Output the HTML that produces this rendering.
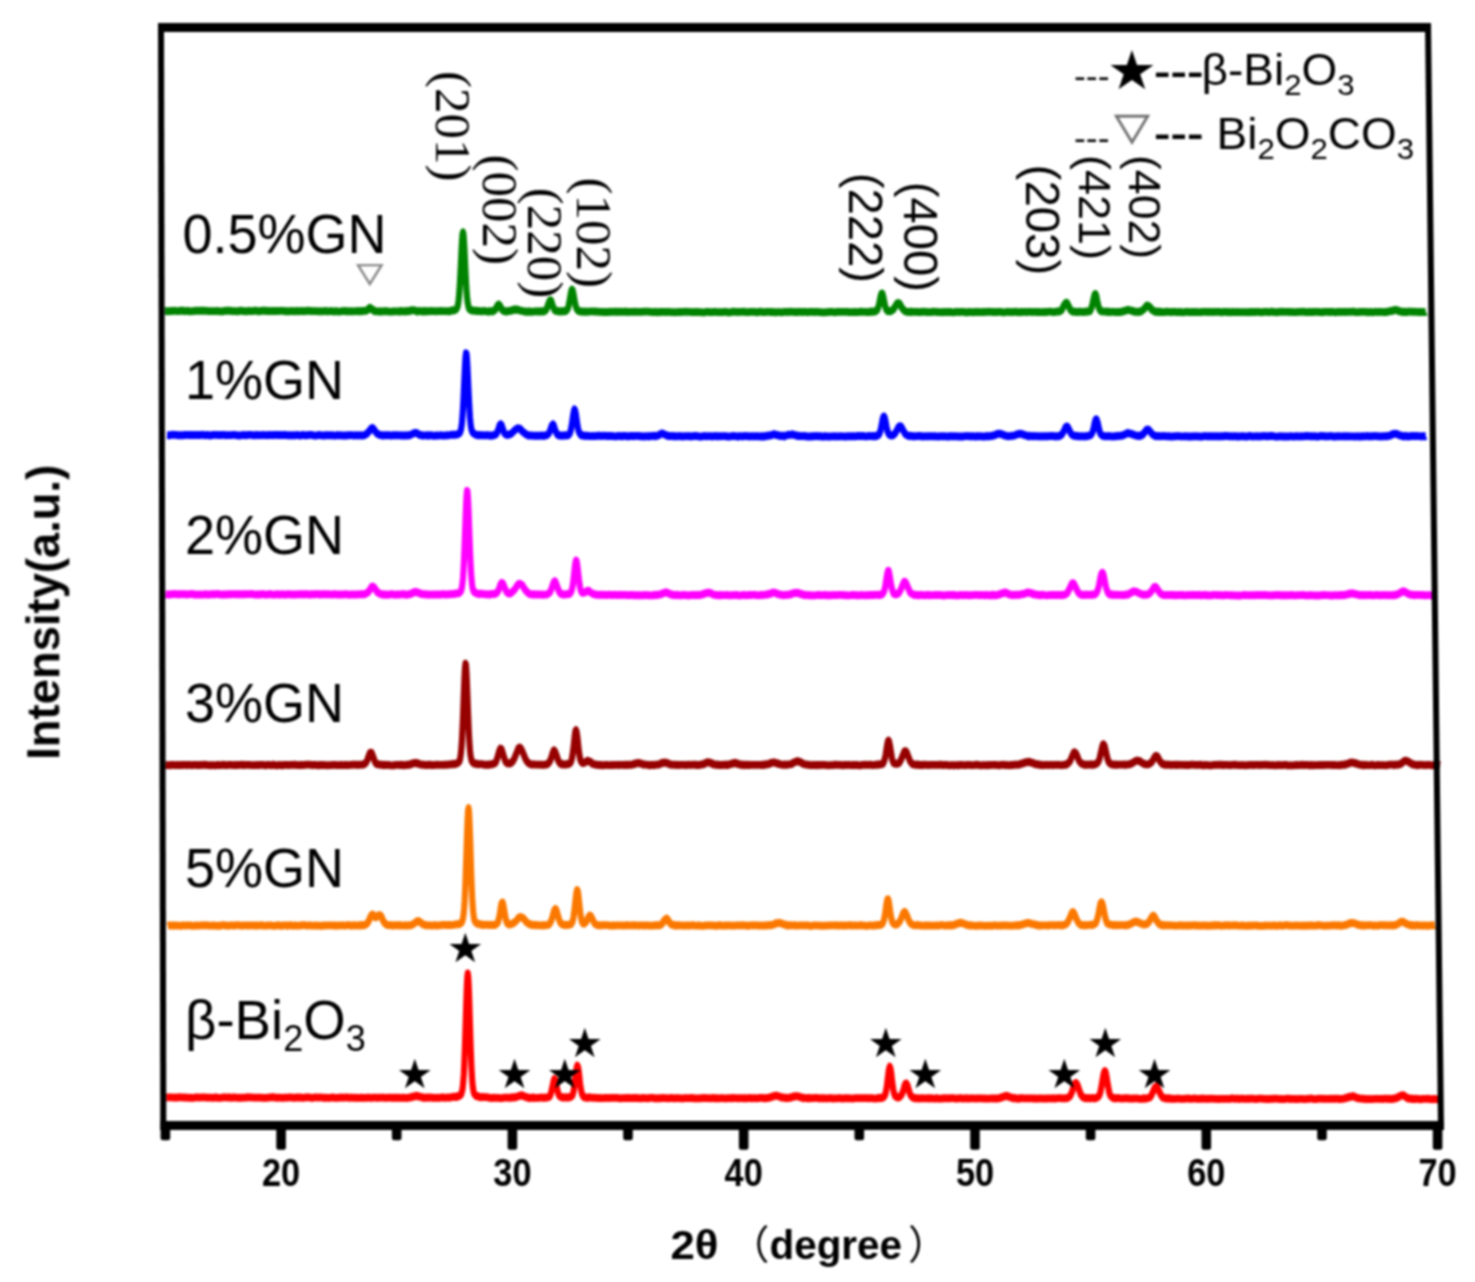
<!DOCTYPE html>
<html lang="en"><head><meta charset="utf-8"><title>XRD patterns</title>
<style>html,body{margin:0;padding:0;background:#fff}svg{display:block}.s{font-family:"Liberation Sans","DejaVu Sans",sans-serif}.r{font-family:"Liberation Serif","DejaVu Serif",serif}.b{font-family:"Liberation Sans","Noto Sans CJK SC",sans-serif;font-weight:bold}.g{font-family:"DejaVu Sans","Liberation Sans",sans-serif}</style></head><body>
<svg width="1475" height="1282" viewBox="0 0 1475 1282">
<defs><filter id="soft" x="0" y="0" width="1475" height="1282" filterUnits="userSpaceOnUse" color-interpolation-filters="sRGB"><feGaussianBlur stdDeviation="0.80"/></filter></defs>
<rect width="1475" height="1282" fill="#fff"/>
<g filter="url(#soft)">
<g id="curves" fill="none" stroke-width="6.15" stroke-linejoin="round" stroke-linecap="butt" transform="scale(1,1.270)">
<path stroke="#008300" d="M165.0,244.9 L166.5,244.9 L168.0,245.1 L169.5,244.9 L171.0,244.9 L172.5,244.9 L174.0,244.7 L175.5,244.8 L177.0,244.9 L178.5,245.0 L180.0,244.7 L181.5,244.7 L183.0,244.6 L184.5,245.0 L186.0,245.0 L187.5,244.7 L189.0,245.1 L190.5,245.2 L192.0,245.0 L193.5,245.0 L195.0,244.8 L196.5,244.6 L198.0,244.8 L199.5,244.7 L201.0,244.7 L202.5,244.7 L204.0,244.6 L205.5,244.8 L207.0,244.8 L208.5,245.0 L210.0,244.9 L211.5,245.0 L213.0,244.9 L214.5,245.0 L216.0,244.9 L217.5,244.8 L219.0,245.1 L220.5,245.2 L222.0,245.1 L223.5,245.1 L225.0,244.8 L226.5,244.7 L228.0,244.7 L229.5,244.6 L231.0,244.9 L232.5,244.9 L234.0,245.0 L235.5,244.9 L237.0,245.1 L238.5,245.1 L240.0,244.7 L241.5,244.7 L243.0,245.0 L244.5,244.9 L246.0,245.1 L247.5,244.9 L249.0,244.7 L250.5,244.9 L252.0,245.0 L253.5,244.8 L255.0,244.7 L256.5,244.7 L258.0,245.1 L259.5,245.1 L261.0,244.8 L262.5,244.7 L264.0,244.7 L265.5,244.6 L267.0,245.0 L268.5,244.8 L270.0,244.9 L271.5,244.9 L273.0,244.8 L274.5,245.0 L276.0,244.8 L277.5,245.0 L279.0,244.8 L280.5,244.8 L282.0,244.8 L283.5,244.8 L285.0,245.1 L286.5,245.1 L288.0,244.9 L289.5,245.1 L291.0,244.9 L292.5,244.9 L294.0,245.1 L295.5,245.1 L297.0,244.8 L298.5,245.2 L300.0,244.9 L301.5,244.8 L303.0,245.1 L304.5,244.9 L306.0,244.9 L307.5,244.7 L309.0,244.7 L310.5,244.9 L312.0,244.9 L313.5,245.0 L315.0,244.9 L316.5,245.0 L318.0,245.2 L319.5,245.1 L321.0,245.1 L322.5,245.2 L324.0,244.9 L325.5,244.8 L327.0,245.2 L328.5,245.2 L330.0,245.0 L331.5,244.9 L333.0,245.1 L334.5,245.3 L336.0,245.0 L337.5,245.2 L339.0,245.3 L340.5,245.2 L342.0,245.0 L343.5,244.9 L345.0,244.8 L346.5,245.2 L348.0,245.0 L349.5,245.1 L351.0,245.0 L352.5,245.2 L354.0,245.1 L355.5,245.0 L357.0,244.9 L357.5,245.1 L358.0,244.9 L358.5,244.9 L359.0,245.0 L359.5,245.2 L360.0,245.1 L360.5,245.0 L361.0,245.2 L361.5,245.0 L362.0,244.8 L362.5,244.8 L363.0,244.9 L363.5,244.8 L364.0,244.8 L364.5,244.8 L365.0,244.9 L365.5,244.6 L366.0,244.5 L366.5,244.6 L367.0,244.5 L367.5,244.1 L368.0,243.7 L368.5,243.3 L369.0,242.8 L369.5,242.5 L370.0,242.3 L370.5,242.8 L371.0,243.0 L371.5,243.4 L372.0,243.3 L372.5,243.8 L373.0,244.1 L373.5,244.5 L374.0,244.5 L374.5,245.0 L375.0,244.7 L375.5,244.9 L376.0,245.1 L376.5,245.2 L377.0,245.2 L377.5,245.2 L378.0,245.2 L378.5,245.3 L379.0,245.1 L379.5,245.2 L380.0,245.3 L380.5,245.3 L381.0,245.1 L381.5,245.2 L382.0,245.3 L382.5,245.2 L383.0,245.2 L383.5,245.1 L384.0,245.1 L384.5,245.2 L386.0,244.9 L387.5,245.1 L389.0,245.4 L390.5,245.4 L392.0,245.3 L393.5,245.1 L395.0,245.2 L396.5,245.2 L398.0,245.1 L399.5,245.3 L400.0,245.0 L400.5,245.2 L401.0,244.9 L401.5,245.1 L402.0,245.1 L402.5,245.0 L403.0,245.2 L403.5,245.1 L404.0,245.2 L404.5,245.3 L405.0,245.1 L405.5,244.9 L406.0,244.9 L406.5,245.1 L407.0,244.9 L407.5,244.9 L408.0,245.2 L408.5,245.1 L409.0,244.9 L409.5,245.0 L410.0,244.7 L410.5,244.7 L411.0,244.3 L411.5,244.3 L412.0,244.3 L412.5,244.4 L413.0,244.4 L413.5,244.2 L414.0,244.3 L414.5,244.4 L415.0,244.4 L415.5,244.6 L416.0,244.9 L416.5,245.1 L417.0,245.1 L417.5,245.3 L418.0,245.0 L418.5,244.9 L419.0,245.0 L419.5,245.0 L420.0,244.9 L420.5,245.0 L421.0,245.1 L421.5,245.1 L422.0,245.0 L422.5,245.3 L423.0,245.4 L423.5,245.2 L424.0,244.9 L424.5,244.8 L425.0,245.2 L425.5,244.9 L426.0,245.2 L426.5,245.2 L427.0,245.0 L428.5,245.2 L430.0,244.9 L431.5,244.9 L433.0,245.0 L434.5,244.9 L436.0,245.2 L437.5,245.0 L439.0,244.9 L440.5,244.8 L442.0,245.0 L443.5,245.0 L445.0,245.0 L446.5,245.0 L448.0,245.1 L449.5,245.1 L450.0,244.9 L450.5,244.7 L451.0,244.7 L451.5,244.5 L452.0,244.3 L452.5,244.5 L453.0,244.6 L453.5,244.3 L454.0,244.2 L454.5,244.1 L455.0,244.1 L455.5,243.9 L456.0,243.7 L456.5,243.3 L457.0,242.5 L457.5,241.5 L458.0,239.8 L458.5,236.9 L459.0,233.4 L459.5,228.3 L460.0,221.6 L460.5,213.9 L461.0,205.6 L461.5,197.3 L462.0,189.7 L462.5,184.6 L463.0,182.9 L463.5,184.8 L464.0,190.0 L464.5,197.1 L465.0,205.6 L465.5,213.9 L466.0,221.8 L466.5,228.3 L467.0,233.4 L467.5,237.1 L468.0,239.5 L468.5,241.5 L469.0,242.8 L469.5,243.5 L470.0,243.7 L470.5,244.1 L471.0,244.1 L471.5,244.4 L472.0,244.6 L472.5,244.4 L473.0,244.3 L473.5,244.5 L474.0,244.6 L474.5,244.8 L475.0,244.8 L475.5,244.6 L476.0,244.9 L476.5,244.7 L477.0,245.0 L478.5,244.8 L480.0,244.9 L481.5,245.1 L483.0,244.9 L484.5,244.9 L486.0,245.0 L486.5,245.2 L487.0,245.3 L487.5,245.3 L488.0,245.4 L488.5,245.2 L489.0,245.3 L489.5,245.0 L490.0,244.9 L490.5,245.1 L491.0,245.0 L491.5,245.1 L492.0,245.1 L492.5,245.0 L493.0,245.1 L493.5,244.8 L494.0,244.5 L494.5,244.2 L495.0,244.0 L495.5,243.5 L496.0,242.6 L496.5,242.1 L497.0,241.4 L497.5,240.6 L498.0,240.1 L498.5,239.7 L499.0,239.9 L499.5,240.3 L500.0,241.0 L500.5,241.4 L501.0,242.5 L501.5,243.1 L502.0,243.6 L502.5,244.2 L503.0,244.5 L503.5,244.7 L504.0,245.0 L504.5,244.8 L505.0,245.0 L505.5,245.0 L506.0,245.3 L506.5,245.3 L507.0,245.0 L507.5,245.0 L508.0,244.8 L508.5,244.8 L509.0,245.0 L509.5,245.0 L510.0,244.8 L510.5,244.6 L511.0,244.4 L511.5,244.4 L512.0,244.5 L512.5,244.1 L513.0,244.2 L513.5,243.8 L514.0,243.7 L514.5,243.7 L515.0,243.9 L515.5,243.7 L516.0,243.7 L516.5,243.9 L517.0,243.7 L517.5,244.0 L518.0,243.9 L518.5,244.2 L519.0,244.2 L519.5,244.2 L520.0,244.5 L520.5,244.6 L521.0,244.7 L521.5,244.8 L522.0,244.9 L522.5,244.8 L523.0,244.9 L523.5,245.1 L524.0,245.2 L524.5,245.2 L525.0,245.4 L525.5,245.3 L526.0,245.5 L526.5,245.2 L527.0,245.4 L527.5,245.5 L528.0,245.5 L528.5,245.3 L529.0,245.2 L529.5,245.5 L530.0,245.2 L531.5,245.5 L533.0,245.5 L534.5,245.2 L536.0,245.1 L537.5,245.3 L538.0,245.2 L538.5,245.1 L539.0,245.4 L539.5,245.3 L540.0,245.4 L540.5,245.1 L541.0,245.1 L541.5,245.3 L542.0,245.0 L542.5,245.0 L543.0,245.2 L543.5,245.3 L544.0,245.3 L544.5,244.8 L545.0,244.7 L545.5,244.5 L546.0,244.0 L546.5,243.5 L547.0,242.4 L547.5,241.3 L548.0,240.1 L548.5,238.9 L549.0,237.9 L549.5,237.0 L550.0,236.5 L550.5,236.3 L551.0,236.7 L551.5,237.6 L552.0,239.0 L552.5,240.4 L553.0,241.6 L553.5,242.2 L554.0,243.0 L554.5,244.0 L555.0,244.3 L555.5,244.8 L556.0,244.8 L556.5,244.9 L557.0,245.0 L557.5,245.1 L558.0,245.2 L558.5,244.9 L559.0,245.2 L559.5,245.3 L560.0,245.1 L560.5,245.1 L561.0,245.3 L561.5,245.1 L562.0,245.0 L562.5,244.9 L563.0,245.1 L563.5,244.8 L564.0,245.2 L564.5,245.2 L565.0,245.1 L565.5,245.0 L566.0,244.8 L566.5,244.4 L567.0,244.0 L567.5,243.3 L568.0,242.5 L568.5,241.1 L569.0,239.1 L569.5,237.2 L570.0,234.9 L570.5,232.5 L571.0,230.3 L571.5,228.5 L572.0,228.0 L572.5,228.4 L573.0,229.6 L573.5,231.6 L574.0,233.9 L574.5,236.2 L575.0,238.5 L575.5,240.1 L576.0,241.7 L576.5,242.9 L577.0,243.5 L577.5,244.1 L578.0,244.6 L578.5,244.9 L579.0,244.9 L579.5,245.2 L580.0,245.2 L580.5,245.1 L581.0,245.3 L581.5,245.3 L582.0,245.3 L582.5,245.2 L583.0,245.5 L583.5,245.4 L584.0,245.4 L584.5,245.5 L585.0,245.6 L585.5,245.2 L586.0,245.4 L586.5,245.5 L588.0,245.3 L589.5,245.3 L591.0,245.2 L592.5,245.2 L594.0,245.3 L595.5,245.2 L597.0,245.3 L598.5,245.6 L600.0,245.5 L601.5,245.5 L603.0,245.7 L604.5,245.6 L606.0,245.7 L607.5,245.6 L609.0,245.7 L610.5,245.4 L612.0,245.5 L613.5,245.6 L615.0,245.3 L616.5,245.7 L618.0,245.4 L619.5,245.5 L621.0,245.4 L622.5,245.5 L624.0,245.6 L625.5,245.3 L627.0,245.7 L628.5,245.5 L630.0,245.6 L631.5,245.6 L633.0,245.5 L634.5,245.4 L636.0,245.6 L637.5,245.6 L639.0,245.5 L640.5,245.6 L642.0,245.5 L643.5,245.3 L645.0,245.4 L646.5,245.3 L648.0,245.3 L649.5,245.6 L651.0,245.5 L652.5,245.8 L654.0,245.8 L655.5,245.4 L657.0,245.8 L658.5,245.9 L660.0,245.5 L661.5,245.8 L663.0,245.6 L664.5,245.6 L666.0,245.8 L667.5,245.6 L669.0,245.6 L670.5,245.8 L672.0,245.8 L673.5,245.7 L675.0,245.9 L676.5,245.8 L678.0,245.7 L679.5,245.5 L681.0,245.7 L682.5,245.6 L684.0,245.5 L685.5,245.4 L687.0,245.6 L688.5,245.5 L690.0,245.6 L691.5,245.7 L693.0,245.7 L694.5,245.5 L696.0,245.7 L697.5,245.6 L699.0,245.8 L700.5,245.7 L702.0,245.9 L703.5,246.0 L705.0,245.9 L706.5,245.6 L708.0,245.5 L709.5,245.8 L711.0,245.8 L712.5,245.8 L714.0,245.6 L715.5,245.6 L717.0,245.7 L718.5,245.7 L720.0,245.7 L721.5,245.7 L723.0,245.8 L724.5,245.6 L726.0,245.5 L727.5,245.9 L729.0,245.9 L730.5,245.9 L732.0,245.5 L733.5,245.4 L735.0,245.5 L736.5,245.6 L738.0,245.7 L739.5,245.5 L741.0,245.6 L742.5,245.5 L744.0,245.4 L745.5,245.7 L747.0,245.7 L748.5,245.7 L750.0,245.6 L751.5,245.6 L753.0,245.5 L754.5,245.6 L756.0,245.7 L757.5,245.9 L759.0,245.5 L760.5,245.4 L762.0,245.7 L763.5,245.8 L765.0,245.8 L766.5,245.6 L768.0,245.6 L769.5,245.5 L771.0,245.8 L772.5,245.6 L774.0,245.7 L775.5,245.9 L777.0,245.7 L778.5,245.7 L780.0,245.8 L781.5,245.9 L783.0,245.7 L784.5,245.6 L786.0,245.5 L787.5,245.8 L789.0,245.5 L790.5,245.4 L792.0,245.6 L793.5,245.6 L795.0,245.8 L796.5,245.6 L798.0,245.8 L799.5,245.5 L801.0,245.5 L802.5,245.7 L804.0,245.5 L805.5,245.5 L807.0,245.7 L808.5,245.8 L810.0,245.6 L811.5,245.5 L813.0,245.5 L814.5,245.7 L816.0,245.6 L817.5,245.5 L819.0,245.7 L820.5,245.7 L822.0,245.9 L823.5,245.9 L825.0,245.9 L826.5,245.7 L828.0,245.8 L829.5,245.6 L831.0,245.6 L832.5,245.6 L834.0,245.8 L835.5,245.9 L837.0,245.6 L838.5,245.6 L840.0,245.6 L841.5,245.6 L843.0,245.6 L844.5,245.6 L846.0,245.5 L847.5,245.6 L849.0,245.8 L850.5,245.7 L852.0,245.8 L853.5,245.7 L855.0,245.5 L856.5,245.7 L858.0,245.8 L859.5,245.6 L861.0,245.4 L862.5,245.5 L864.0,245.6 L865.5,245.6 L867.0,245.8 L868.5,245.7 L869.0,245.7 L869.5,245.4 L870.0,245.5 L870.5,245.6 L871.0,245.3 L871.5,245.2 L872.0,245.5 L872.5,245.6 L873.0,245.3 L873.5,245.4 L874.0,245.2 L874.5,245.4 L875.0,245.3 L875.5,245.0 L876.0,244.8 L876.5,244.7 L877.0,244.2 L877.5,243.6 L878.0,242.5 L878.5,241.2 L879.0,239.9 L879.5,237.9 L880.0,235.8 L880.5,233.8 L881.0,232.2 L881.5,231.1 L882.0,231.0 L882.5,231.4 L883.0,232.9 L883.5,234.6 L884.0,236.7 L884.5,238.7 L885.0,240.5 L885.5,242.0 L886.0,243.2 L886.5,243.9 L887.0,244.4 L887.5,244.8 L888.0,245.1 L888.5,245.0 L889.0,245.0 L889.5,244.9 L890.0,245.1 L890.5,245.2 L891.0,244.9 L891.5,244.6 L892.0,244.3 L892.5,244.1 L893.0,243.7 L893.5,243.6 L894.0,242.8 L894.5,242.2 L895.0,241.4 L895.5,241.0 L896.0,240.4 L896.5,239.6 L897.0,238.9 L897.5,238.7 L898.0,238.6 L898.5,238.8 L899.0,238.7 L899.5,239.1 L900.0,239.6 L900.5,240.3 L901.0,241.0 L901.5,241.9 L902.0,242.6 L902.5,243.0 L903.0,243.4 L903.5,243.9 L904.0,244.2 L904.5,244.8 L905.0,244.9 L905.5,245.1 L906.0,245.4 L906.5,245.3 L907.0,245.3 L907.5,245.6 L908.0,245.7 L908.5,245.5 L909.0,245.5 L909.5,245.7 L910.0,245.6 L910.5,245.4 L911.0,245.3 L911.5,245.7 L912.0,245.7 L912.5,245.6 L914.0,245.6 L915.5,245.6 L917.0,245.5 L918.5,245.8 L920.0,245.8 L921.5,245.5 L923.0,245.4 L924.5,245.5 L926.0,245.6 L927.5,245.8 L929.0,245.8 L930.5,245.7 L932.0,245.5 L933.5,245.4 L935.0,245.5 L936.5,245.5 L938.0,245.8 L939.5,245.7 L941.0,245.7 L942.5,245.9 L944.0,245.6 L945.5,245.7 L947.0,245.5 L948.5,245.7 L950.0,245.5 L951.5,245.8 L953.0,245.9 L954.5,245.9 L956.0,245.5 L957.5,245.5 L959.0,245.7 L960.5,245.5 L962.0,245.6 L963.5,245.6 L965.0,245.9 L966.5,245.8 L968.0,245.9 L969.5,245.6 L971.0,245.8 L972.5,245.7 L974.0,245.9 L975.5,245.5 L977.0,245.8 L978.5,245.6 L980.0,245.7 L981.5,245.7 L983.0,245.5 L984.5,245.8 L986.0,245.6 L987.5,245.6 L989.0,245.4 L990.5,245.5 L992.0,245.6 L993.5,245.8 L995.0,245.6 L996.5,245.7 L998.0,245.5 L999.5,245.6 L1001.0,245.6 L1002.5,245.9 L1004.0,245.9 L1005.5,245.8 L1007.0,245.5 L1008.5,245.6 L1010.0,245.7 L1011.5,245.6 L1013.0,245.7 L1014.5,245.6 L1016.0,245.4 L1017.5,245.8 L1019.0,245.9 L1020.5,245.6 L1022.0,245.7 L1023.5,245.6 L1025.0,245.6 L1026.5,245.7 L1028.0,245.6 L1029.5,245.6 L1031.0,245.6 L1032.5,245.7 L1034.0,245.6 L1035.5,245.5 L1037.0,245.7 L1038.5,245.6 L1040.0,245.8 L1041.5,245.7 L1043.0,245.8 L1044.5,245.6 L1046.0,245.8 L1047.5,245.5 L1049.0,245.4 L1050.5,245.4 L1052.0,245.6 L1053.5,245.7 L1054.0,245.5 L1054.5,245.5 L1055.0,245.7 L1055.5,245.6 L1056.0,245.4 L1056.5,245.3 L1057.0,245.3 L1057.5,245.2 L1058.0,245.3 L1058.5,245.1 L1059.0,245.4 L1059.5,245.2 L1060.0,245.0 L1060.5,244.9 L1061.0,244.6 L1061.5,244.2 L1062.0,243.5 L1062.5,242.8 L1063.0,242.0 L1063.5,241.0 L1064.0,240.3 L1064.5,239.7 L1065.0,239.2 L1065.5,238.7 L1066.0,238.4 L1066.5,238.4 L1067.0,238.5 L1067.5,239.2 L1068.0,240.0 L1068.5,241.0 L1069.0,241.6 L1069.5,242.5 L1070.0,243.2 L1070.5,244.0 L1071.0,244.5 L1071.5,244.8 L1072.0,244.8 L1072.5,245.2 L1073.0,245.5 L1073.5,245.4 L1074.0,245.3 L1074.5,245.4 L1075.0,245.3 L1075.5,245.5 L1076.0,245.7 L1076.5,245.6 L1077.0,245.6 L1077.5,245.7 L1078.0,245.4 L1078.5,245.7 L1079.0,245.6 L1079.5,245.4 L1080.0,245.3 L1080.5,245.3 L1082.0,245.5 L1082.5,245.6 L1083.0,245.5 L1083.5,245.7 L1084.0,245.5 L1084.5,245.5 L1085.0,245.3 L1085.5,245.6 L1086.0,245.3 L1086.5,245.6 L1087.0,245.5 L1087.5,245.4 L1088.0,245.3 L1088.5,245.1 L1089.0,245.2 L1089.5,245.2 L1090.0,244.8 L1090.5,244.2 L1091.0,243.2 L1091.5,242.4 L1092.0,240.9 L1092.5,239.5 L1093.0,237.4 L1093.5,235.5 L1094.0,233.9 L1094.5,232.3 L1095.0,231.6 L1095.5,231.5 L1096.0,232.3 L1096.5,233.8 L1097.0,236.1 L1097.5,238.1 L1098.0,239.8 L1098.5,241.2 L1099.0,242.6 L1099.5,243.6 L1100.0,244.2 L1100.5,244.7 L1101.0,245.1 L1101.5,244.9 L1102.0,245.0 L1102.5,245.2 L1103.0,245.2 L1103.5,245.3 L1104.0,245.4 L1104.5,245.3 L1105.0,245.4 L1105.5,245.4 L1106.0,245.5 L1106.5,245.4 L1107.0,245.6 L1107.5,245.3 L1108.0,245.6 L1108.5,245.4 L1109.0,245.7 L1109.5,245.7 L1111.0,245.6 L1112.5,245.5 L1114.0,245.6 L1115.5,245.7 L1116.0,245.7 L1116.5,245.7 L1117.0,245.6 L1117.5,245.8 L1118.0,245.8 L1118.5,245.8 L1119.0,245.6 L1119.5,245.5 L1120.0,245.5 L1120.5,245.7 L1121.0,245.5 L1121.5,245.4 L1122.0,245.3 L1122.5,245.4 L1123.0,245.1 L1123.5,244.8 L1124.0,244.9 L1124.5,245.0 L1125.0,244.8 L1125.5,244.6 L1126.0,244.5 L1126.5,244.2 L1127.0,244.2 L1127.5,244.0 L1128.0,243.9 L1128.5,244.1 L1129.0,244.2 L1129.5,244.2 L1130.0,244.2 L1130.5,244.5 L1131.0,244.6 L1131.5,244.6 L1132.0,244.7 L1132.5,244.9 L1133.0,244.9 L1133.5,244.9 L1134.0,245.4 L1134.5,245.6 L1135.0,245.5 L1135.5,245.6 L1136.0,245.5 L1136.5,245.6 L1137.0,245.4 L1137.5,245.6 L1138.0,245.5 L1138.5,245.7 L1139.0,245.3 L1139.5,245.5 L1140.0,245.2 L1140.5,245.2 L1141.0,245.3 L1141.5,244.8 L1142.0,244.5 L1142.5,244.3 L1143.0,244.0 L1143.5,243.5 L1144.0,243.4 L1144.5,243.0 L1145.0,242.4 L1145.5,241.8 L1146.0,241.4 L1146.5,240.8 L1147.0,240.5 L1147.5,240.7 L1148.0,240.6 L1148.5,240.8 L1149.0,241.3 L1149.5,241.8 L1150.0,242.0 L1150.5,242.3 L1151.0,242.8 L1151.5,243.6 L1152.0,244.1 L1152.5,244.1 L1153.0,244.7 L1153.5,244.8 L1154.0,245.0 L1154.5,245.0 L1155.0,245.4 L1155.5,245.6 L1156.0,245.4 L1156.5,245.5 L1157.0,245.4 L1157.5,245.7 L1158.0,245.4 L1158.5,245.3 L1159.0,245.6 L1159.5,245.5 L1160.0,245.8 L1160.5,245.8 L1161.0,245.8 L1161.5,245.5 L1162.0,245.7 L1163.5,245.8 L1165.0,245.7 L1166.5,245.4 L1168.0,245.5 L1169.5,245.5 L1171.0,245.7 L1172.5,245.5 L1174.0,245.5 L1175.5,245.5 L1177.0,245.7 L1178.5,245.8 L1180.0,245.6 L1181.5,245.7 L1183.0,245.9 L1184.5,245.8 L1186.0,245.6 L1187.5,245.5 L1189.0,245.8 L1190.5,245.8 L1192.0,245.6 L1193.5,245.7 L1195.0,245.5 L1196.5,245.8 L1198.0,245.7 L1199.5,245.7 L1201.0,245.7 L1202.5,245.5 L1204.0,245.6 L1205.5,245.6 L1207.0,245.5 L1208.5,245.8 L1210.0,245.5 L1211.5,245.5 L1213.0,245.7 L1214.5,245.6 L1216.0,245.5 L1217.5,245.6 L1219.0,245.5 L1220.5,245.8 L1222.0,245.9 L1223.5,245.5 L1225.0,245.6 L1226.5,245.8 L1228.0,245.6 L1229.5,245.9 L1231.0,245.7 L1232.5,245.5 L1234.0,245.7 L1235.5,245.7 L1237.0,245.6 L1238.5,245.7 L1240.0,245.8 L1241.5,245.7 L1243.0,245.7 L1244.5,245.8 L1246.0,245.8 L1247.5,245.7 L1249.0,245.9 L1250.5,245.6 L1252.0,245.8 L1253.5,245.5 L1255.0,245.7 L1256.5,245.5 L1258.0,245.6 L1259.5,245.8 L1261.0,245.8 L1262.5,245.9 L1264.0,245.6 L1265.5,245.6 L1267.0,245.5 L1268.5,245.7 L1270.0,245.7 L1271.5,245.4 L1273.0,245.6 L1274.5,245.8 L1276.0,245.7 L1277.5,245.9 L1279.0,245.6 L1280.5,245.5 L1282.0,245.4 L1283.5,245.6 L1285.0,245.6 L1286.5,245.6 L1288.0,245.5 L1289.5,245.8 L1291.0,245.5 L1292.5,245.8 L1294.0,245.7 L1295.5,245.7 L1297.0,245.8 L1298.5,245.6 L1300.0,245.5 L1301.5,245.5 L1303.0,245.4 L1304.5,245.5 L1306.0,245.7 L1307.5,245.7 L1309.0,245.6 L1310.5,245.7 L1312.0,245.5 L1313.5,245.8 L1315.0,245.5 L1316.5,245.5 L1318.0,245.5 L1319.5,245.7 L1321.0,245.8 L1322.5,245.9 L1324.0,245.5 L1325.5,245.6 L1327.0,245.6 L1328.5,245.5 L1330.0,245.8 L1331.5,245.5 L1333.0,245.6 L1334.5,245.8 L1336.0,245.9 L1337.5,245.6 L1339.0,245.6 L1340.5,245.8 L1342.0,245.5 L1343.5,245.5 L1345.0,245.8 L1346.5,245.5 L1348.0,245.6 L1349.5,245.5 L1351.0,245.6 L1352.5,245.4 L1354.0,245.4 L1355.5,245.8 L1357.0,245.8 L1358.5,245.8 L1360.0,245.6 L1361.5,245.5 L1363.0,245.6 L1364.5,245.5 L1366.0,245.6 L1367.5,245.9 L1369.0,245.7 L1370.5,245.6 L1372.0,245.9 L1373.5,245.8 L1375.0,245.5 L1376.5,245.6 L1378.0,245.7 L1379.5,245.5 L1381.0,245.5 L1382.5,245.7 L1383.0,245.8 L1383.5,245.7 L1384.0,245.8 L1384.5,245.7 L1385.0,245.6 L1385.5,245.8 L1386.0,245.6 L1386.5,245.7 L1387.0,245.4 L1387.5,245.4 L1388.0,245.3 L1388.5,245.4 L1389.0,245.2 L1389.5,245.1 L1390.0,245.0 L1390.5,245.0 L1391.0,244.8 L1391.5,244.7 L1392.0,244.9 L1392.5,244.7 L1393.0,244.7 L1393.5,244.3 L1394.0,244.2 L1394.5,244.0 L1395.0,244.2 L1395.5,244.2 L1396.0,244.1 L1396.5,244.1 L1397.0,244.2 L1397.5,244.4 L1398.0,244.6 L1398.5,245.0 L1399.0,245.1 L1399.5,245.0 L1400.0,245.1 L1400.5,245.1 L1401.0,245.5 L1401.5,245.4 L1402.0,245.6 L1402.5,245.6 L1403.0,245.8 L1403.5,245.4 L1404.0,245.5 L1404.5,245.5 L1405.0,245.4 L1405.5,245.7 L1406.0,245.6 L1406.5,245.7 L1407.0,245.7 L1407.5,245.4 L1408.0,245.5 L1408.5,245.5 L1409.0,245.4 L1410.5,245.4 L1412.0,245.6 L1413.5,245.4 L1415.0,245.5 L1416.5,245.6 L1418.0,245.7 L1419.5,245.5 L1421.0,245.7 L1422.5,245.6 L1424.0,245.7 L1425.5,245.8 L1426.0,245.5"/>
<path stroke="#0000ff" d="M167.0,342.6 L168.5,342.7 L170.0,342.7 L171.5,342.5 L173.0,342.3 L174.5,342.5 L176.0,342.4 L177.5,342.7 L179.0,342.7 L180.5,342.7 L182.0,342.7 L183.5,342.7 L185.0,342.5 L186.5,342.5 L188.0,342.4 L189.5,342.7 L191.0,342.4 L192.5,342.7 L194.0,342.4 L195.5,342.6 L197.0,342.5 L198.5,342.5 L200.0,342.7 L201.5,342.4 L203.0,342.3 L204.5,342.7 L206.0,342.6 L207.5,342.4 L209.0,342.8 L210.5,342.9 L212.0,342.5 L213.5,342.5 L215.0,342.4 L216.5,342.5 L218.0,342.6 L219.5,342.4 L221.0,342.6 L222.5,342.4 L224.0,342.4 L225.5,342.7 L227.0,342.6 L228.5,342.6 L230.0,342.6 L231.5,342.6 L233.0,342.5 L234.5,342.4 L236.0,342.6 L237.5,342.8 L239.0,342.9 L240.5,342.8 L242.0,342.6 L243.5,342.5 L245.0,342.7 L246.5,342.7 L248.0,342.4 L249.5,342.4 L251.0,342.5 L252.5,342.6 L254.0,342.7 L255.5,342.7 L257.0,342.4 L258.5,342.7 L260.0,342.6 L261.5,342.6 L263.0,342.5 L264.5,342.6 L266.0,342.6 L267.5,342.7 L269.0,342.5 L270.5,342.6 L272.0,342.5 L273.5,342.7 L275.0,342.4 L276.5,342.5 L278.0,342.5 L279.5,342.7 L281.0,342.5 L282.5,342.6 L284.0,342.5 L285.5,342.5 L287.0,342.6 L288.5,342.9 L290.0,342.7 L291.5,342.9 L293.0,342.6 L294.5,342.9 L296.0,342.7 L297.5,342.5 L299.0,342.8 L300.5,342.9 L302.0,342.5 L303.5,342.5 L305.0,342.8 L306.5,342.7 L308.0,342.6 L309.5,342.4 L311.0,342.4 L312.5,342.7 L314.0,342.9 L315.5,343.0 L317.0,342.8 L318.5,342.5 L320.0,342.6 L321.5,342.8 L323.0,342.9 L324.5,342.9 L326.0,342.7 L327.5,342.7 L329.0,342.7 L330.5,342.8 L332.0,342.7 L333.5,342.9 L335.0,343.0 L336.5,342.7 L338.0,342.6 L339.5,342.9 L341.0,342.7 L342.5,343.0 L344.0,342.8 L345.5,342.9 L347.0,342.9 L348.5,342.7 L350.0,342.6 L351.5,342.6 L353.0,342.8 L354.5,342.9 L356.0,342.6 L357.5,342.9 L359.0,342.8 L359.5,342.6 L360.0,342.7 L360.5,342.9 L361.0,342.8 L361.5,342.8 L362.0,342.9 L362.5,343.0 L363.0,342.8 L363.5,342.6 L364.0,342.6 L364.5,342.7 L365.0,342.5 L365.5,342.3 L366.0,341.9 L366.5,341.6 L367.0,341.5 L367.5,341.1 L368.0,340.3 L368.5,340.1 L369.0,339.7 L369.5,339.1 L370.0,338.6 L370.5,338.1 L371.0,337.5 L371.5,337.3 L372.0,337.0 L372.5,336.9 L373.0,337.2 L373.5,337.6 L374.0,338.3 L374.5,338.8 L375.0,339.3 L375.5,339.9 L376.0,340.2 L376.5,340.8 L377.0,341.4 L377.5,341.6 L378.0,341.8 L378.5,342.1 L379.0,342.2 L379.5,342.5 L380.0,342.4 L380.5,342.4 L381.0,342.5 L381.5,342.7 L382.0,342.9 L382.5,342.9 L383.0,343.0 L383.5,342.8 L384.0,342.6 L384.5,342.7 L385.0,342.7 L385.5,342.6 L386.0,342.8 L386.5,342.7 L388.0,342.7 L389.5,342.7 L391.0,343.0 L392.5,342.7 L394.0,342.7 L395.5,342.7 L397.0,342.7 L398.5,342.8 L400.0,342.7 L401.5,343.0 L402.0,342.9 L402.5,343.0 L403.0,342.7 L403.5,342.8 L404.0,342.9 L404.5,343.0 L405.0,342.8 L405.5,342.8 L406.0,343.0 L406.5,343.0 L407.0,342.7 L407.5,342.8 L408.0,342.9 L408.5,342.7 L409.0,342.7 L409.5,342.7 L410.0,342.7 L410.5,342.4 L411.0,342.3 L411.5,342.0 L412.0,341.9 L412.5,341.6 L413.0,341.4 L413.5,341.2 L414.0,341.0 L414.5,340.8 L415.0,340.8 L415.5,340.9 L416.0,340.9 L416.5,340.8 L417.0,341.3 L417.5,341.3 L418.0,341.8 L418.5,341.9 L419.0,342.0 L419.5,342.3 L420.0,342.6 L420.5,342.4 L421.0,342.4 L421.5,342.6 L422.0,342.9 L422.5,342.9 L423.0,343.0 L423.5,342.8 L424.0,342.9 L424.5,342.8 L425.0,342.8 L425.5,342.8 L426.0,342.8 L426.5,342.8 L427.0,343.0 L427.5,342.8 L428.0,342.7 L428.5,342.7 L429.0,343.1 L429.5,342.9 L431.0,342.7 L432.5,343.0 L434.0,343.1 L435.5,343.1 L437.0,342.9 L438.5,343.0 L440.0,342.8 L441.5,342.7 L443.0,343.0 L444.5,343.0 L446.0,342.7 L447.5,342.9 L449.0,342.6 L450.5,342.5 L452.0,342.3 L453.5,342.3 L454.0,342.3 L454.5,342.5 L455.0,342.3 L455.5,342.2 L456.0,342.1 L456.5,342.1 L457.0,342.2 L457.5,342.1 L458.0,341.7 L458.5,341.7 L459.0,341.5 L459.5,341.1 L460.0,340.5 L460.5,339.6 L461.0,338.1 L461.5,335.7 L462.0,332.3 L462.5,327.5 L463.0,321.4 L463.5,313.7 L464.0,305.1 L464.5,296.2 L465.0,288.0 L465.5,281.4 L466.0,278.2 L466.5,278.5 L467.0,282.7 L467.5,289.6 L468.0,298.2 L468.5,307.1 L469.0,315.4 L469.5,322.6 L470.0,328.6 L470.5,333.1 L471.0,336.4 L471.5,338.2 L472.0,339.5 L472.5,340.4 L473.0,340.9 L473.5,341.2 L474.0,341.4 L474.5,341.7 L475.0,341.8 L475.5,342.2 L476.0,342.3 L476.5,342.5 L477.0,342.7 L477.5,342.6 L478.0,342.7 L478.5,342.4 L479.0,342.4 L479.5,342.7 L480.0,342.7 L480.5,342.5 L482.0,342.8 L483.5,342.7 L485.0,342.8 L486.5,342.7 L488.0,342.7 L488.5,342.6 L489.0,342.8 L489.5,343.0 L490.0,343.1 L490.5,343.0 L491.0,343.1 L491.5,342.8 L492.0,342.7 L492.5,343.0 L493.0,342.9 L493.5,342.8 L494.0,342.5 L494.5,342.4 L495.0,342.4 L495.5,342.3 L496.0,342.0 L496.5,341.5 L497.0,340.7 L497.5,339.7 L498.0,338.9 L498.5,337.8 L499.0,336.4 L499.5,335.1 L500.0,334.4 L500.5,334.0 L501.0,334.1 L501.5,334.7 L502.0,335.7 L502.5,337.0 L503.0,338.0 L503.5,339.3 L504.0,340.5 L504.5,341.2 L505.0,341.6 L505.5,341.9 L506.0,342.0 L506.5,342.4 L507.0,342.5 L507.5,342.3 L508.0,342.4 L508.5,342.4 L509.0,342.3 L509.5,342.1 L510.0,341.8 L510.5,341.6 L511.0,341.7 L511.5,341.2 L512.0,341.0 L512.5,340.6 L513.0,340.1 L513.5,339.8 L514.0,339.3 L514.5,339.0 L515.0,338.6 L515.5,338.2 L516.0,338.2 L516.5,337.7 L517.0,337.4 L517.5,337.4 L518.0,337.2 L518.5,337.3 L519.0,337.4 L519.5,337.4 L520.0,337.8 L520.5,337.9 L521.0,338.3 L521.5,338.9 L522.0,339.5 L522.5,339.8 L523.0,339.9 L523.5,340.4 L524.0,340.7 L524.5,341.2 L525.0,341.3 L525.5,341.5 L526.0,341.9 L526.5,342.2 L527.0,342.4 L527.5,342.5 L528.0,342.8 L528.5,342.7 L529.0,343.0 L529.5,342.8 L530.0,342.9 L530.5,342.8 L531.0,343.0 L531.5,343.1 L532.0,342.9 L532.5,343.0 L534.0,343.1 L535.5,343.1 L537.0,343.1 L538.5,343.1 L540.0,343.2 L540.5,343.0 L541.0,342.9 L541.5,342.8 L542.0,343.1 L542.5,343.2 L543.0,343.0 L543.5,343.2 L544.0,343.3 L544.5,342.9 L545.0,343.1 L545.5,342.9 L546.0,342.8 L546.5,342.7 L547.0,342.6 L547.5,342.3 L548.0,341.9 L548.5,341.5 L549.0,341.0 L549.5,340.1 L550.0,339.1 L550.5,338.3 L551.0,336.9 L551.5,335.8 L552.0,334.9 L552.5,334.5 L553.0,334.1 L553.5,334.5 L554.0,335.7 L554.5,336.9 L555.0,338.2 L555.5,339.2 L556.0,340.1 L556.5,340.8 L557.0,341.8 L557.5,342.3 L558.0,342.5 L558.5,342.8 L559.0,342.7 L559.5,342.8 L560.0,343.1 L560.5,342.8 L561.0,343.0 L561.5,342.8 L562.0,343.1 L562.5,343.2 L563.0,343.1 L563.5,343.0 L564.0,342.7 L564.5,342.9 L565.0,342.8 L565.5,342.8 L566.0,342.6 L566.5,343.0 L567.0,342.8 L567.5,342.7 L568.0,342.7 L568.5,342.6 L569.0,342.1 L569.5,341.5 L570.0,340.9 L570.5,339.5 L571.0,338.1 L571.5,335.7 L572.0,333.5 L572.5,330.6 L573.0,327.8 L573.5,325.5 L574.0,323.3 L574.5,322.4 L575.0,323.0 L575.5,324.5 L576.0,326.8 L576.5,329.6 L577.0,332.4 L577.5,335.2 L578.0,337.3 L578.5,338.9 L579.0,340.2 L579.5,341.0 L580.0,341.6 L580.5,342.0 L581.0,342.7 L581.5,342.6 L582.0,342.8 L582.5,342.7 L583.0,343.1 L583.5,343.0 L584.0,342.9 L584.5,343.1 L585.0,343.3 L585.5,343.4 L586.0,343.1 L586.5,343.1 L587.0,343.2 L587.5,343.1 L588.0,343.2 L588.5,343.3 L589.0,343.3 L590.5,343.4 L592.0,343.4 L593.5,343.2 L595.0,343.4 L596.5,343.3 L598.0,343.1 L599.5,343.0 L601.0,343.3 L602.5,343.2 L604.0,343.1 L605.5,343.2 L607.0,343.3 L608.5,343.2 L610.0,343.3 L611.5,343.3 L613.0,343.4 L614.5,343.6 L616.0,343.6 L617.5,343.3 L619.0,343.5 L620.5,343.3 L622.0,343.6 L623.5,343.2 L625.0,343.2 L626.5,343.5 L628.0,343.5 L629.5,343.5 L631.0,343.3 L632.5,343.2 L634.0,343.5 L635.5,343.2 L637.0,343.2 L638.5,343.3 L640.0,343.5 L641.5,343.5 L643.0,343.7 L644.5,343.6 L646.0,343.4 L647.5,343.6 L649.0,343.4 L649.5,343.2 L650.0,343.6 L650.5,343.6 L651.0,343.5 L651.5,343.4 L652.0,343.3 L652.5,343.2 L653.0,343.1 L653.5,343.1 L654.0,343.3 L654.5,343.5 L655.0,343.6 L655.5,343.3 L656.0,343.3 L656.5,343.1 L657.0,343.2 L657.5,343.1 L658.0,343.0 L658.5,342.9 L659.0,342.6 L659.5,342.3 L660.0,341.9 L660.5,341.8 L661.0,341.7 L661.5,341.4 L662.0,341.3 L662.5,341.4 L663.0,341.4 L663.5,341.6 L664.0,341.7 L664.5,342.2 L665.0,342.3 L665.5,342.4 L666.0,342.5 L666.5,342.6 L667.0,342.7 L667.5,343.2 L668.0,343.3 L668.5,343.3 L669.0,343.4 L669.5,343.2 L670.0,343.3 L670.5,343.2 L671.0,343.3 L671.5,343.4 L672.0,343.3 L672.5,343.3 L673.0,343.5 L673.5,343.5 L674.0,343.6 L674.5,343.4 L675.0,343.2 L675.5,343.6 L676.0,343.6 L676.5,343.6 L678.0,343.5 L679.5,343.3 L681.0,343.7 L682.5,343.5 L684.0,343.7 L685.5,343.4 L687.0,343.4 L688.5,343.5 L690.0,343.4 L691.5,343.7 L693.0,343.4 L694.5,343.3 L696.0,343.3 L697.5,343.4 L699.0,343.7 L700.5,343.8 L702.0,343.7 L703.5,343.5 L705.0,343.3 L706.5,343.6 L708.0,343.4 L709.5,343.4 L711.0,343.5 L712.5,343.7 L714.0,343.4 L715.5,343.3 L717.0,343.7 L718.5,343.3 L720.0,343.6 L721.5,343.4 L723.0,343.4 L724.5,343.4 L726.0,343.5 L727.5,343.7 L729.0,343.8 L730.5,343.6 L732.0,343.4 L733.5,343.3 L735.0,343.4 L736.5,343.6 L738.0,343.8 L739.5,343.4 L741.0,343.4 L742.5,343.7 L744.0,343.4 L745.5,343.3 L747.0,343.4 L748.5,343.7 L750.0,343.5 L751.5,343.6 L753.0,343.4 L754.5,343.6 L756.0,343.4 L757.5,343.5 L759.0,343.6 L760.5,343.7 L761.0,343.5 L761.5,343.7 L762.0,343.5 L762.5,343.7 L763.0,343.8 L763.5,343.8 L764.0,343.4 L764.5,343.3 L765.0,343.5 L765.5,343.6 L766.0,343.3 L766.5,343.5 L767.0,343.3 L767.5,343.0 L768.0,342.9 L768.5,342.8 L769.0,342.8 L769.5,343.1 L770.0,342.9 L770.5,342.9 L771.0,342.8 L771.5,342.4 L772.0,342.4 L772.5,342.3 L773.0,342.2 L773.5,341.9 L774.0,342.2 L774.5,341.9 L775.0,342.1 L775.5,342.3 L776.0,342.4 L776.5,342.6 L777.0,342.5 L777.5,342.6 L778.0,342.9 L778.5,342.7 L779.0,343.1 L779.5,343.0 L780.0,343.1 L780.5,343.1 L781.0,343.4 L781.5,343.2 L782.0,343.1 L782.5,343.1 L783.0,343.1 L783.5,343.3 L784.0,343.6 L784.5,343.1 L785.0,343.2 L785.5,343.1 L786.0,343.0 L786.5,342.9 L787.0,342.7 L787.5,342.7 L788.0,342.5 L788.5,342.3 L789.0,342.2 L789.5,342.4 L790.0,342.4 L790.5,342.4 L791.0,342.3 L791.5,342.2 L792.0,342.0 L792.5,341.9 L793.0,342.3 L793.5,342.4 L794.0,342.5 L794.5,342.4 L795.0,342.7 L795.5,342.8 L796.0,342.7 L796.5,342.8 L797.0,343.3 L797.5,343.3 L798.0,343.1 L798.5,343.1 L799.0,343.4 L799.5,343.3 L800.0,343.4 L800.5,343.3 L801.0,343.3 L801.5,343.4 L802.0,343.4 L802.5,343.3 L803.0,343.3 L803.5,343.4 L804.0,343.3 L804.5,343.2 L805.0,343.4 L805.5,343.3 L806.0,343.6 L807.5,343.7 L809.0,343.7 L810.5,343.8 L812.0,343.4 L813.5,343.5 L815.0,343.5 L816.5,343.3 L818.0,343.6 L819.5,343.3 L821.0,343.7 L822.5,343.7 L824.0,343.8 L825.5,343.4 L827.0,343.7 L828.5,343.8 L830.0,343.7 L831.5,343.6 L833.0,343.6 L834.5,343.5 L836.0,343.7 L837.5,343.6 L839.0,343.6 L840.5,343.5 L842.0,343.6 L843.5,343.6 L845.0,343.7 L846.5,343.7 L848.0,343.5 L849.5,343.6 L851.0,343.4 L852.5,343.5 L854.0,343.5 L855.5,343.6 L857.0,343.3 L858.5,343.3 L860.0,343.3 L861.5,343.5 L863.0,343.3 L864.5,343.5 L866.0,343.6 L867.5,343.5 L869.0,343.3 L870.5,343.4 L871.0,343.4 L871.5,343.4 L872.0,343.2 L872.5,343.4 L873.0,343.3 L873.5,343.6 L874.0,343.4 L874.5,343.4 L875.0,343.5 L875.5,343.5 L876.0,343.1 L876.5,343.3 L877.0,342.9 L877.5,343.1 L878.0,342.9 L878.5,342.4 L879.0,342.1 L879.5,341.3 L880.0,340.2 L880.5,338.9 L881.0,337.2 L881.5,335.3 L882.0,333.2 L882.5,330.7 L883.0,329.2 L883.5,328.1 L884.0,327.9 L884.5,328.5 L885.0,329.8 L885.5,331.6 L886.0,333.7 L886.5,336.1 L887.0,337.7 L887.5,339.5 L888.0,340.5 L888.5,341.4 L889.0,342.1 L889.5,342.2 L890.0,342.6 L890.5,342.9 L891.0,342.8 L891.5,342.7 L892.0,342.6 L892.5,342.9 L893.0,342.4 L893.5,342.4 L894.0,342.2 L894.5,341.6 L895.0,341.3 L895.5,340.8 L896.0,339.9 L896.5,339.2 L897.0,338.7 L897.5,337.7 L898.0,337.0 L898.5,336.3 L899.0,335.9 L899.5,335.6 L900.0,335.5 L900.5,335.5 L901.0,335.8 L901.5,336.2 L902.0,337.0 L902.5,337.8 L903.0,338.7 L903.5,339.4 L904.0,339.9 L904.5,340.7 L905.0,341.5 L905.5,341.9 L906.0,342.3 L906.5,342.4 L907.0,342.6 L907.5,342.8 L908.0,343.0 L908.5,343.0 L909.0,343.4 L909.5,343.2 L910.0,343.1 L910.5,343.1 L911.0,343.3 L911.5,343.4 L912.0,343.5 L912.5,343.3 L913.0,343.6 L913.5,343.6 L914.0,343.5 L915.5,343.5 L917.0,343.4 L918.5,343.3 L920.0,343.2 L921.5,343.6 L923.0,343.7 L924.5,343.5 L926.0,343.6 L927.5,343.5 L929.0,343.6 L930.5,343.3 L932.0,343.6 L933.5,343.4 L935.0,343.5 L936.5,343.6 L938.0,343.7 L939.5,343.6 L941.0,343.4 L942.5,343.6 L944.0,343.5 L945.5,343.6 L947.0,343.7 L948.5,343.8 L950.0,343.4 L951.5,343.5 L953.0,343.4 L954.5,343.7 L956.0,343.5 L957.5,343.7 L959.0,343.7 L960.5,343.6 L962.0,343.7 L963.5,343.7 L965.0,343.4 L966.5,343.4 L968.0,343.3 L969.5,343.6 L971.0,343.5 L972.5,343.4 L974.0,343.6 L975.5,343.8 L977.0,343.4 L978.5,343.6 L980.0,343.4 L981.5,343.6 L983.0,343.7 L984.5,343.7 L986.0,343.6 L986.5,343.3 L987.0,343.6 L987.5,343.3 L988.0,343.4 L988.5,343.7 L989.0,343.4 L989.5,343.4 L990.0,343.4 L990.5,343.4 L991.0,343.2 L991.5,343.1 L992.0,343.3 L992.5,343.2 L993.0,342.8 L993.5,342.9 L994.0,342.9 L994.5,342.6 L995.0,342.6 L995.5,342.2 L996.0,342.0 L996.5,342.1 L997.0,341.8 L997.5,341.5 L998.0,341.4 L998.5,341.7 L999.0,341.7 L999.5,341.5 L1000.0,341.7 L1000.5,341.6 L1001.0,341.8 L1001.5,341.7 L1002.0,342.1 L1002.5,342.3 L1003.0,342.4 L1003.5,342.6 L1004.0,342.5 L1004.5,342.7 L1005.0,343.0 L1005.5,343.0 L1006.0,343.2 L1006.5,343.2 L1007.0,343.4 L1007.5,343.4 L1008.0,343.3 L1008.5,343.5 L1009.0,343.5 L1009.5,343.4 L1010.0,343.4 L1010.5,343.3 L1011.0,343.3 L1011.5,343.2 L1012.0,343.2 L1012.5,343.1 L1013.0,343.2 L1013.5,343.1 L1014.0,343.0 L1014.5,342.8 L1015.0,342.7 L1015.5,342.4 L1016.0,342.4 L1016.5,342.2 L1017.0,342.0 L1017.5,341.9 L1018.0,341.6 L1018.5,341.7 L1019.0,341.8 L1019.5,341.5 L1020.0,341.4 L1020.5,341.7 L1021.0,341.7 L1021.5,341.7 L1022.0,341.6 L1022.5,341.9 L1023.0,342.0 L1023.5,342.4 L1024.0,342.5 L1024.5,342.5 L1025.0,342.6 L1025.5,342.6 L1026.0,342.7 L1026.5,343.0 L1027.0,343.3 L1027.5,343.2 L1028.0,343.5 L1028.5,343.3 L1029.0,343.1 L1029.5,343.5 L1030.0,343.4 L1030.5,343.3 L1031.0,343.4 L1031.5,343.5 L1032.0,343.3 L1032.5,343.2 L1033.0,343.5 L1033.5,343.5 L1034.0,343.5 L1035.5,343.3 L1037.0,343.6 L1038.5,343.5 L1040.0,343.5 L1041.5,343.7 L1043.0,343.4 L1044.5,343.5 L1046.0,343.4 L1047.5,343.5 L1049.0,343.4 L1050.5,343.3 L1052.0,343.3 L1053.5,343.4 L1054.0,343.3 L1054.5,343.6 L1055.0,343.7 L1055.5,343.6 L1056.0,343.4 L1056.5,343.6 L1057.0,343.5 L1057.5,343.5 L1058.0,343.6 L1058.5,343.2 L1059.0,343.3 L1059.5,343.4 L1060.0,343.1 L1060.5,342.9 L1061.0,342.5 L1061.5,342.5 L1062.0,341.9 L1062.5,341.2 L1063.0,340.5 L1063.5,339.9 L1064.0,339.2 L1064.5,338.4 L1065.0,337.5 L1065.5,336.4 L1066.0,336.1 L1066.5,335.8 L1067.0,335.7 L1067.5,336.1 L1068.0,336.6 L1068.5,337.3 L1069.0,338.2 L1069.5,338.8 L1070.0,340.0 L1070.5,340.5 L1071.0,341.2 L1071.5,341.9 L1072.0,342.3 L1072.5,342.6 L1073.0,342.8 L1073.5,342.9 L1074.0,343.2 L1074.5,343.0 L1075.0,343.1 L1075.5,343.3 L1076.0,343.3 L1076.5,343.1 L1077.0,343.3 L1077.5,343.5 L1078.0,343.4 L1078.5,343.5 L1079.0,343.4 L1079.5,343.6 L1080.0,343.5 L1080.5,343.6 L1081.0,343.5 L1082.5,343.6 L1083.0,343.4 L1083.5,343.6 L1084.0,343.7 L1084.5,343.6 L1085.0,343.6 L1085.5,343.4 L1086.0,343.3 L1086.5,343.5 L1087.0,343.5 L1087.5,343.4 L1088.0,343.3 L1088.5,343.0 L1089.0,343.1 L1089.5,342.9 L1090.0,342.9 L1090.5,342.6 L1091.0,342.5 L1091.5,341.8 L1092.0,341.1 L1092.5,340.4 L1093.0,339.1 L1093.5,337.3 L1094.0,335.8 L1094.5,333.6 L1095.0,332.0 L1095.5,330.8 L1096.0,330.1 L1096.5,330.2 L1097.0,331.2 L1097.5,332.3 L1098.0,334.1 L1098.5,335.9 L1099.0,337.8 L1099.5,339.3 L1100.0,340.6 L1100.5,341.6 L1101.0,342.1 L1101.5,342.5 L1102.0,342.8 L1102.5,342.9 L1103.0,343.3 L1103.5,343.2 L1104.0,343.2 L1104.5,343.4 L1105.0,343.5 L1105.5,343.6 L1106.0,343.5 L1106.5,343.4 L1107.0,343.4 L1107.5,343.5 L1108.0,343.5 L1108.5,343.2 L1109.0,343.4 L1109.5,343.5 L1110.0,343.4 L1110.5,343.6 L1112.0,343.6 L1113.5,343.7 L1115.0,343.4 L1115.5,343.5 L1116.0,343.5 L1116.5,343.3 L1117.0,343.3 L1117.5,343.2 L1118.0,343.5 L1118.5,343.3 L1119.0,343.2 L1119.5,343.1 L1120.0,343.2 L1120.5,343.1 L1121.0,343.2 L1121.5,342.8 L1122.0,342.8 L1122.5,342.9 L1123.0,342.8 L1123.5,342.3 L1124.0,342.2 L1124.5,342.3 L1125.0,342.2 L1125.5,341.7 L1126.0,341.6 L1126.5,341.3 L1127.0,341.0 L1127.5,341.2 L1128.0,340.9 L1128.5,341.2 L1129.0,341.1 L1129.5,341.3 L1130.0,341.3 L1130.5,341.6 L1131.0,341.7 L1131.5,341.6 L1132.0,341.6 L1132.5,341.8 L1133.0,342.2 L1133.5,342.2 L1134.0,342.3 L1134.5,342.6 L1135.0,342.6 L1135.5,342.8 L1136.0,343.0 L1136.5,343.0 L1137.0,343.2 L1137.5,343.1 L1138.0,343.1 L1138.5,343.1 L1139.0,343.4 L1139.5,343.0 L1140.0,343.2 L1140.5,342.9 L1141.0,343.1 L1141.5,342.8 L1142.0,342.7 L1142.5,342.3 L1143.0,342.0 L1143.5,341.6 L1144.0,340.9 L1144.5,340.4 L1145.0,340.2 L1145.5,339.4 L1146.0,338.9 L1146.5,338.4 L1147.0,338.4 L1147.5,338.4 L1148.0,338.1 L1148.5,338.6 L1149.0,338.6 L1149.5,339.1 L1150.0,339.6 L1150.5,340.0 L1151.0,340.6 L1151.5,341.1 L1152.0,341.7 L1152.5,341.9 L1153.0,342.2 L1153.5,342.8 L1154.0,342.8 L1154.5,342.8 L1155.0,343.3 L1155.5,343.5 L1156.0,343.2 L1156.5,343.3 L1157.0,343.5 L1157.5,343.4 L1158.0,343.3 L1158.5,343.2 L1159.0,343.2 L1159.5,343.4 L1160.0,343.4 L1160.5,343.6 L1161.0,343.5 L1161.5,343.4 L1162.0,343.4 L1163.5,343.3 L1165.0,343.4 L1166.5,343.6 L1168.0,343.4 L1169.5,343.5 L1171.0,343.8 L1172.5,343.7 L1174.0,343.5 L1175.5,343.6 L1177.0,343.4 L1178.5,343.3 L1180.0,343.6 L1181.5,343.6 L1183.0,343.6 L1184.5,343.6 L1186.0,343.5 L1187.5,343.7 L1189.0,343.6 L1190.5,343.7 L1192.0,343.7 L1193.5,343.5 L1195.0,343.7 L1196.5,343.5 L1198.0,343.6 L1199.5,343.7 L1201.0,343.8 L1202.5,343.7 L1204.0,343.4 L1205.5,343.3 L1207.0,343.6 L1208.5,343.5 L1210.0,343.4 L1211.5,343.5 L1213.0,343.5 L1214.5,343.6 L1216.0,343.4 L1217.5,343.5 L1219.0,343.7 L1220.5,343.4 L1222.0,343.5 L1223.5,343.5 L1225.0,343.3 L1226.5,343.3 L1228.0,343.4 L1229.5,343.5 L1231.0,343.4 L1232.5,343.6 L1234.0,343.5 L1235.5,343.4 L1237.0,343.7 L1238.5,343.7 L1240.0,343.6 L1241.5,343.4 L1243.0,343.5 L1244.5,343.6 L1246.0,343.7 L1247.5,343.7 L1249.0,343.3 L1250.5,343.3 L1252.0,343.7 L1253.5,343.6 L1255.0,343.6 L1256.5,343.4 L1258.0,343.6 L1259.5,343.7 L1261.0,343.5 L1262.5,343.4 L1264.0,343.3 L1265.5,343.4 L1267.0,343.5 L1268.5,343.5 L1270.0,343.3 L1271.5,343.3 L1273.0,343.3 L1274.5,343.6 L1276.0,343.8 L1277.5,343.8 L1279.0,343.6 L1280.5,343.5 L1282.0,343.7 L1283.5,343.7 L1285.0,343.7 L1286.5,343.7 L1288.0,343.8 L1289.5,343.6 L1291.0,343.5 L1292.5,343.6 L1294.0,343.8 L1295.5,343.5 L1297.0,343.5 L1298.5,343.6 L1300.0,343.7 L1301.5,343.4 L1303.0,343.6 L1304.5,343.5 L1306.0,343.3 L1307.5,343.3 L1309.0,343.4 L1310.5,343.5 L1312.0,343.4 L1313.5,343.6 L1315.0,343.4 L1316.5,343.7 L1318.0,343.8 L1319.5,343.5 L1321.0,343.3 L1322.5,343.3 L1324.0,343.5 L1325.5,343.5 L1327.0,343.6 L1328.5,343.5 L1330.0,343.4 L1331.5,343.3 L1333.0,343.7 L1334.5,343.7 L1336.0,343.7 L1337.5,343.5 L1339.0,343.5 L1340.5,343.6 L1342.0,343.6 L1343.5,343.5 L1345.0,343.4 L1346.5,343.7 L1348.0,343.4 L1349.5,343.6 L1351.0,343.6 L1352.5,343.6 L1354.0,343.6 L1355.5,343.8 L1357.0,343.5 L1358.5,343.7 L1360.0,343.7 L1361.5,343.7 L1363.0,343.4 L1364.5,343.6 L1366.0,343.5 L1367.5,343.3 L1369.0,343.7 L1370.5,343.5 L1372.0,343.5 L1373.5,343.4 L1375.0,343.3 L1376.5,343.4 L1378.0,343.5 L1379.5,343.6 L1381.0,343.7 L1382.5,343.4 L1383.0,343.4 L1383.5,343.6 L1384.0,343.5 L1384.5,343.6 L1385.0,343.5 L1385.5,343.4 L1386.0,343.2 L1386.5,343.5 L1387.0,343.6 L1387.5,343.5 L1388.0,343.2 L1388.5,343.2 L1389.0,343.2 L1389.5,342.9 L1390.0,342.8 L1390.5,342.9 L1391.0,342.5 L1391.5,342.4 L1392.0,342.0 L1392.5,341.8 L1393.0,341.6 L1393.5,341.6 L1394.0,341.8 L1394.5,341.7 L1395.0,341.6 L1395.5,341.4 L1396.0,341.6 L1396.5,341.6 L1397.0,341.6 L1397.5,341.9 L1398.0,342.1 L1398.5,342.5 L1399.0,342.6 L1399.5,342.8 L1400.0,342.8 L1400.5,342.9 L1401.0,342.9 L1401.5,343.0 L1402.0,343.4 L1402.5,343.5 L1403.0,343.3 L1403.5,343.5 L1404.0,343.6 L1404.5,343.7 L1405.0,343.5 L1405.5,343.3 L1406.0,343.2 L1406.5,343.2 L1407.0,343.6 L1407.5,343.7 L1408.0,343.6 L1408.5,343.7 L1409.0,343.4 L1410.5,343.5 L1412.0,343.3 L1413.5,343.2 L1415.0,343.5 L1416.5,343.3 L1418.0,343.4 L1419.5,343.4 L1421.0,343.7 L1422.5,343.5 L1424.0,343.4 L1425.5,343.6 L1426.0,343.4"/>
<path stroke="#ff00ff" d="M165.5,467.8 L167.0,468.0 L168.5,468.1 L170.0,468.1 L171.5,467.9 L173.0,467.8 L174.5,467.7 L176.0,467.8 L177.5,468.0 L179.0,467.8 L180.5,467.9 L182.0,467.8 L183.5,467.8 L185.0,467.9 L186.5,468.1 L188.0,468.0 L189.5,467.8 L191.0,467.8 L192.5,467.7 L194.0,468.1 L195.5,468.1 L197.0,468.2 L198.5,468.2 L200.0,468.1 L201.5,468.2 L203.0,468.2 L204.5,467.9 L206.0,468.1 L207.5,468.0 L209.0,468.1 L210.5,468.0 L212.0,467.9 L213.5,467.9 L215.0,467.9 L216.5,467.8 L218.0,467.7 L219.5,468.0 L221.0,468.1 L222.5,468.2 L224.0,468.1 L225.5,468.0 L227.0,468.1 L228.5,467.8 L230.0,468.0 L231.5,467.9 L233.0,467.8 L234.5,467.8 L236.0,467.9 L237.5,467.8 L239.0,467.9 L240.5,468.0 L242.0,467.9 L243.5,467.8 L245.0,467.9 L246.5,467.8 L248.0,467.8 L249.5,467.8 L251.0,467.8 L252.5,467.7 L254.0,468.0 L255.5,468.2 L257.0,468.0 L258.5,468.1 L260.0,468.2 L261.5,467.8 L263.0,467.8 L264.5,468.1 L266.0,468.2 L267.5,468.1 L269.0,467.9 L270.5,467.9 L272.0,468.1 L273.5,468.2 L275.0,468.2 L276.5,467.9 L278.0,468.1 L279.5,468.0 L281.0,468.1 L282.5,467.9 L284.0,468.2 L285.5,468.1 L287.0,468.1 L288.5,467.9 L290.0,468.0 L291.5,468.1 L293.0,468.1 L294.5,468.0 L296.0,468.1 L297.5,468.0 L299.0,467.9 L300.5,467.8 L302.0,468.1 L303.5,467.9 L305.0,467.9 L306.5,467.8 L308.0,468.0 L309.5,468.1 L311.0,468.1 L312.5,467.8 L314.0,468.0 L315.5,467.9 L317.0,467.8 L318.5,467.8 L320.0,468.2 L321.5,467.9 L323.0,467.9 L324.5,467.9 L326.0,468.1 L327.5,467.9 L329.0,468.0 L330.5,468.0 L332.0,468.2 L333.5,467.9 L335.0,467.9 L336.5,468.0 L338.0,468.3 L339.5,468.1 L341.0,468.1 L342.5,468.2 L344.0,468.0 L345.5,467.8 L347.0,468.0 L348.5,468.3 L350.0,468.2 L351.5,468.0 L353.0,468.1 L354.5,468.3 L356.0,468.0 L357.5,468.1 L359.0,468.0 L359.5,467.9 L360.0,467.9 L360.5,467.8 L361.0,467.9 L361.5,467.8 L362.0,467.9 L362.5,467.8 L363.0,468.0 L363.5,468.0 L364.0,467.7 L364.5,467.9 L365.0,467.6 L365.5,467.6 L366.0,467.5 L366.5,467.2 L367.0,466.9 L367.5,466.7 L368.0,466.2 L368.5,466.0 L369.0,465.2 L369.5,464.9 L370.0,464.1 L370.5,463.5 L371.0,462.9 L371.5,462.3 L372.0,461.9 L372.5,461.8 L373.0,461.9 L373.5,462.3 L374.0,462.7 L374.5,462.8 L375.0,463.4 L375.5,463.9 L376.0,464.8 L376.5,465.2 L377.0,466.0 L377.5,466.4 L378.0,466.5 L378.5,466.7 L379.0,467.1 L379.5,467.6 L380.0,467.5 L380.5,467.7 L381.0,467.8 L381.5,467.8 L382.0,468.1 L382.5,467.9 L383.0,468.1 L383.5,468.1 L384.0,468.3 L384.5,468.1 L385.0,468.3 L385.5,468.1 L386.0,468.1 L386.5,468.2 L387.0,468.3 L388.5,468.3 L390.0,468.0 L391.5,467.9 L393.0,468.1 L394.5,468.3 L396.0,468.2 L397.5,468.1 L399.0,468.3 L400.5,468.1 L402.0,467.9 L403.5,467.9 L404.0,467.8 L404.5,468.1 L405.0,467.9 L405.5,468.2 L406.0,468.3 L406.5,468.4 L407.0,468.3 L407.5,468.1 L408.0,468.0 L408.5,468.1 L409.0,468.0 L409.5,467.7 L410.0,467.8 L410.5,467.4 L411.0,467.3 L411.5,467.5 L412.0,467.2 L412.5,466.9 L413.0,466.9 L413.5,466.7 L414.0,466.3 L414.5,466.1 L415.0,466.1 L415.5,466.1 L416.0,466.4 L416.5,466.1 L417.0,466.4 L417.5,466.6 L418.0,466.5 L418.5,466.9 L419.0,467.0 L419.5,467.1 L420.0,467.1 L420.5,467.3 L421.0,467.7 L421.5,467.7 L422.0,467.6 L422.5,467.7 L423.0,467.8 L423.5,467.8 L424.0,468.0 L424.5,467.8 L425.0,468.1 L425.5,467.9 L426.0,467.9 L426.5,468.1 L427.0,468.0 L427.5,468.3 L428.0,468.2 L428.5,468.1 L429.0,468.3 L429.5,468.0 L430.0,468.2 L431.5,468.2 L433.0,468.1 L434.5,468.3 L436.0,468.0 L437.5,468.2 L439.0,468.0 L440.5,468.2 L442.0,467.9 L443.5,467.8 L445.0,468.0 L446.5,468.2 L448.0,467.9 L449.5,467.9 L451.0,467.9 L452.5,467.7 L454.0,467.7 L454.5,467.4 L455.0,467.5 L455.5,467.6 L456.0,467.4 L456.5,467.3 L457.0,467.1 L457.5,467.2 L458.0,467.1 L458.5,467.2 L459.0,467.0 L459.5,466.5 L460.0,466.4 L460.5,466.0 L461.0,465.3 L461.5,464.0 L462.0,462.0 L462.5,459.1 L463.0,454.8 L463.5,448.8 L464.0,440.8 L464.5,431.2 L465.0,420.6 L465.5,409.3 L466.0,398.7 L466.5,390.7 L467.0,386.5 L467.5,387.0 L468.0,392.2 L468.5,401.0 L469.0,411.5 L469.5,422.9 L470.0,433.4 L470.5,442.7 L471.0,450.0 L471.5,455.8 L472.0,459.7 L472.5,462.6 L473.0,464.1 L473.5,465.3 L474.0,466.1 L474.5,466.5 L475.0,466.6 L475.5,466.7 L476.0,466.9 L476.5,467.1 L477.0,467.4 L477.5,467.5 L478.0,467.7 L478.5,467.5 L479.0,467.5 L479.5,467.6 L480.0,467.8 L480.5,467.5 L481.0,467.5 L481.5,467.5 L483.0,467.7 L484.5,467.8 L486.0,468.1 L487.5,467.9 L489.0,468.2 L489.5,467.9 L490.0,467.8 L490.5,468.1 L491.0,467.8 L491.5,467.7 L492.0,467.7 L492.5,467.7 L493.0,467.8 L493.5,467.7 L494.0,467.6 L494.5,467.5 L495.0,467.7 L495.5,467.3 L496.0,467.1 L496.5,467.0 L497.0,466.7 L497.5,466.1 L498.0,465.4 L498.5,464.6 L499.0,463.7 L499.5,462.7 L500.0,461.3 L500.5,460.2 L501.0,459.6 L501.5,459.0 L502.0,458.9 L502.5,459.2 L503.0,459.5 L503.5,460.4 L504.0,461.3 L504.5,462.4 L505.0,463.3 L505.5,464.2 L506.0,465.2 L506.5,465.9 L507.0,466.6 L507.5,466.7 L508.0,467.1 L508.5,467.0 L509.0,467.3 L509.5,467.1 L510.0,467.3 L510.5,467.3 L511.0,466.8 L511.5,466.8 L512.0,466.3 L512.5,465.9 L513.0,465.4 L513.5,465.1 L514.0,464.6 L514.5,464.3 L515.0,463.7 L515.5,463.1 L516.0,462.6 L516.5,461.9 L517.0,461.3 L517.5,460.8 L518.0,460.2 L518.5,460.2 L519.0,459.7 L519.5,459.5 L520.0,459.8 L520.5,460.0 L521.0,460.1 L521.5,460.4 L522.0,460.7 L522.5,461.0 L523.0,461.8 L523.5,462.3 L524.0,462.9 L524.5,463.8 L525.0,464.0 L525.5,464.6 L526.0,465.3 L526.5,465.8 L527.0,466.0 L527.5,466.6 L528.0,466.8 L528.5,467.1 L529.0,467.5 L529.5,467.7 L530.0,467.7 L530.5,467.9 L531.0,467.9 L531.5,467.9 L532.0,468.1 L532.5,468.1 L533.0,468.0 L533.5,467.8 L534.0,468.2 L535.5,468.1 L537.0,468.1 L538.5,468.1 L540.0,468.2 L541.5,468.1 L542.0,468.3 L542.5,468.3 L543.0,468.2 L543.5,468.3 L544.0,468.2 L544.5,468.2 L545.0,468.2 L545.5,468.2 L546.0,468.2 L546.5,468.2 L547.0,468.0 L547.5,467.9 L548.0,467.6 L548.5,467.3 L549.0,467.1 L549.5,466.7 L550.0,466.3 L550.5,465.3 L551.0,464.4 L551.5,463.6 L552.0,462.3 L552.5,461.3 L553.0,459.9 L553.5,459.0 L554.0,458.2 L554.5,457.8 L555.0,457.6 L555.5,458.2 L556.0,459.2 L556.5,460.3 L557.0,461.4 L557.5,462.5 L558.0,463.5 L558.5,464.7 L559.0,465.5 L559.5,466.4 L560.0,466.9 L560.5,467.2 L561.0,467.6 L561.5,467.5 L562.0,468.0 L562.5,467.7 L563.0,468.1 L563.5,468.1 L564.0,468.0 L564.5,468.2 L565.0,468.1 L565.5,468.0 L566.0,467.8 L566.5,468.0 L567.0,468.0 L567.5,467.8 L568.0,467.6 L568.5,467.7 L569.0,467.8 L569.5,467.7 L570.0,467.3 L570.5,466.7 L571.0,466.3 L571.5,465.2 L572.0,463.9 L572.5,461.9 L573.0,459.6 L573.5,456.1 L574.0,452.8 L574.5,449.1 L575.0,445.3 L575.5,442.8 L576.0,441.3 L576.5,441.6 L577.0,443.5 L577.5,446.3 L578.0,449.7 L578.5,453.4 L579.0,456.7 L579.5,459.8 L580.0,462.1 L580.5,464.1 L581.0,465.1 L581.5,466.1 L582.0,466.4 L582.5,466.8 L583.0,466.7 L583.5,466.6 L584.0,466.7 L584.5,466.6 L585.0,466.5 L585.5,466.2 L586.0,466.1 L586.5,465.5 L587.0,465.4 L587.5,465.4 L588.0,465.1 L588.5,465.1 L589.0,465.3 L589.5,465.7 L590.0,466.1 L590.5,466.4 L591.0,466.6 L591.5,466.7 L592.0,467.2 L592.5,467.4 L593.0,467.4 L593.5,467.8 L594.0,467.8 L594.5,467.9 L595.0,468.1 L595.5,468.3 L596.0,468.1 L596.5,468.2 L597.0,468.2 L597.5,468.4 L598.0,468.5 L598.5,468.3 L599.0,468.4 L599.5,468.4 L600.0,468.2 L600.5,468.2 L601.0,468.4 L601.5,468.5 L602.0,468.5 L603.5,468.2 L605.0,468.5 L606.5,468.5 L608.0,468.4 L609.5,468.3 L611.0,468.4 L612.5,468.5 L614.0,468.4 L615.5,468.3 L617.0,468.6 L618.5,468.5 L620.0,468.3 L621.5,468.6 L623.0,468.4 L624.5,468.4 L626.0,468.5 L627.5,468.6 L629.0,468.7 L630.5,468.4 L632.0,468.5 L633.5,468.7 L635.0,468.6 L636.5,468.7 L638.0,468.6 L639.5,468.7 L641.0,468.8 L642.5,468.6 L644.0,468.7 L645.5,468.5 L647.0,468.7 L648.5,468.7 L650.0,468.8 L651.5,468.8 L653.0,468.7 L653.5,468.8 L654.0,468.5 L654.5,468.5 L655.0,468.3 L655.5,468.5 L656.0,468.6 L656.5,468.4 L657.0,468.6 L657.5,468.4 L658.0,468.3 L658.5,468.2 L659.0,468.3 L659.5,468.1 L660.0,467.9 L660.5,467.8 L661.0,468.0 L661.5,467.7 L662.0,467.6 L662.5,467.4 L663.0,467.0 L663.5,467.0 L664.0,466.8 L664.5,466.6 L665.0,466.7 L665.5,466.7 L666.0,466.4 L666.5,466.8 L667.0,466.6 L667.5,466.7 L668.0,466.9 L668.5,467.3 L669.0,467.5 L669.5,467.7 L670.0,467.7 L670.5,468.0 L671.0,467.9 L671.5,468.3 L672.0,468.0 L672.5,468.1 L673.0,468.4 L673.5,468.6 L674.0,468.6 L674.5,468.4 L675.0,468.7 L675.5,468.6 L676.0,468.4 L676.5,468.3 L677.0,468.7 L677.5,468.4 L678.0,468.4 L678.5,468.5 L679.0,468.7 L679.5,468.8 L680.0,468.8 L681.5,468.7 L683.0,468.4 L684.5,468.7 L686.0,468.5 L687.5,468.8 L689.0,468.9 L690.5,468.5 L692.0,468.7 L693.5,468.5 L695.0,468.4 L695.5,468.7 L696.0,468.6 L696.5,468.5 L697.0,468.6 L697.5,468.4 L698.0,468.5 L698.5,468.6 L699.0,468.7 L699.5,468.4 L700.0,468.6 L700.5,468.3 L701.0,468.2 L701.5,468.2 L702.0,468.0 L702.5,467.8 L703.0,468.0 L703.5,467.8 L704.0,467.5 L704.5,467.5 L705.0,467.1 L705.5,467.2 L706.0,467.2 L706.5,466.9 L707.0,466.8 L707.5,466.7 L708.0,466.6 L708.5,466.6 L709.0,466.6 L709.5,466.7 L710.0,467.1 L710.5,467.2 L711.0,467.1 L711.5,467.3 L712.0,467.8 L712.5,467.8 L713.0,468.1 L713.5,468.2 L714.0,468.3 L714.5,468.3 L715.0,468.4 L715.5,468.4 L716.0,468.5 L716.5,468.7 L717.0,468.4 L717.5,468.4 L718.0,468.7 L718.5,468.8 L719.0,468.8 L719.5,468.8 L720.0,468.5 L720.5,468.7 L721.0,468.5 L721.5,468.7 L722.0,468.6 L723.5,468.6 L725.0,468.6 L726.5,468.5 L728.0,468.6 L729.5,468.8 L731.0,468.7 L732.5,468.6 L734.0,468.6 L735.5,468.5 L737.0,468.5 L738.5,468.8 L740.0,468.9 L741.5,468.7 L743.0,468.5 L744.5,468.5 L746.0,468.8 L747.5,468.6 L749.0,468.5 L750.5,468.5 L752.0,468.4 L753.5,468.4 L755.0,468.4 L756.5,468.6 L758.0,468.8 L759.5,468.6 L761.0,468.5 L761.5,468.6 L762.0,468.4 L762.5,468.3 L763.0,468.5 L763.5,468.5 L764.0,468.4 L764.5,468.4 L765.0,468.2 L765.5,468.2 L766.0,468.1 L766.5,468.1 L767.0,467.9 L767.5,468.2 L768.0,467.8 L768.5,467.8 L769.0,467.5 L769.5,467.4 L770.0,467.5 L770.5,467.5 L771.0,467.4 L771.5,467.0 L772.0,466.9 L772.5,466.8 L773.0,466.5 L773.5,466.6 L774.0,466.7 L774.5,466.7 L775.0,466.9 L775.5,466.9 L776.0,466.9 L776.5,467.3 L777.0,467.4 L777.5,467.4 L778.0,467.8 L778.5,467.8 L779.0,467.9 L779.5,468.0 L780.0,468.3 L780.5,468.3 L781.0,468.3 L781.5,468.3 L782.0,468.5 L782.5,468.6 L783.0,468.6 L783.5,468.7 L784.0,468.6 L784.5,468.5 L785.0,468.4 L785.5,468.4 L786.0,468.3 L786.5,468.6 L787.0,468.5 L787.5,468.2 L788.0,468.2 L788.5,468.2 L789.0,468.3 L789.5,468.3 L790.0,468.2 L790.5,467.9 L791.0,467.7 L791.5,467.8 L792.0,467.5 L792.5,467.4 L793.0,467.0 L793.5,467.0 L794.0,466.9 L794.5,467.0 L795.0,467.0 L795.5,466.9 L796.0,466.7 L796.5,466.9 L797.0,467.0 L797.5,466.7 L798.0,466.9 L798.5,467.1 L799.0,467.1 L799.5,467.2 L800.0,467.6 L800.5,467.6 L801.0,467.8 L801.5,467.7 L802.0,468.0 L802.5,468.3 L803.0,468.1 L803.5,468.1 L804.0,468.5 L804.5,468.7 L805.0,468.5 L805.5,468.4 L806.0,468.4 L806.5,468.6 L807.0,468.6 L807.5,468.6 L808.0,468.7 L808.5,468.4 L809.0,468.5 L809.5,468.8 L810.0,468.9 L811.5,468.7 L813.0,468.8 L814.5,468.9 L816.0,468.7 L817.5,468.5 L819.0,468.4 L820.5,468.7 L822.0,468.6 L823.5,468.6 L825.0,468.4 L826.5,468.8 L828.0,468.6 L829.5,468.7 L831.0,468.7 L832.5,468.6 L834.0,468.5 L835.5,468.6 L837.0,468.6 L838.5,468.4 L840.0,468.4 L841.5,468.4 L843.0,468.7 L844.5,468.5 L846.0,468.8 L847.5,468.7 L849.0,468.9 L850.5,468.7 L852.0,468.5 L853.5,468.4 L855.0,468.6 L856.5,468.7 L858.0,468.7 L859.5,468.8 L861.0,468.5 L862.5,468.6 L864.0,468.7 L865.5,468.8 L867.0,468.5 L868.5,468.8 L870.0,468.4 L871.5,468.5 L873.0,468.5 L874.5,468.5 L875.0,468.3 L875.5,468.4 L876.0,468.4 L876.5,468.4 L877.0,468.4 L877.5,468.3 L878.0,468.2 L878.5,468.3 L879.0,468.6 L879.5,468.6 L880.0,468.2 L880.5,468.3 L881.0,468.0 L881.5,467.9 L882.0,468.1 L882.5,467.6 L883.0,467.0 L883.5,466.6 L884.0,465.7 L884.5,464.4 L885.0,462.8 L885.5,460.5 L886.0,457.9 L886.5,455.2 L887.0,452.8 L887.5,450.9 L888.0,449.6 L888.5,449.4 L889.0,450.3 L889.5,452.5 L890.0,455.0 L890.5,457.5 L891.0,460.0 L891.5,462.1 L892.0,463.8 L892.5,465.1 L893.0,466.3 L893.5,467.2 L894.0,467.6 L894.5,467.8 L895.0,468.0 L895.5,467.9 L896.0,467.9 L896.5,467.7 L897.0,467.9 L897.5,467.7 L898.0,467.4 L898.5,467.2 L899.0,466.9 L899.5,466.0 L900.0,465.3 L900.5,464.6 L901.0,463.9 L901.5,462.8 L902.0,461.8 L902.5,460.9 L903.0,459.8 L903.5,459.1 L904.0,458.2 L904.5,458.0 L905.0,458.1 L905.5,458.5 L906.0,459.0 L906.5,459.8 L907.0,460.8 L907.5,461.8 L908.0,462.7 L908.5,463.6 L909.0,464.4 L909.5,465.6 L910.0,466.3 L910.5,466.8 L911.0,467.3 L911.5,467.5 L912.0,467.6 L912.5,467.9 L913.0,468.1 L913.5,468.3 L914.0,468.5 L914.5,468.3 L915.0,468.3 L915.5,468.5 L916.0,468.6 L916.5,468.5 L917.0,468.5 L917.5,468.7 L918.0,468.8 L918.5,468.4 L919.0,468.7 L920.5,468.4 L922.0,468.5 L923.5,468.6 L925.0,468.8 L926.5,468.5 L928.0,468.4 L929.5,468.8 L931.0,468.6 L932.5,468.6 L934.0,468.6 L935.5,468.5 L937.0,468.4 L938.5,468.6 L940.0,468.5 L941.5,468.6 L943.0,468.9 L944.5,468.9 L946.0,468.6 L947.5,468.6 L949.0,468.4 L950.5,468.6 L952.0,468.5 L953.5,468.4 L955.0,468.8 L956.5,468.7 L958.0,468.9 L959.5,468.6 L961.0,468.5 L962.5,468.6 L964.0,468.7 L965.5,468.5 L967.0,468.6 L968.5,468.7 L970.0,468.7 L971.5,468.6 L973.0,468.6 L974.5,468.4 L976.0,468.4 L977.5,468.4 L979.0,468.7 L980.5,468.5 L982.0,468.7 L983.5,468.5 L985.0,468.8 L986.5,468.4 L988.0,468.7 L989.5,468.7 L991.0,468.8 L991.5,468.9 L992.0,468.5 L992.5,468.3 L993.0,468.4 L993.5,468.3 L994.0,468.7 L994.5,468.4 L995.0,468.6 L995.5,468.8 L996.0,468.7 L996.5,468.7 L997.0,468.6 L997.5,468.3 L998.0,468.5 L998.5,468.1 L999.0,468.1 L999.5,467.9 L1000.0,467.8 L1000.5,467.5 L1001.0,467.7 L1001.5,467.6 L1002.0,467.3 L1002.5,467.0 L1003.0,467.1 L1003.5,467.0 L1004.0,466.6 L1004.5,466.8 L1005.0,466.6 L1005.5,466.5 L1006.0,466.7 L1006.5,466.9 L1007.0,467.1 L1007.5,467.6 L1008.0,467.4 L1008.5,467.7 L1009.0,467.8 L1009.5,467.8 L1010.0,468.3 L1010.5,468.4 L1011.0,468.3 L1011.5,468.5 L1012.0,468.4 L1012.5,468.5 L1013.0,468.7 L1013.5,468.6 L1014.0,468.5 L1014.5,468.3 L1015.0,468.4 L1015.5,468.5 L1016.0,468.4 L1016.5,468.5 L1017.0,468.3 L1017.5,468.3 L1018.0,468.4 L1018.5,468.4 L1019.0,468.5 L1019.5,468.2 L1020.0,468.1 L1020.5,468.2 L1021.0,468.0 L1021.5,467.8 L1022.0,467.9 L1022.5,467.7 L1023.0,467.7 L1023.5,467.7 L1024.0,467.7 L1024.5,467.5 L1025.0,467.4 L1025.5,467.2 L1026.0,466.9 L1026.5,467.0 L1027.0,466.6 L1027.5,466.5 L1028.0,466.6 L1028.5,466.5 L1029.0,466.7 L1029.5,466.8 L1030.0,466.8 L1030.5,467.1 L1031.0,466.9 L1031.5,467.2 L1032.0,467.3 L1032.5,467.7 L1033.0,467.5 L1033.5,467.7 L1034.0,468.0 L1034.5,467.9 L1035.0,468.2 L1035.5,468.0 L1036.0,468.0 L1036.5,468.0 L1037.0,468.3 L1037.5,468.4 L1038.0,468.5 L1038.5,468.5 L1039.0,468.7 L1039.5,468.4 L1040.0,468.3 L1040.5,468.4 L1041.0,468.7 L1041.5,468.7 L1042.0,468.4 L1043.5,468.3 L1045.0,468.7 L1046.5,468.9 L1048.0,468.6 L1049.5,468.6 L1051.0,468.4 L1052.5,468.5 L1054.0,468.4 L1055.5,468.6 L1057.0,468.4 L1058.5,468.5 L1060.0,468.4 L1060.5,468.5 L1061.0,468.7 L1061.5,468.5 L1062.0,468.7 L1062.5,468.6 L1063.0,468.3 L1063.5,468.2 L1064.0,468.4 L1064.5,468.4 L1065.0,468.0 L1065.5,468.0 L1066.0,467.7 L1066.5,467.4 L1067.0,467.2 L1067.5,466.8 L1068.0,465.9 L1068.5,465.1 L1069.0,464.3 L1069.5,463.6 L1070.0,462.9 L1070.5,461.9 L1071.0,461.0 L1071.5,460.3 L1072.0,459.5 L1072.5,459.1 L1073.0,459.1 L1073.5,459.3 L1074.0,459.9 L1074.5,460.7 L1075.0,461.3 L1075.5,462.1 L1076.0,462.9 L1076.5,464.0 L1077.0,464.7 L1077.5,465.5 L1078.0,466.2 L1078.5,466.8 L1079.0,467.3 L1079.5,467.5 L1080.0,467.8 L1080.5,468.0 L1081.0,468.3 L1081.5,468.3 L1082.0,468.5 L1082.5,468.2 L1083.0,468.5 L1083.5,468.2 L1084.0,468.5 L1084.5,468.2 L1085.0,468.4 L1085.5,468.3 L1086.0,468.2 L1086.5,468.5 L1087.0,468.3 L1088.5,468.4 L1089.0,468.2 L1089.5,468.2 L1090.0,468.3 L1090.5,468.4 L1091.0,468.4 L1091.5,468.3 L1092.0,468.5 L1092.5,468.1 L1093.0,468.0 L1093.5,468.1 L1094.0,468.1 L1094.5,468.1 L1095.0,468.1 L1095.5,467.6 L1096.0,467.3 L1096.5,466.9 L1097.0,466.0 L1097.5,465.1 L1098.0,463.9 L1098.5,462.6 L1099.0,460.8 L1099.5,458.7 L1100.0,456.7 L1100.5,454.7 L1101.0,452.8 L1101.5,451.7 L1102.0,451.1 L1102.5,451.0 L1103.0,451.4 L1103.5,452.8 L1104.0,454.2 L1104.5,456.2 L1105.0,458.3 L1105.5,460.4 L1106.0,462.3 L1106.5,463.8 L1107.0,464.8 L1107.5,465.9 L1108.0,466.8 L1108.5,467.4 L1109.0,467.6 L1109.5,467.8 L1110.0,468.2 L1110.5,467.9 L1111.0,468.2 L1111.5,468.1 L1112.0,468.4 L1112.5,468.4 L1113.0,468.2 L1113.5,468.1 L1114.0,468.5 L1114.5,468.4 L1115.0,468.4 L1115.5,468.5 L1116.0,468.4 L1116.5,468.2 L1118.0,468.5 L1119.5,468.4 L1121.0,468.4 L1121.5,468.6 L1122.0,468.7 L1122.5,468.5 L1123.0,468.4 L1123.5,468.6 L1124.0,468.4 L1124.5,468.6 L1125.0,468.4 L1125.5,468.1 L1126.0,468.1 L1126.5,468.4 L1127.0,468.2 L1127.5,468.3 L1128.0,468.2 L1128.5,468.0 L1129.0,467.5 L1129.5,467.4 L1130.0,467.0 L1130.5,466.9 L1131.0,466.7 L1131.5,466.8 L1132.0,466.3 L1132.5,466.1 L1133.0,465.7 L1133.5,465.6 L1134.0,465.7 L1134.5,465.6 L1135.0,465.6 L1135.5,465.8 L1136.0,465.9 L1136.5,465.8 L1137.0,466.2 L1137.5,466.4 L1138.0,466.6 L1138.5,466.7 L1139.0,467.1 L1139.5,467.2 L1140.0,467.2 L1140.5,467.6 L1141.0,467.8 L1141.5,467.8 L1142.0,468.1 L1142.5,468.3 L1143.0,468.3 L1143.5,468.3 L1144.0,468.4 L1144.5,468.1 L1145.0,468.1 L1145.5,468.2 L1146.0,468.3 L1146.5,468.3 L1147.0,468.3 L1147.5,468.1 L1148.0,467.9 L1148.5,467.9 L1149.0,467.6 L1149.5,467.1 L1150.0,466.9 L1150.5,466.4 L1151.0,466.0 L1151.5,465.4 L1152.0,464.9 L1152.5,464.2 L1153.0,463.5 L1153.5,462.9 L1154.0,462.3 L1154.5,462.1 L1155.0,462.2 L1155.5,462.0 L1156.0,462.3 L1156.5,462.8 L1157.0,463.5 L1157.5,463.9 L1158.0,464.7 L1158.5,465.2 L1159.0,466.1 L1159.5,466.3 L1160.0,466.9 L1160.5,467.4 L1161.0,467.7 L1161.5,467.8 L1162.0,467.9 L1162.5,468.3 L1163.0,468.3 L1163.5,468.4 L1164.0,468.6 L1164.5,468.5 L1165.0,468.6 L1165.5,468.6 L1166.0,468.7 L1166.5,468.6 L1167.0,468.4 L1167.5,468.4 L1168.0,468.4 L1168.5,468.4 L1169.0,468.6 L1170.5,468.5 L1172.0,468.5 L1173.5,468.4 L1175.0,468.8 L1176.5,468.7 L1178.0,468.5 L1179.5,468.7 L1181.0,468.5 L1182.5,468.4 L1184.0,468.8 L1185.5,468.8 L1187.0,468.6 L1188.5,468.5 L1190.0,468.7 L1191.5,468.5 L1193.0,468.5 L1194.5,468.5 L1196.0,468.7 L1197.5,468.5 L1199.0,468.4 L1200.5,468.7 L1202.0,468.7 L1203.5,468.5 L1205.0,468.4 L1206.5,468.8 L1208.0,468.7 L1209.5,468.7 L1211.0,468.9 L1212.5,468.5 L1214.0,468.4 L1215.5,468.4 L1217.0,468.7 L1218.5,468.5 L1220.0,468.6 L1221.5,468.8 L1223.0,468.6 L1224.5,468.7 L1226.0,468.5 L1227.5,468.6 L1229.0,468.6 L1230.5,468.7 L1232.0,468.6 L1233.5,468.7 L1235.0,468.9 L1236.5,468.9 L1238.0,468.9 L1239.5,468.8 L1241.0,468.9 L1242.5,468.7 L1244.0,468.4 L1245.5,468.7 L1247.0,468.6 L1248.5,468.6 L1250.0,468.8 L1251.5,468.7 L1253.0,468.5 L1254.5,468.8 L1256.0,468.5 L1257.5,468.4 L1259.0,468.7 L1260.5,468.5 L1262.0,468.7 L1263.5,468.4 L1265.0,468.5 L1266.5,468.6 L1268.0,468.7 L1269.5,468.8 L1271.0,468.8 L1272.5,468.6 L1274.0,468.8 L1275.5,468.5 L1277.0,468.6 L1278.5,468.4 L1280.0,468.7 L1281.5,468.7 L1283.0,468.6 L1284.5,468.9 L1286.0,468.6 L1287.5,468.7 L1289.0,468.8 L1290.5,468.5 L1292.0,468.7 L1293.5,468.6 L1295.0,468.8 L1296.5,468.8 L1298.0,468.6 L1299.5,468.6 L1301.0,468.6 L1302.5,468.5 L1304.0,468.6 L1305.5,468.8 L1307.0,468.9 L1308.5,468.7 L1310.0,468.7 L1311.5,468.7 L1313.0,468.8 L1314.5,468.8 L1316.0,468.9 L1317.5,468.9 L1319.0,468.9 L1320.5,468.7 L1322.0,468.7 L1323.5,468.5 L1325.0,468.6 L1326.5,468.6 L1328.0,468.6 L1329.5,468.8 L1331.0,468.9 L1332.5,468.9 L1334.0,468.6 L1335.5,468.7 L1337.0,468.8 L1338.5,468.6 L1339.0,468.7 L1339.5,468.5 L1340.0,468.8 L1340.5,468.7 L1341.0,468.6 L1341.5,468.8 L1342.0,468.5 L1342.5,468.5 L1343.0,468.5 L1343.5,468.7 L1344.0,468.5 L1344.5,468.6 L1345.0,468.6 L1345.5,468.2 L1346.0,468.2 L1346.5,468.1 L1347.0,467.9 L1347.5,468.0 L1348.0,468.0 L1348.5,468.0 L1349.0,467.7 L1349.5,467.3 L1350.0,467.4 L1350.5,467.5 L1351.0,467.2 L1351.5,467.3 L1352.0,467.2 L1352.5,467.1 L1353.0,467.4 L1353.5,467.5 L1354.0,467.7 L1354.5,467.7 L1355.0,467.8 L1355.5,467.6 L1356.0,467.9 L1356.5,467.8 L1357.0,468.1 L1357.5,468.2 L1358.0,468.2 L1358.5,468.3 L1359.0,468.6 L1359.5,468.6 L1360.0,468.4 L1360.5,468.7 L1361.0,468.7 L1361.5,468.5 L1362.0,468.5 L1362.5,468.5 L1363.0,468.5 L1363.5,468.7 L1364.0,468.6 L1364.5,468.8 L1365.0,468.6 L1365.5,468.5 L1366.0,468.5 L1367.5,468.7 L1369.0,468.5 L1370.5,468.4 L1372.0,468.7 L1373.5,468.8 L1375.0,468.5 L1376.5,468.6 L1378.0,468.4 L1379.5,468.7 L1381.0,468.8 L1382.5,468.5 L1384.0,468.7 L1385.5,468.5 L1387.0,468.8 L1388.5,468.5 L1390.0,468.8 L1390.5,468.6 L1391.0,468.6 L1391.5,468.6 L1392.0,468.7 L1392.5,468.6 L1393.0,468.7 L1393.5,468.7 L1394.0,468.7 L1394.5,468.3 L1395.0,468.4 L1395.5,468.2 L1396.0,468.5 L1396.5,468.2 L1397.0,468.3 L1397.5,468.0 L1398.0,467.7 L1398.5,467.4 L1399.0,467.5 L1399.5,467.0 L1400.0,466.9 L1400.5,466.7 L1401.0,466.6 L1401.5,466.4 L1402.0,465.9 L1402.5,465.7 L1403.0,465.7 L1403.5,465.8 L1404.0,465.6 L1404.5,465.9 L1405.0,465.9 L1405.5,466.2 L1406.0,466.4 L1406.5,466.5 L1407.0,467.1 L1407.5,467.4 L1408.0,467.4 L1408.5,467.6 L1409.0,467.7 L1409.5,467.9 L1410.0,468.0 L1410.5,468.0 L1411.0,468.5 L1411.5,468.4 L1412.0,468.3 L1412.5,468.3 L1413.0,468.3 L1413.5,468.5 L1414.0,468.5 L1414.5,468.7 L1415.0,468.5 L1415.5,468.4 L1416.0,468.4 L1416.5,468.6 L1417.0,468.5 L1417.5,468.4 L1419.0,468.4 L1420.5,468.6 L1422.0,468.5 L1423.5,468.7 L1425.0,468.6 L1426.5,468.8 L1428.0,468.6 L1429.5,468.6 L1431.0,468.8 L1432.4,468.9"/>
<path stroke="#960000" d="M165.5,602.2 L167.0,602.4 L168.5,602.4 L170.0,602.6 L171.5,602.3 L173.0,602.2 L174.5,602.4 L176.0,602.5 L177.5,602.3 L179.0,602.4 L180.5,602.3 L182.0,602.5 L183.5,602.2 L185.0,602.2 L186.5,602.5 L188.0,602.3 L189.5,602.2 L191.0,602.5 L192.5,602.5 L194.0,602.2 L195.5,602.3 L197.0,602.4 L198.5,602.2 L200.0,602.4 L201.5,602.2 L203.0,602.2 L204.5,602.1 L206.0,602.2 L207.5,602.5 L209.0,602.4 L210.5,602.6 L212.0,602.4 L213.5,602.4 L215.0,602.6 L216.5,602.5 L218.0,602.2 L219.5,602.4 L221.0,602.4 L222.5,602.2 L224.0,602.1 L225.5,602.5 L227.0,602.4 L228.5,602.2 L230.0,602.3 L231.5,602.2 L233.0,602.5 L234.5,602.4 L236.0,602.2 L237.5,602.5 L239.0,602.2 L240.5,602.2 L242.0,602.1 L243.5,602.4 L245.0,602.2 L246.5,602.3 L248.0,602.2 L249.5,602.3 L251.0,602.4 L252.5,602.4 L254.0,602.4 L255.5,602.4 L257.0,602.3 L258.5,602.4 L260.0,602.2 L261.5,602.3 L263.0,602.2 L264.5,602.5 L266.0,602.6 L267.5,602.2 L269.0,602.2 L270.5,602.4 L272.0,602.4 L273.5,602.1 L275.0,602.4 L276.5,602.6 L278.0,602.4 L279.5,602.3 L281.0,602.4 L282.5,602.6 L284.0,602.3 L285.5,602.3 L287.0,602.2 L288.5,602.4 L290.0,602.3 L291.5,602.2 L293.0,602.3 L294.5,602.1 L296.0,602.2 L297.5,602.5 L299.0,602.5 L300.5,602.3 L302.0,602.5 L303.5,602.3 L305.0,602.2 L306.5,602.1 L308.0,602.1 L309.5,602.1 L311.0,602.2 L312.5,602.5 L314.0,602.3 L315.5,602.2 L317.0,602.4 L318.5,602.6 L320.0,602.3 L321.5,602.5 L323.0,602.3 L324.5,602.4 L326.0,602.4 L327.5,602.6 L329.0,602.5 L330.5,602.4 L332.0,602.5 L333.5,602.3 L335.0,602.3 L336.5,602.5 L338.0,602.4 L339.5,602.5 L341.0,602.3 L342.5,602.5 L344.0,602.4 L345.5,602.2 L347.0,602.5 L348.5,602.4 L350.0,602.3 L351.5,602.2 L353.0,602.1 L354.5,602.1 L356.0,602.3 L357.5,602.1 L358.0,602.1 L358.5,602.2 L359.0,602.2 L359.5,602.2 L360.0,602.3 L360.5,602.1 L361.0,602.1 L361.5,602.1 L362.0,601.9 L362.5,601.9 L363.0,601.8 L363.5,602.0 L364.0,601.7 L364.5,601.6 L365.0,601.2 L365.5,601.0 L366.0,600.5 L366.5,599.7 L367.0,599.2 L367.5,598.1 L368.0,597.0 L368.5,595.6 L369.0,594.6 L369.5,593.5 L370.0,592.8 L370.5,592.6 L371.0,592.6 L371.5,592.6 L372.0,593.5 L372.5,594.7 L373.0,595.6 L373.5,596.5 L374.0,597.9 L374.5,598.8 L375.0,599.9 L375.5,600.6 L376.0,601.1 L376.5,601.5 L377.0,601.4 L377.5,601.9 L378.0,601.9 L378.5,601.8 L379.0,602.0 L379.5,602.1 L380.0,601.9 L380.5,602.1 L381.0,602.3 L381.5,602.2 L382.0,602.2 L382.5,602.1 L383.0,602.4 L383.5,602.2 L384.0,602.3 L384.5,602.4 L385.0,602.1 L386.5,602.5 L388.0,602.2 L389.5,602.5 L391.0,602.6 L392.5,602.6 L394.0,602.6 L395.5,602.3 L397.0,602.3 L398.5,602.2 L400.0,602.5 L401.5,602.2 L402.0,602.1 L402.5,602.5 L403.0,602.5 L403.5,602.5 L404.0,602.6 L404.5,602.4 L405.0,602.5 L405.5,602.3 L406.0,602.4 L406.5,602.1 L407.0,602.1 L407.5,602.2 L408.0,602.3 L408.5,602.1 L409.0,602.1 L409.5,602.2 L410.0,601.9 L410.5,601.7 L411.0,601.4 L411.5,601.6 L412.0,601.4 L412.5,601.2 L413.0,601.2 L413.5,600.9 L414.0,600.8 L414.5,600.7 L415.0,600.7 L415.5,601.0 L416.0,600.8 L416.5,600.7 L417.0,601.1 L417.5,601.2 L418.0,601.0 L418.5,601.4 L419.0,601.6 L419.5,601.7 L420.0,601.9 L420.5,601.8 L421.0,601.8 L421.5,602.1 L422.0,602.1 L422.5,602.2 L423.0,602.0 L423.5,602.1 L424.0,602.3 L424.5,602.2 L425.0,602.3 L425.5,602.2 L426.0,602.4 L426.5,602.2 L427.0,602.2 L427.5,602.4 L428.0,602.2 L428.5,602.1 L429.0,602.3 L429.5,602.1 L431.0,602.4 L432.5,602.2 L434.0,602.4 L435.5,602.3 L437.0,602.1 L438.5,602.2 L440.0,602.3 L441.5,602.2 L443.0,602.2 L444.5,602.1 L446.0,602.3 L447.5,601.9 L449.0,602.1 L450.5,601.7 L452.0,601.8 L452.5,601.6 L453.0,601.5 L453.5,601.7 L454.0,601.8 L454.5,601.5 L455.0,601.4 L455.5,601.4 L456.0,601.4 L456.5,601.1 L457.0,601.0 L457.5,601.0 L458.0,600.7 L458.5,600.3 L459.0,600.0 L459.5,599.3 L460.0,597.8 L460.5,595.5 L461.0,592.4 L461.5,588.2 L462.0,581.8 L462.5,573.9 L463.0,564.6 L463.5,553.6 L464.0,543.0 L464.5,533.0 L465.0,525.8 L465.5,522.6 L466.0,523.8 L466.5,529.9 L467.0,538.8 L467.5,549.5 L468.0,560.5 L468.5,570.2 L469.0,579.1 L469.5,586.0 L470.0,590.9 L470.5,594.6 L471.0,596.8 L471.5,598.5 L472.0,599.6 L472.5,600.1 L473.0,600.5 L473.5,600.6 L474.0,601.1 L474.5,601.2 L475.0,601.4 L475.5,601.2 L476.0,601.5 L476.5,601.3 L477.0,601.5 L477.5,601.5 L478.0,601.8 L478.5,601.6 L479.0,601.7 L479.5,601.7 L480.0,601.7 L481.5,601.7 L483.0,601.9 L484.5,602.2 L486.0,602.0 L487.5,602.2 L488.0,602.0 L488.5,601.9 L489.0,601.9 L489.5,602.2 L490.0,602.1 L490.5,602.0 L491.0,601.7 L491.5,601.8 L492.0,601.6 L492.5,601.5 L493.0,601.6 L493.5,601.4 L494.0,601.2 L494.5,601.1 L495.0,600.9 L495.5,600.5 L496.0,599.8 L496.5,598.7 L497.0,597.4 L497.5,596.4 L498.0,594.8 L498.5,593.3 L499.0,592.1 L499.5,590.7 L500.0,590.0 L500.5,589.4 L501.0,589.6 L501.5,589.8 L502.0,591.1 L502.5,592.2 L503.0,593.7 L503.5,595.0 L504.0,596.3 L504.5,597.5 L505.0,598.5 L505.5,599.7 L506.0,600.1 L506.5,600.5 L507.0,601.0 L507.5,601.1 L508.0,601.1 L508.5,601.2 L509.0,601.2 L509.5,601.0 L510.0,601.2 L510.5,601.1 L511.0,600.7 L511.5,600.6 L512.0,600.2 L512.5,599.5 L513.0,599.3 L513.5,598.4 L514.0,597.8 L514.5,597.0 L515.0,595.8 L515.5,595.1 L516.0,593.9 L516.5,592.9 L517.0,592.1 L517.5,590.9 L518.0,589.9 L518.5,589.1 L519.0,589.0 L519.5,588.6 L520.0,588.7 L520.5,588.9 L521.0,589.5 L521.5,590.2 L522.0,591.0 L522.5,591.8 L523.0,592.9 L523.5,593.7 L524.0,594.6 L524.5,595.8 L525.0,596.5 L525.5,597.8 L526.0,598.4 L526.5,599.0 L527.0,599.5 L527.5,600.0 L528.0,600.5 L528.5,601.0 L529.0,601.0 L529.5,601.2 L530.0,601.4 L530.5,601.8 L531.0,601.8 L531.5,601.8 L532.0,602.1 L532.5,601.9 L533.0,601.9 L533.5,601.9 L534.0,601.9 L535.5,602.1 L537.0,602.0 L538.5,602.1 L540.0,602.1 L541.5,602.2 L542.0,602.2 L542.5,602.1 L543.0,602.3 L543.5,602.3 L544.0,602.3 L544.5,602.2 L545.0,602.0 L545.5,601.9 L546.0,602.1 L546.5,601.9 L547.0,601.9 L547.5,601.6 L548.0,601.3 L548.5,600.8 L549.0,600.6 L549.5,599.8 L550.0,599.1 L550.5,598.3 L551.0,597.2 L551.5,596.1 L552.0,594.7 L552.5,593.2 L553.0,592.3 L553.5,591.2 L554.0,590.8 L554.5,591.1 L555.0,591.7 L555.5,592.5 L556.0,593.7 L556.5,594.7 L557.0,595.8 L557.5,597.1 L558.0,598.5 L558.5,599.1 L559.0,599.9 L559.5,600.6 L560.0,600.9 L560.5,601.5 L561.0,601.4 L561.5,601.4 L562.0,601.9 L562.5,601.6 L563.0,601.7 L563.5,601.8 L564.0,602.0 L564.5,601.9 L565.0,601.9 L565.5,602.0 L566.0,602.0 L566.5,602.0 L567.0,601.6 L567.5,601.7 L568.0,601.5 L568.5,601.7 L569.0,601.3 L569.5,601.1 L570.0,600.9 L570.5,600.6 L571.0,599.6 L571.5,598.6 L572.0,596.8 L572.5,594.6 L573.0,591.7 L573.5,588.6 L574.0,585.0 L574.5,581.3 L575.0,577.9 L575.5,575.5 L576.0,575.0 L576.5,575.9 L577.0,578.2 L577.5,581.2 L578.0,585.0 L578.5,588.7 L579.0,592.1 L579.5,594.8 L580.0,597.1 L580.5,598.5 L581.0,599.5 L581.5,600.2 L582.0,600.4 L582.5,600.8 L583.0,600.8 L583.5,600.6 L584.0,600.7 L584.5,600.4 L585.0,600.1 L585.5,600.1 L586.0,599.9 L586.5,599.5 L587.0,599.3 L587.5,598.9 L588.0,599.0 L588.5,599.4 L589.0,599.4 L589.5,599.8 L590.0,599.7 L590.5,599.9 L591.0,600.1 L591.5,600.4 L592.0,601.0 L592.5,601.5 L593.0,601.6 L593.5,601.7 L594.0,601.8 L594.5,601.8 L595.0,601.8 L595.5,601.9 L596.0,601.9 L596.5,602.2 L597.0,602.2 L597.5,602.1 L598.0,602.3 L598.5,602.2 L599.0,602.4 L599.5,602.4 L600.0,602.3 L600.5,602.3 L601.0,602.3 L601.5,602.5 L602.0,602.6 L603.5,602.4 L605.0,602.5 L606.5,602.2 L608.0,602.5 L609.5,602.5 L611.0,602.4 L612.5,602.2 L614.0,602.4 L615.5,602.3 L617.0,602.2 L618.5,602.5 L620.0,602.2 L621.5,602.3 L623.0,602.2 L624.5,602.4 L625.0,602.2 L625.5,602.1 L626.0,602.2 L626.5,602.3 L627.0,602.4 L627.5,602.2 L628.0,602.2 L628.5,602.1 L629.0,602.2 L629.5,602.1 L630.0,602.2 L630.5,602.3 L631.0,602.3 L631.5,602.0 L632.0,602.0 L632.5,601.8 L633.0,601.8 L633.5,601.9 L634.0,601.4 L634.5,601.5 L635.0,601.6 L635.5,601.2 L636.0,601.1 L636.5,601.1 L637.0,600.8 L637.5,600.8 L638.0,600.9 L638.5,600.9 L639.0,600.8 L639.5,600.8 L640.0,601.0 L640.5,601.3 L641.0,601.2 L641.5,601.5 L642.0,601.6 L642.5,601.6 L643.0,601.7 L643.5,602.0 L644.0,601.8 L644.5,602.0 L645.0,602.1 L645.5,602.0 L646.0,602.1 L646.5,602.0 L647.0,602.1 L647.5,602.0 L648.0,602.2 L648.5,602.4 L649.0,602.5 L649.5,602.6 L650.0,602.3 L650.5,602.4 L651.0,602.3 L651.5,602.4 L652.0,602.3 L652.5,602.4 L653.0,602.3 L653.5,602.5 L654.0,602.3 L654.5,602.4 L655.0,602.1 L655.5,602.3 L656.0,602.1 L656.5,602.1 L657.0,602.0 L657.5,602.1 L658.0,602.0 L658.5,601.8 L659.0,602.0 L659.5,601.5 L660.0,601.5 L660.5,601.2 L661.0,601.0 L661.5,600.8 L662.0,601.0 L662.5,600.5 L663.0,600.6 L663.5,600.5 L664.0,600.6 L664.5,600.6 L665.0,600.3 L665.5,600.6 L666.0,600.5 L666.5,600.5 L667.0,600.7 L667.5,601.1 L668.0,601.2 L668.5,601.5 L669.0,601.4 L669.5,601.6 L670.0,601.7 L670.5,602.1 L671.0,602.1 L671.5,602.2 L672.0,602.1 L672.5,602.0 L673.0,602.0 L673.5,602.0 L674.0,602.3 L674.5,602.2 L675.0,602.2 L675.5,602.2 L676.0,602.1 L676.5,602.2 L677.0,602.3 L677.5,602.5 L678.0,602.5 L678.5,602.3 L680.0,602.2 L681.5,602.2 L683.0,602.2 L684.5,602.3 L686.0,602.5 L687.5,602.2 L689.0,602.1 L690.5,602.2 L692.0,602.3 L693.5,602.1 L695.0,602.0 L695.5,602.3 L696.0,602.1 L696.5,602.4 L697.0,602.4 L697.5,602.3 L698.0,602.5 L698.5,602.3 L699.0,602.5 L699.5,602.2 L700.0,602.0 L700.5,602.1 L701.0,602.1 L701.5,602.1 L702.0,601.8 L702.5,601.9 L703.0,601.7 L703.5,601.8 L704.0,601.7 L704.5,601.5 L705.0,601.0 L705.5,600.7 L706.0,600.5 L706.5,600.6 L707.0,600.3 L707.5,600.2 L708.0,600.1 L708.5,600.5 L709.0,600.4 L709.5,600.4 L710.0,600.4 L710.5,600.6 L711.0,600.7 L711.5,601.1 L712.0,601.5 L712.5,601.6 L713.0,601.4 L713.5,601.7 L714.0,602.0 L714.5,601.9 L715.0,602.1 L715.5,601.9 L716.0,602.1 L716.5,602.3 L717.0,602.2 L717.5,602.0 L718.0,602.4 L718.5,602.5 L719.0,602.2 L719.5,602.4 L720.0,602.2 L720.5,602.3 L721.0,602.4 L721.5,602.4 L722.0,602.3 L722.5,602.4 L723.0,602.3 L723.5,602.1 L724.0,602.1 L724.5,602.1 L725.0,602.3 L725.5,602.1 L726.0,602.4 L726.5,602.3 L727.0,602.0 L727.5,602.3 L728.0,602.4 L728.5,602.0 L729.0,602.0 L729.5,601.8 L730.0,601.6 L730.5,601.5 L731.0,601.7 L731.5,601.4 L732.0,601.2 L732.5,601.0 L733.0,601.0 L733.5,601.2 L734.0,600.8 L734.5,600.7 L735.0,600.6 L735.5,600.9 L736.0,600.8 L736.5,601.1 L737.0,601.4 L737.5,601.2 L738.0,601.3 L738.5,601.6 L739.0,601.6 L739.5,601.6 L740.0,602.0 L740.5,602.2 L741.0,602.0 L741.5,602.2 L742.0,602.0 L742.5,602.3 L743.0,602.2 L743.5,602.5 L744.0,602.1 L744.5,602.1 L745.0,602.2 L745.5,602.3 L746.0,602.4 L746.5,602.2 L747.0,602.1 L747.5,602.1 L748.0,602.1 L748.5,602.5 L749.0,602.4 L750.5,602.2 L752.0,602.2 L753.5,602.2 L755.0,602.3 L756.5,602.2 L758.0,602.3 L759.5,602.2 L761.0,602.3 L761.5,602.5 L762.0,602.5 L762.5,602.1 L763.0,602.2 L763.5,602.4 L764.0,602.0 L764.5,602.3 L765.0,602.0 L765.5,601.9 L766.0,601.7 L766.5,602.0 L767.0,601.7 L767.5,601.7 L768.0,601.7 L768.5,601.5 L769.0,601.6 L769.5,601.4 L770.0,600.9 L770.5,600.9 L771.0,600.6 L771.5,600.8 L772.0,600.5 L772.5,600.5 L773.0,600.4 L773.5,600.3 L774.0,600.4 L774.5,600.3 L775.0,600.5 L775.5,600.6 L776.0,600.9 L776.5,601.0 L777.0,600.9 L777.5,601.3 L778.0,601.2 L778.5,601.6 L779.0,601.7 L779.5,601.6 L780.0,601.8 L780.5,601.9 L781.0,602.0 L781.5,602.0 L782.0,602.1 L782.5,602.1 L783.0,602.3 L783.5,602.1 L784.0,602.2 L784.5,602.0 L785.0,602.3 L785.5,602.0 L786.0,602.3 L786.5,602.2 L787.0,602.2 L787.5,602.1 L788.0,602.1 L788.5,601.9 L789.0,601.8 L789.5,601.9 L790.0,601.7 L790.5,601.7 L791.0,601.6 L791.5,601.7 L792.0,601.4 L792.5,600.9 L793.0,600.9 L793.5,600.6 L794.0,600.2 L794.5,600.1 L795.0,600.1 L795.5,600.0 L796.0,599.7 L796.5,599.7 L797.0,599.5 L797.5,599.2 L798.0,599.5 L798.5,599.7 L799.0,599.8 L799.5,599.7 L800.0,600.0 L800.5,600.0 L801.0,600.3 L801.5,600.4 L802.0,601.0 L802.5,601.2 L803.0,601.3 L803.5,601.5 L804.0,601.7 L804.5,601.8 L805.0,601.7 L805.5,601.9 L806.0,602.0 L806.5,602.0 L807.0,602.0 L807.5,602.2 L808.0,602.3 L808.5,602.1 L809.0,602.0 L809.5,602.3 L810.0,602.5 L810.5,602.5 L811.0,602.5 L811.5,602.5 L813.0,602.3 L814.5,602.4 L816.0,602.3 L817.5,602.6 L819.0,602.2 L820.5,602.5 L822.0,602.2 L823.5,602.2 L825.0,602.3 L826.5,602.5 L828.0,602.6 L829.5,602.5 L831.0,602.5 L832.5,602.5 L834.0,602.3 L835.5,602.1 L837.0,602.3 L838.5,602.2 L840.0,602.3 L841.5,602.4 L843.0,602.6 L844.5,602.2 L846.0,602.5 L847.5,602.3 L849.0,602.3 L850.5,602.5 L852.0,602.5 L853.5,602.3 L855.0,602.5 L856.5,602.2 L858.0,602.4 L859.5,602.6 L861.0,602.6 L862.5,602.2 L864.0,602.2 L865.5,602.1 L867.0,602.2 L868.5,602.2 L870.0,602.1 L871.5,602.2 L873.0,602.4 L874.5,602.3 L876.0,602.1 L876.5,602.0 L877.0,601.9 L877.5,602.2 L878.0,602.0 L878.5,602.1 L879.0,601.9 L879.5,602.1 L880.0,601.8 L880.5,601.9 L881.0,601.9 L881.5,601.8 L882.0,601.5 L882.5,601.5 L883.0,601.3 L883.5,600.5 L884.0,599.5 L884.5,598.4 L885.0,596.9 L885.5,595.2 L886.0,592.5 L886.5,589.8 L887.0,587.4 L887.5,585.2 L888.0,583.5 L888.5,583.1 L889.0,583.6 L889.5,585.4 L890.0,587.4 L890.5,590.0 L891.0,592.5 L891.5,594.7 L892.0,597.1 L892.5,598.7 L893.0,599.8 L893.5,600.5 L894.0,601.1 L894.5,601.2 L895.0,601.3 L895.5,601.4 L896.0,601.4 L896.5,601.5 L897.0,601.5 L897.5,601.3 L898.0,601.2 L898.5,601.1 L899.0,600.9 L899.5,600.2 L900.0,599.7 L900.5,598.9 L901.0,598.2 L901.5,597.4 L902.0,596.2 L902.5,595.4 L903.0,594.3 L903.5,593.4 L904.0,592.3 L904.5,591.5 L905.0,591.4 L905.5,591.4 L906.0,591.5 L906.5,592.1 L907.0,592.9 L907.5,593.9 L908.0,595.3 L908.5,596.1 L909.0,597.1 L909.5,598.3 L910.0,599.3 L910.5,599.8 L911.0,600.4 L911.5,600.8 L912.0,601.3 L912.5,601.7 L913.0,601.9 L913.5,601.9 L914.0,601.9 L914.5,602.1 L915.0,602.2 L915.5,602.3 L916.0,602.0 L916.5,602.2 L917.0,602.3 L917.5,602.1 L918.0,601.9 L918.5,602.0 L919.0,602.4 L919.5,602.4 L921.0,602.2 L922.5,602.4 L924.0,602.1 L925.5,602.3 L927.0,602.3 L928.5,602.5 L930.0,602.3 L931.5,602.2 L933.0,602.2 L934.5,602.3 L936.0,602.3 L937.5,602.2 L939.0,602.3 L940.5,602.1 L942.0,602.3 L943.5,602.5 L945.0,602.3 L946.5,602.3 L948.0,602.5 L949.5,602.6 L951.0,602.5 L952.5,602.4 L954.0,602.6 L955.5,602.4 L957.0,602.4 L958.5,602.6 L960.0,602.3 L961.5,602.3 L963.0,602.4 L964.5,602.5 L966.0,602.5 L967.5,602.3 L969.0,602.2 L970.5,602.4 L972.0,602.5 L973.5,602.4 L975.0,602.3 L976.5,602.1 L978.0,602.3 L979.5,602.5 L981.0,602.6 L982.5,602.5 L984.0,602.4 L985.5,602.5 L987.0,602.6 L988.5,602.3 L990.0,602.4 L991.5,602.3 L993.0,602.2 L994.5,602.3 L996.0,602.2 L997.5,602.5 L999.0,602.6 L1000.5,602.3 L1002.0,602.2 L1003.5,602.1 L1005.0,602.5 L1006.5,602.3 L1008.0,602.5 L1009.5,602.6 L1011.0,602.3 L1012.5,602.5 L1014.0,602.1 L1015.5,602.0 L1016.0,602.2 L1016.5,602.1 L1017.0,602.0 L1017.5,602.1 L1018.0,602.2 L1018.5,602.0 L1019.0,602.0 L1019.5,602.0 L1020.0,601.6 L1020.5,601.7 L1021.0,601.4 L1021.5,601.3 L1022.0,601.1 L1022.5,601.0 L1023.0,601.2 L1023.5,600.7 L1024.0,600.7 L1024.5,600.4 L1025.0,600.2 L1025.5,600.4 L1026.0,600.2 L1026.5,600.3 L1027.0,600.1 L1027.5,600.0 L1028.0,600.0 L1028.5,599.7 L1029.0,599.7 L1029.5,600.0 L1030.0,600.3 L1030.5,600.1 L1031.0,600.2 L1031.5,600.5 L1032.0,600.6 L1032.5,600.8 L1033.0,600.7 L1033.5,600.8 L1034.0,601.2 L1034.5,601.4 L1035.0,601.6 L1035.5,601.7 L1036.0,601.9 L1036.5,601.6 L1037.0,601.7 L1037.5,601.7 L1038.0,601.7 L1038.5,602.1 L1039.0,602.0 L1039.5,602.3 L1040.0,602.0 L1040.5,602.1 L1041.0,602.4 L1041.5,602.2 L1042.0,602.3 L1042.5,602.4 L1044.0,602.5 L1045.5,602.3 L1047.0,602.2 L1048.5,602.4 L1050.0,602.3 L1051.5,602.3 L1053.0,602.5 L1054.5,602.2 L1056.0,602.3 L1057.5,602.2 L1059.0,602.3 L1060.5,602.4 L1062.0,602.4 L1062.5,602.4 L1063.0,602.2 L1063.5,602.2 L1064.0,602.2 L1064.5,602.2 L1065.0,602.3 L1065.5,601.9 L1066.0,601.7 L1066.5,602.0 L1067.0,601.8 L1067.5,601.4 L1068.0,601.1 L1068.5,600.7 L1069.0,600.4 L1069.5,599.8 L1070.0,599.4 L1070.5,598.4 L1071.0,597.6 L1071.5,596.5 L1072.0,595.7 L1072.5,594.7 L1073.0,593.9 L1073.5,593.0 L1074.0,592.4 L1074.5,592.2 L1075.0,592.5 L1075.5,593.0 L1076.0,593.2 L1076.5,594.2 L1077.0,594.8 L1077.5,595.8 L1078.0,597.0 L1078.5,598.0 L1079.0,598.8 L1079.5,599.5 L1080.0,600.0 L1080.5,600.4 L1081.0,601.0 L1081.5,601.4 L1082.0,601.5 L1082.5,601.5 L1083.0,601.6 L1083.5,602.0 L1084.0,601.8 L1084.5,602.0 L1085.0,602.2 L1085.5,602.2 L1086.0,602.1 L1086.5,602.2 L1087.0,602.0 L1087.5,602.0 L1088.0,602.1 L1088.5,601.9 L1089.0,602.1 L1090.5,602.2 L1091.0,601.9 L1091.5,601.8 L1092.0,602.1 L1092.5,602.2 L1093.0,602.3 L1093.5,601.9 L1094.0,602.1 L1094.5,602.0 L1095.0,601.9 L1095.5,601.7 L1096.0,601.6 L1096.5,601.3 L1097.0,600.9 L1097.5,600.8 L1098.0,600.1 L1098.5,599.3 L1099.0,598.6 L1099.5,597.5 L1100.0,595.7 L1100.5,594.1 L1101.0,592.1 L1101.5,590.3 L1102.0,588.7 L1102.5,587.2 L1103.0,586.2 L1103.5,586.0 L1104.0,586.4 L1104.5,587.2 L1105.0,588.5 L1105.5,590.4 L1106.0,592.2 L1106.5,594.0 L1107.0,595.6 L1107.5,597.4 L1108.0,598.7 L1108.5,599.4 L1109.0,600.3 L1109.5,600.8 L1110.0,601.0 L1110.5,601.2 L1111.0,601.8 L1111.5,601.7 L1112.0,601.9 L1112.5,602.0 L1113.0,602.1 L1113.5,602.2 L1114.0,601.9 L1114.5,602.0 L1115.0,601.9 L1115.5,602.2 L1116.0,602.3 L1116.5,602.1 L1117.0,602.2 L1117.5,602.0 L1119.0,602.1 L1120.5,602.0 L1122.0,602.1 L1123.5,602.0 L1124.0,601.9 L1124.5,602.0 L1125.0,602.3 L1125.5,602.3 L1126.0,602.3 L1126.5,602.1 L1127.0,602.0 L1127.5,601.9 L1128.0,601.8 L1128.5,601.9 L1129.0,601.7 L1129.5,601.8 L1130.0,601.5 L1130.5,601.6 L1131.0,601.3 L1131.5,601.0 L1132.0,600.9 L1132.5,600.6 L1133.0,600.6 L1133.5,600.4 L1134.0,600.0 L1134.5,599.8 L1135.0,599.6 L1135.5,599.4 L1136.0,599.1 L1136.5,599.0 L1137.0,598.8 L1137.5,598.9 L1138.0,599.0 L1138.5,599.2 L1139.0,599.4 L1139.5,599.2 L1140.0,599.3 L1140.5,599.6 L1141.0,600.2 L1141.5,600.3 L1142.0,600.6 L1142.5,600.8 L1143.0,601.0 L1143.5,601.3 L1144.0,601.5 L1144.5,601.4 L1145.0,601.6 L1145.5,601.9 L1146.0,601.8 L1146.5,601.8 L1147.0,601.8 L1147.5,601.8 L1148.0,601.8 L1148.5,601.6 L1149.0,601.6 L1149.5,601.3 L1150.0,601.1 L1150.5,600.7 L1151.0,600.7 L1151.5,600.1 L1152.0,599.6 L1152.5,599.2 L1153.0,598.5 L1153.5,597.6 L1154.0,597.0 L1154.5,596.2 L1155.0,595.7 L1155.5,595.2 L1156.0,595.2 L1156.5,595.3 L1157.0,595.4 L1157.5,595.8 L1158.0,596.3 L1158.5,597.2 L1159.0,598.0 L1159.5,598.7 L1160.0,599.4 L1160.5,600.0 L1161.0,600.3 L1161.5,600.7 L1162.0,601.3 L1162.5,601.7 L1163.0,601.8 L1163.5,601.7 L1164.0,601.7 L1164.5,602.0 L1165.0,601.9 L1165.5,602.2 L1166.0,602.0 L1166.5,602.0 L1167.0,602.0 L1167.5,602.3 L1168.0,602.1 L1168.5,602.0 L1169.0,602.1 L1169.5,602.0 L1170.0,602.0 L1170.5,602.4 L1172.0,602.3 L1173.5,602.2 L1175.0,602.1 L1176.5,602.4 L1178.0,602.1 L1179.5,602.3 L1181.0,602.3 L1182.5,602.3 L1184.0,602.3 L1185.5,602.5 L1187.0,602.2 L1188.5,602.4 L1190.0,602.2 L1191.5,602.1 L1193.0,602.1 L1194.5,602.2 L1196.0,602.3 L1197.5,602.2 L1199.0,602.2 L1200.5,602.1 L1202.0,602.4 L1203.5,602.6 L1205.0,602.3 L1206.5,602.5 L1208.0,602.5 L1209.5,602.6 L1211.0,602.6 L1212.5,602.5 L1214.0,602.3 L1215.5,602.3 L1217.0,602.3 L1218.5,602.1 L1220.0,602.2 L1221.5,602.1 L1223.0,602.4 L1224.5,602.2 L1226.0,602.2 L1227.5,602.2 L1229.0,602.4 L1230.5,602.5 L1232.0,602.3 L1233.5,602.3 L1235.0,602.1 L1236.5,602.3 L1238.0,602.4 L1239.5,602.4 L1241.0,602.4 L1242.5,602.4 L1244.0,602.5 L1245.5,602.6 L1247.0,602.4 L1248.5,602.5 L1250.0,602.3 L1251.5,602.2 L1253.0,602.5 L1254.5,602.3 L1256.0,602.3 L1257.5,602.2 L1259.0,602.3 L1260.5,602.5 L1262.0,602.2 L1263.5,602.2 L1265.0,602.1 L1266.5,602.2 L1268.0,602.2 L1269.5,602.4 L1271.0,602.4 L1272.5,602.4 L1274.0,602.4 L1275.5,602.6 L1277.0,602.5 L1278.5,602.2 L1280.0,602.4 L1281.5,602.4 L1283.0,602.5 L1284.5,602.2 L1286.0,602.3 L1287.5,602.6 L1289.0,602.6 L1290.5,602.6 L1292.0,602.6 L1293.5,602.6 L1295.0,602.5 L1296.5,602.2 L1298.0,602.4 L1299.5,602.4 L1301.0,602.2 L1302.5,602.1 L1304.0,602.5 L1305.5,602.2 L1307.0,602.2 L1308.5,602.4 L1310.0,602.6 L1311.5,602.3 L1313.0,602.6 L1314.5,602.5 L1316.0,602.4 L1317.5,602.4 L1319.0,602.3 L1320.5,602.4 L1322.0,602.2 L1323.5,602.5 L1325.0,602.3 L1326.5,602.3 L1328.0,602.2 L1329.5,602.2 L1331.0,602.3 L1332.5,602.5 L1334.0,602.2 L1335.5,602.4 L1337.0,602.5 L1338.5,602.4 L1339.0,602.5 L1339.5,602.6 L1340.0,602.4 L1340.5,602.5 L1341.0,602.3 L1341.5,602.1 L1342.0,602.2 L1342.5,602.2 L1343.0,602.0 L1343.5,602.0 L1344.0,602.0 L1344.5,602.2 L1345.0,602.2 L1345.5,601.8 L1346.0,601.9 L1346.5,601.6 L1347.0,601.5 L1347.5,601.5 L1348.0,601.4 L1348.5,601.3 L1349.0,600.8 L1349.5,600.7 L1350.0,600.5 L1350.5,600.6 L1351.0,600.3 L1351.5,600.3 L1352.0,600.5 L1352.5,600.5 L1353.0,600.5 L1353.5,600.8 L1354.0,600.6 L1354.5,600.8 L1355.0,600.8 L1355.5,600.9 L1356.0,601.2 L1356.5,601.4 L1357.0,601.5 L1357.5,601.4 L1358.0,601.7 L1358.5,601.9 L1359.0,602.0 L1359.5,602.1 L1360.0,602.0 L1360.5,602.2 L1361.0,602.3 L1361.5,602.1 L1362.0,602.4 L1362.5,602.1 L1363.0,602.5 L1363.5,602.6 L1364.0,602.6 L1364.5,602.2 L1365.0,602.2 L1365.5,602.1 L1366.0,602.4 L1367.5,602.4 L1369.0,602.4 L1370.5,602.5 L1372.0,602.1 L1373.5,602.4 L1375.0,602.6 L1376.5,602.5 L1378.0,602.3 L1379.5,602.5 L1381.0,602.4 L1382.5,602.5 L1384.0,602.5 L1385.5,602.6 L1387.0,602.4 L1388.5,602.2 L1390.0,602.1 L1391.5,602.0 L1393.0,602.1 L1393.5,602.1 L1394.0,602.4 L1394.5,602.1 L1395.0,602.1 L1395.5,602.2 L1396.0,602.2 L1396.5,602.2 L1397.0,601.9 L1397.5,601.9 L1398.0,601.9 L1398.5,602.1 L1399.0,602.0 L1399.5,601.9 L1400.0,601.5 L1400.5,601.6 L1401.0,601.4 L1401.5,600.9 L1402.0,600.9 L1402.5,600.4 L1403.0,600.0 L1403.5,599.8 L1404.0,599.4 L1404.5,599.3 L1405.0,598.9 L1405.5,599.1 L1406.0,599.0 L1406.5,599.2 L1407.0,599.3 L1407.5,599.4 L1408.0,599.6 L1408.5,599.7 L1409.0,600.1 L1409.5,600.5 L1410.0,600.7 L1410.5,600.7 L1411.0,601.0 L1411.5,601.4 L1412.0,601.6 L1412.5,601.9 L1413.0,601.7 L1413.5,602.0 L1414.0,601.9 L1414.5,602.0 L1415.0,602.2 L1415.5,602.2 L1416.0,602.2 L1416.5,602.3 L1417.0,602.4 L1417.5,602.6 L1418.0,602.3 L1418.5,602.3 L1419.0,602.1 L1419.5,602.1 L1420.0,602.3 L1421.5,602.3 L1423.0,602.2 L1424.5,602.4 L1426.0,602.5 L1427.5,602.3 L1429.0,602.3 L1430.5,602.4 L1432.0,602.6 L1433.5,602.5 L1435.0,602.2 L1436.5,602.3 L1438.0,602.2 L1439.5,602.3 L1440.2,602.4"/>
<path stroke="#fa7800" d="M167.6,729.0 L169.1,728.6 L170.6,728.8 L172.1,728.6 L173.6,728.9 L175.1,728.6 L176.6,728.9 L178.1,728.9 L179.6,728.9 L181.1,729.0 L182.6,728.7 L184.1,728.7 L185.6,728.8 L187.1,728.7 L188.6,728.6 L190.1,728.6 L191.6,728.9 L193.1,729.0 L194.6,728.9 L196.1,728.7 L197.6,728.9 L199.1,728.8 L200.6,728.6 L202.1,728.7 L203.6,728.7 L205.1,728.5 L206.6,728.7 L208.1,728.7 L209.6,728.8 L211.1,728.9 L212.6,728.9 L214.1,728.7 L215.6,728.9 L217.1,729.0 L218.6,728.8 L220.1,729.0 L221.6,728.6 L223.1,728.5 L224.6,728.5 L226.1,728.9 L227.6,728.9 L229.1,728.9 L230.6,728.7 L232.1,728.7 L233.6,728.9 L235.1,728.6 L236.6,728.5 L238.1,728.5 L239.6,728.6 L241.1,728.9 L242.6,728.8 L244.1,728.7 L245.6,728.7 L247.1,728.6 L248.6,728.9 L250.1,728.7 L251.6,728.6 L253.1,728.6 L254.6,728.9 L256.1,728.7 L257.6,728.9 L259.1,728.7 L260.6,728.7 L262.1,728.5 L263.6,728.9 L265.1,728.9 L266.6,728.8 L268.1,728.6 L269.6,728.7 L271.1,728.7 L272.6,728.9 L274.1,729.0 L275.6,728.9 L277.1,728.7 L278.6,728.5 L280.1,728.9 L281.6,729.0 L283.1,728.7 L284.6,728.7 L286.1,728.7 L287.6,729.0 L289.1,728.6 L290.6,728.5 L292.1,728.8 L293.6,728.8 L295.1,728.7 L296.6,728.9 L298.1,728.8 L299.6,728.9 L301.1,728.7 L302.6,728.5 L304.1,728.4 L305.6,728.6 L307.1,728.8 L308.6,728.7 L310.1,728.6 L311.6,728.8 L313.1,728.8 L314.6,728.8 L316.1,728.7 L317.6,728.9 L319.1,728.9 L320.6,729.0 L322.1,729.0 L323.6,728.6 L325.1,728.8 L326.6,728.7 L328.1,728.7 L329.6,728.7 L331.1,728.6 L332.6,728.6 L334.1,728.9 L335.6,728.7 L337.1,728.9 L338.6,728.9 L340.1,728.7 L341.6,728.6 L343.1,728.7 L344.6,728.8 L346.1,728.7 L347.6,728.5 L349.1,728.5 L350.6,728.8 L352.1,728.8 L353.6,728.5 L355.1,728.8 L356.6,728.7 L358.1,728.6 L359.6,728.8 L360.1,728.5 L360.6,728.3 L361.1,728.4 L361.6,728.6 L362.1,728.6 L362.6,728.5 L363.1,728.7 L363.6,728.4 L364.1,728.5 L364.6,728.1 L365.1,728.2 L365.6,727.9 L366.1,727.8 L366.6,727.6 L367.1,727.2 L367.6,726.6 L368.1,726.0 L368.6,725.4 L369.1,724.4 L369.6,723.4 L370.1,722.7 L370.6,721.8 L371.1,720.9 L371.6,720.5 L372.1,720.2 L372.6,720.0 L373.1,720.3 L373.6,720.8 L374.1,721.0 L374.6,721.7 L375.1,722.2 L375.6,722.3 L376.1,722.3 L376.6,722.1 L377.1,721.7 L377.6,721.4 L378.1,721.4 L378.6,720.6 L379.1,720.7 L379.6,720.6 L380.1,720.7 L380.6,720.8 L381.1,721.5 L381.6,722.1 L382.1,723.1 L382.6,724.1 L383.1,724.9 L383.6,725.6 L384.1,726.4 L384.6,726.7 L385.1,727.0 L385.6,727.7 L386.1,727.7 L386.6,728.0 L387.1,728.1 L387.6,728.5 L388.1,728.4 L388.6,728.5 L389.1,728.5 L389.6,728.5 L390.1,728.5 L390.6,728.5 L391.1,728.6 L391.6,728.6 L392.1,728.5 L392.6,728.8 L393.1,728.9 L393.6,728.6 L394.1,728.8 L395.6,728.5 L397.1,728.5 L398.6,728.8 L400.1,728.5 L401.6,728.7 L403.1,728.9 L404.6,728.8 L405.1,728.7 L405.6,728.4 L406.1,728.6 L406.6,728.6 L407.1,728.8 L407.6,728.6 L408.1,728.8 L408.6,728.6 L409.1,728.6 L409.6,728.7 L410.1,728.4 L410.6,728.6 L411.1,728.4 L411.6,728.2 L412.1,728.3 L412.6,728.0 L413.1,727.8 L413.6,727.4 L414.1,727.0 L414.6,727.0 L415.1,726.6 L415.6,726.3 L416.1,726.0 L416.6,725.7 L417.1,725.3 L417.6,725.4 L418.1,725.3 L418.6,725.2 L419.1,725.6 L419.6,725.9 L420.1,725.9 L420.6,726.5 L421.1,726.8 L421.6,726.9 L422.1,727.3 L422.6,727.8 L423.1,727.7 L423.6,728.0 L424.1,728.0 L424.6,728.1 L425.1,728.5 L425.6,728.7 L426.1,728.6 L426.6,728.7 L427.1,728.5 L427.6,728.5 L428.1,728.6 L428.6,728.7 L429.1,728.7 L429.6,728.6 L430.1,728.7 L430.6,728.6 L431.1,728.7 L431.6,728.8 L432.1,728.8 L433.6,728.6 L435.1,728.5 L436.6,728.8 L438.1,728.6 L439.6,728.7 L441.1,728.4 L442.6,728.3 L444.1,728.3 L445.6,728.5 L447.1,728.3 L448.6,728.5 L450.1,728.2 L451.6,728.4 L453.1,728.3 L454.6,728.1 L455.1,727.9 L455.6,727.9 L456.1,727.9 L456.6,727.8 L457.1,727.7 L457.6,727.9 L458.1,727.9 L458.6,727.5 L459.1,727.5 L459.6,727.4 L460.1,727.4 L460.6,727.1 L461.1,726.7 L461.6,726.3 L462.1,725.7 L462.6,724.5 L463.1,722.6 L463.6,719.9 L464.1,715.4 L464.6,709.7 L465.1,701.6 L465.6,691.6 L466.1,680.0 L466.6,667.4 L467.1,655.2 L467.6,644.8 L468.1,638.0 L468.6,636.3 L469.1,640.2 L469.6,648.8 L470.1,659.9 L470.6,672.3 L471.1,685.0 L471.6,696.2 L472.1,705.3 L472.6,712.4 L473.1,717.4 L473.6,720.8 L474.1,723.5 L474.6,724.9 L475.1,725.6 L475.6,726.4 L476.1,726.5 L476.6,726.9 L477.1,727.2 L477.6,727.5 L478.1,727.5 L478.6,727.5 L479.1,727.6 L479.6,727.9 L480.1,727.7 L480.6,727.7 L481.1,727.8 L481.6,728.2 L482.1,728.3 L482.6,728.4 L484.1,728.1 L485.6,728.2 L487.1,728.1 L488.6,728.3 L489.1,728.4 L489.6,728.3 L490.1,728.4 L490.6,728.4 L491.1,728.3 L491.6,728.3 L492.1,728.1 L492.6,728.3 L493.1,728.5 L493.6,728.5 L494.1,728.5 L494.6,728.4 L495.1,728.2 L495.6,728.0 L496.1,727.7 L496.6,727.6 L497.1,727.0 L497.6,726.7 L498.1,725.8 L498.6,724.2 L499.1,722.7 L499.6,720.6 L500.1,718.3 L500.6,715.5 L501.1,713.2 L501.6,711.3 L502.1,710.7 L502.6,710.6 L503.1,711.8 L503.6,713.8 L504.1,716.1 L504.6,718.6 L505.1,720.9 L505.6,722.8 L506.1,724.7 L506.6,725.9 L507.1,726.7 L507.6,727.3 L508.1,727.6 L508.6,727.6 L509.1,728.0 L509.6,728.1 L510.1,727.7 L510.6,727.7 L511.1,727.5 L511.6,727.4 L512.1,727.4 L512.6,727.2 L513.1,726.9 L513.6,726.8 L514.1,726.6 L514.6,726.0 L515.1,725.8 L515.6,725.5 L516.1,725.2 L516.6,724.8 L517.1,724.4 L517.6,723.7 L518.1,723.0 L518.6,722.7 L519.1,722.3 L519.6,722.4 L520.1,722.0 L520.6,722.0 L521.1,722.1 L521.6,722.1 L522.1,722.6 L522.6,722.8 L523.1,723.0 L523.6,723.2 L524.1,723.6 L524.6,724.3 L525.1,724.7 L525.6,725.2 L526.1,725.8 L526.6,726.1 L527.1,726.6 L527.6,726.7 L528.1,726.8 L528.6,727.1 L529.1,727.7 L529.6,727.6 L530.1,727.7 L530.6,727.7 L531.1,728.3 L531.6,728.1 L532.1,728.1 L532.6,728.2 L533.1,728.1 L533.6,728.4 L534.1,728.5 L534.6,728.5 L535.1,728.6 L536.6,728.3 L538.1,728.6 L539.6,728.6 L541.1,728.7 L542.6,728.4 L543.1,728.7 L543.6,728.8 L544.1,728.5 L544.6,728.4 L545.1,728.4 L545.6,728.5 L546.1,728.4 L546.6,728.4 L547.1,728.5 L547.6,728.4 L548.1,728.1 L548.6,728.1 L549.1,727.9 L549.6,727.2 L550.1,726.8 L550.6,726.0 L551.1,725.2 L551.6,724.1 L552.1,723.1 L552.6,721.7 L553.1,720.0 L553.6,718.4 L554.1,717.1 L554.6,716.3 L555.1,715.8 L555.6,715.7 L556.1,716.2 L556.6,717.1 L557.1,718.3 L557.6,720.0 L558.1,721.2 L558.6,722.6 L559.1,724.0 L559.6,725.2 L560.1,726.0 L560.6,726.7 L561.1,727.1 L561.6,727.3 L562.1,727.9 L562.6,727.8 L563.1,728.2 L563.6,728.0 L564.1,728.0 L564.6,728.2 L565.1,728.4 L565.6,728.4 L566.1,728.2 L566.6,728.0 L567.1,728.3 L567.6,728.3 L568.1,728.4 L568.6,728.0 L569.1,728.1 L569.6,728.1 L570.1,728.1 L570.6,727.9 L571.1,727.6 L571.6,727.2 L572.1,726.2 L572.6,725.4 L573.1,723.8 L573.6,721.8 L574.1,718.7 L574.6,715.4 L575.1,711.9 L575.6,708.3 L576.1,704.7 L576.6,702.3 L577.1,700.8 L577.6,701.2 L578.1,703.2 L578.6,706.6 L579.1,710.3 L579.6,714.0 L580.1,717.7 L580.6,720.5 L581.1,722.7 L581.6,724.7 L582.1,725.9 L582.6,726.8 L583.1,727.2 L583.6,727.3 L584.1,727.4 L584.6,727.0 L585.1,726.5 L585.6,726.2 L586.1,726.0 L586.6,725.0 L587.1,724.5 L587.6,723.6 L588.1,722.6 L588.6,721.8 L589.1,721.4 L589.6,720.9 L590.1,721.0 L590.6,721.0 L591.1,721.6 L591.6,722.5 L592.1,723.1 L592.6,723.9 L593.1,724.9 L593.6,725.6 L594.1,726.4 L594.6,727.2 L595.1,727.4 L595.6,727.6 L596.1,728.1 L596.6,728.0 L597.1,728.4 L597.6,728.4 L598.1,728.6 L598.6,728.4 L599.1,728.7 L599.6,728.6 L600.1,728.6 L600.6,728.4 L601.1,728.5 L601.6,728.4 L602.1,728.6 L602.6,728.5 L603.1,728.4 L603.6,728.4 L604.1,728.4 L605.6,728.4 L607.1,728.5 L608.6,728.6 L610.1,728.8 L611.6,728.8 L613.1,728.7 L614.6,728.9 L616.1,728.7 L617.6,728.6 L619.1,728.7 L620.6,728.7 L622.1,728.7 L623.6,728.8 L625.1,728.6 L626.6,728.5 L628.1,728.6 L629.6,728.6 L631.1,728.6 L632.6,728.7 L634.1,728.5 L635.6,728.6 L637.1,728.7 L638.6,728.8 L640.1,728.6 L641.6,728.7 L643.1,728.7 L644.6,728.9 L646.1,728.6 L647.6,728.6 L649.1,728.8 L650.6,728.9 L652.1,728.9 L653.6,728.9 L654.1,728.7 L654.6,728.6 L655.1,728.5 L655.6,728.7 L656.1,728.7 L656.6,728.6 L657.1,728.5 L657.6,728.7 L658.1,728.5 L658.6,728.4 L659.1,728.6 L659.6,728.6 L660.1,728.4 L660.6,728.3 L661.1,728.0 L661.6,727.7 L662.1,727.2 L662.6,726.6 L663.1,726.4 L663.6,725.5 L664.1,725.1 L664.6,724.4 L665.1,724.0 L665.6,723.7 L666.1,723.5 L666.6,723.2 L667.1,723.7 L667.6,723.9 L668.1,724.4 L668.6,725.4 L669.1,726.0 L669.6,726.3 L670.1,727.0 L670.6,727.3 L671.1,727.7 L671.6,728.1 L672.1,728.0 L672.6,728.1 L673.1,728.2 L673.6,728.3 L674.1,728.7 L674.6,728.4 L675.1,728.5 L675.6,728.8 L676.1,728.5 L676.6,728.6 L677.1,728.8 L677.6,728.9 L678.1,728.9 L678.6,728.5 L679.1,728.4 L679.6,728.7 L680.1,728.7 L680.6,728.7 L682.1,728.8 L683.6,728.9 L685.1,728.7 L686.6,728.9 L688.1,728.7 L689.6,728.9 L691.1,728.6 L692.6,728.5 L694.1,728.7 L695.6,728.8 L697.1,728.8 L698.6,728.6 L700.1,728.9 L701.6,729.0 L703.1,729.0 L704.6,728.9 L706.1,728.6 L707.6,728.7 L709.1,728.6 L710.6,728.6 L712.1,728.7 L713.6,728.9 L715.1,728.8 L716.6,729.0 L718.1,728.7 L719.6,728.5 L721.1,728.8 L722.6,728.9 L724.1,728.8 L725.6,728.6 L727.1,728.8 L728.6,728.6 L730.1,728.7 L731.6,728.8 L733.1,728.8 L734.6,728.9 L736.1,728.6 L737.6,728.6 L739.1,728.7 L740.6,728.6 L742.1,728.5 L743.6,728.6 L745.1,728.6 L746.6,728.8 L748.1,729.0 L749.6,728.7 L751.1,728.7 L752.6,728.6 L754.1,728.5 L755.6,728.6 L757.1,728.6 L758.6,728.9 L760.1,728.7 L761.6,728.9 L763.1,728.9 L764.6,728.7 L766.1,728.9 L766.6,728.6 L767.1,728.4 L767.6,728.6 L768.1,728.7 L768.6,728.7 L769.1,728.4 L769.6,728.3 L770.1,728.5 L770.6,728.7 L771.1,728.5 L771.6,728.5 L772.1,728.2 L772.6,728.0 L773.1,728.0 L773.6,728.1 L774.1,727.7 L774.6,727.6 L775.1,727.6 L775.6,727.1 L776.1,727.3 L776.6,726.9 L777.1,727.1 L777.6,726.9 L778.1,726.6 L778.6,726.6 L779.1,726.7 L779.6,726.6 L780.1,726.9 L780.6,727.0 L781.1,727.0 L781.6,727.1 L782.1,727.5 L782.6,727.6 L783.1,727.7 L783.6,727.7 L784.1,727.9 L784.6,727.9 L785.1,728.1 L785.6,728.1 L786.1,728.1 L786.6,728.6 L787.1,728.8 L787.6,728.4 L788.1,728.7 L788.6,728.6 L789.1,728.6 L789.6,728.7 L790.1,728.5 L790.6,728.5 L791.1,728.6 L791.6,728.7 L792.1,728.7 L792.6,728.6 L793.1,728.7 L794.6,728.5 L796.1,728.8 L797.6,728.8 L799.1,728.6 L800.6,728.7 L802.1,728.7 L803.6,728.7 L805.1,728.6 L806.6,728.7 L808.1,728.7 L809.6,729.0 L811.1,729.0 L812.6,728.9 L814.1,728.7 L815.6,728.7 L817.1,728.7 L818.6,728.8 L820.1,728.9 L821.6,728.9 L823.1,729.0 L824.6,728.9 L826.1,728.9 L827.6,728.8 L829.1,728.6 L830.6,728.6 L832.1,728.7 L833.6,728.7 L835.1,728.7 L836.6,728.5 L838.1,728.9 L839.6,728.7 L841.1,728.6 L842.6,728.9 L844.1,728.7 L845.6,728.8 L847.1,728.6 L848.6,728.7 L850.1,728.5 L851.6,728.6 L853.1,728.8 L854.6,728.6 L856.1,728.7 L857.6,728.8 L859.1,728.7 L860.6,728.5 L862.1,728.7 L863.6,728.9 L865.1,728.9 L866.6,729.0 L868.1,728.9 L869.6,728.7 L871.1,728.7 L872.6,728.8 L874.1,728.6 L874.6,728.8 L875.1,728.4 L875.6,728.6 L876.1,728.6 L876.6,728.4 L877.1,728.3 L877.6,728.5 L878.1,728.3 L878.6,728.3 L879.1,728.5 L879.6,728.5 L880.1,728.3 L880.6,728.2 L881.1,728.0 L881.6,728.0 L882.1,727.6 L882.6,727.2 L883.1,726.2 L883.6,725.4 L884.1,723.7 L884.6,721.8 L885.1,719.6 L885.6,716.9 L886.1,713.6 L886.6,711.1 L887.1,709.1 L887.6,708.0 L888.1,708.0 L888.6,709.2 L889.1,711.5 L889.6,714.3 L890.1,717.2 L890.6,720.0 L891.1,722.1 L891.6,724.0 L892.1,725.6 L892.6,726.4 L893.1,727.0 L893.6,727.4 L894.1,727.5 L894.6,727.7 L895.1,728.0 L895.6,727.9 L896.1,727.8 L896.6,728.0 L897.1,727.5 L897.6,727.4 L898.1,727.1 L898.6,726.8 L899.1,726.2 L899.6,725.8 L900.1,725.0 L900.6,724.3 L901.1,723.2 L901.6,722.4 L902.1,721.1 L902.6,720.4 L903.1,719.3 L903.6,718.6 L904.1,718.3 L904.6,717.9 L905.1,718.2 L905.6,718.8 L906.1,719.4 L906.6,720.5 L907.1,721.4 L907.6,722.2 L908.1,723.5 L908.6,724.6 L909.1,725.1 L909.6,725.8 L910.1,726.5 L910.6,727.1 L911.1,727.4 L911.6,727.6 L912.1,727.9 L912.6,728.0 L913.1,728.2 L913.6,728.5 L914.1,728.4 L914.6,728.7 L915.1,728.7 L915.6,728.4 L916.1,728.5 L916.6,728.4 L917.1,728.3 L917.6,728.5 L918.1,728.3 L918.6,728.6 L920.1,728.7 L921.6,728.9 L923.1,728.8 L924.6,728.9 L926.1,728.6 L927.6,728.9 L929.1,728.6 L930.6,728.9 L932.1,728.9 L933.6,728.9 L935.1,728.9 L936.6,728.6 L938.1,728.8 L939.6,728.6 L941.1,728.5 L942.6,728.4 L944.1,728.8 L945.6,728.8 L947.1,728.7 L947.6,728.5 L948.1,728.4 L948.6,728.7 L949.1,728.8 L949.6,728.6 L950.1,728.8 L950.6,728.7 L951.1,728.4 L951.6,728.7 L952.1,728.5 L952.6,728.4 L953.1,728.6 L953.6,728.6 L954.1,728.2 L954.6,728.3 L955.1,727.9 L955.6,727.6 L956.1,727.4 L956.6,727.3 L957.1,727.4 L957.6,727.1 L958.1,727.3 L958.6,727.0 L959.1,726.7 L959.6,726.8 L960.1,726.6 L960.6,726.5 L961.1,726.9 L961.6,726.7 L962.1,726.7 L962.6,726.9 L963.1,727.0 L963.6,727.2 L964.1,727.5 L964.6,727.6 L965.1,727.8 L965.6,727.7 L966.1,727.8 L966.6,728.0 L967.1,728.3 L967.6,728.5 L968.1,728.7 L968.6,728.5 L969.1,728.4 L969.6,728.5 L970.1,728.5 L970.6,728.8 L971.1,728.8 L971.6,728.7 L972.1,728.7 L972.6,728.8 L973.1,728.8 L973.6,728.9 L974.1,728.8 L974.6,728.8 L976.1,729.0 L977.6,729.0 L979.1,728.6 L980.6,728.9 L982.1,728.8 L983.6,728.9 L985.1,729.0 L986.6,729.0 L988.1,728.9 L989.6,728.9 L991.1,729.0 L992.6,728.8 L994.1,728.6 L995.6,728.7 L997.1,728.8 L998.6,728.9 L1000.1,728.8 L1001.6,728.7 L1003.1,728.8 L1004.6,728.7 L1006.1,728.6 L1007.6,728.9 L1009.1,728.8 L1010.6,728.8 L1012.1,728.9 L1013.6,728.8 L1015.1,728.7 L1015.6,728.4 L1016.1,728.6 L1016.6,728.5 L1017.1,728.6 L1017.6,728.8 L1018.1,728.7 L1018.6,728.7 L1019.1,728.3 L1019.6,728.4 L1020.1,728.5 L1020.6,728.3 L1021.1,728.3 L1021.6,728.0 L1022.1,728.0 L1022.6,727.8 L1023.1,727.7 L1023.6,727.7 L1024.1,727.5 L1024.6,727.4 L1025.1,727.1 L1025.6,727.1 L1026.1,727.0 L1026.6,727.0 L1027.1,726.7 L1027.6,726.7 L1028.1,726.8 L1028.6,726.8 L1029.1,726.7 L1029.6,727.0 L1030.1,727.1 L1030.6,727.0 L1031.1,727.4 L1031.6,727.5 L1032.1,727.4 L1032.6,727.6 L1033.1,727.7 L1033.6,727.7 L1034.1,727.8 L1034.6,727.8 L1035.1,727.9 L1035.6,728.3 L1036.1,728.3 L1036.6,728.3 L1037.1,728.4 L1037.6,728.7 L1038.1,728.8 L1038.6,728.5 L1039.1,728.7 L1039.6,728.8 L1040.1,728.9 L1040.6,728.7 L1041.1,728.8 L1041.6,728.6 L1042.1,728.7 L1043.6,728.6 L1045.1,728.7 L1046.6,728.6 L1048.1,728.8 L1049.6,728.5 L1051.1,728.5 L1052.6,728.5 L1054.1,728.6 L1055.6,728.4 L1057.1,728.4 L1058.6,728.4 L1060.1,728.3 L1060.6,728.6 L1061.1,728.7 L1061.6,728.8 L1062.1,728.6 L1062.6,728.4 L1063.1,728.5 L1063.6,728.3 L1064.1,728.1 L1064.6,728.1 L1065.1,728.2 L1065.6,727.8 L1066.1,727.5 L1066.6,727.2 L1067.1,727.0 L1067.6,726.3 L1068.1,725.6 L1068.6,724.7 L1069.1,723.8 L1069.6,723.1 L1070.1,722.2 L1070.6,721.2 L1071.1,720.1 L1071.6,719.1 L1072.1,718.6 L1072.6,718.2 L1073.1,718.1 L1073.6,718.5 L1074.1,719.2 L1074.6,719.9 L1075.1,720.7 L1075.6,722.0 L1076.1,723.0 L1076.6,723.9 L1077.1,724.6 L1077.6,725.4 L1078.1,726.3 L1078.6,726.7 L1079.1,727.0 L1079.6,727.4 L1080.1,727.9 L1080.6,728.2 L1081.1,728.4 L1081.6,728.5 L1082.1,728.5 L1082.6,728.5 L1083.1,728.6 L1083.6,728.5 L1084.1,728.7 L1084.6,728.4 L1085.1,728.2 L1085.6,728.5 L1086.1,728.5 L1086.6,728.7 L1087.1,728.5 L1088.6,728.5 L1089.1,728.3 L1089.6,728.3 L1090.1,728.2 L1090.6,728.1 L1091.1,728.1 L1091.6,728.4 L1092.1,728.5 L1092.6,728.1 L1093.1,728.3 L1093.6,728.1 L1094.1,727.9 L1094.6,727.5 L1095.1,727.5 L1095.6,727.0 L1096.1,726.1 L1096.6,725.3 L1097.1,724.1 L1097.6,722.6 L1098.1,720.8 L1098.6,719.2 L1099.1,717.0 L1099.6,714.7 L1100.1,712.8 L1100.6,711.3 L1101.1,710.7 L1101.6,710.4 L1102.1,710.8 L1102.6,712.2 L1103.1,713.5 L1103.6,715.7 L1104.1,717.6 L1104.6,719.8 L1105.1,721.8 L1105.6,723.5 L1106.1,724.8 L1106.6,725.8 L1107.1,726.8 L1107.6,727.4 L1108.1,727.4 L1108.6,727.6 L1109.1,727.8 L1109.6,728.0 L1110.1,728.0 L1110.6,728.1 L1111.1,728.1 L1111.6,728.2 L1112.1,728.2 L1112.6,728.2 L1113.1,728.6 L1113.6,728.6 L1114.1,728.7 L1114.6,728.5 L1115.1,728.4 L1115.6,728.3 L1117.1,728.6 L1118.6,728.4 L1120.1,728.4 L1121.6,728.5 L1123.1,728.5 L1123.6,728.4 L1124.1,728.5 L1124.6,728.6 L1125.1,728.6 L1125.6,728.4 L1126.1,728.4 L1126.6,728.6 L1127.1,728.7 L1127.6,728.3 L1128.1,728.1 L1128.6,728.0 L1129.1,727.9 L1129.6,728.0 L1130.1,727.6 L1130.6,727.5 L1131.1,727.5 L1131.6,727.0 L1132.1,727.0 L1132.6,726.5 L1133.1,726.3 L1133.6,726.2 L1134.1,726.0 L1134.6,725.8 L1135.1,725.6 L1135.6,725.6 L1136.1,725.8 L1136.6,725.9 L1137.1,725.8 L1137.6,725.8 L1138.1,726.1 L1138.6,726.3 L1139.1,726.6 L1139.6,726.8 L1140.1,726.9 L1140.6,726.9 L1141.1,727.3 L1141.6,727.3 L1142.1,727.5 L1142.6,727.7 L1143.1,727.9 L1143.6,728.0 L1144.1,728.0 L1144.6,727.9 L1145.1,727.8 L1145.6,727.7 L1146.1,727.7 L1146.6,727.6 L1147.1,727.4 L1147.6,727.2 L1148.1,726.5 L1148.6,726.1 L1149.1,725.8 L1149.6,725.1 L1150.1,724.2 L1150.6,723.7 L1151.1,723.0 L1151.6,722.2 L1152.1,721.8 L1152.6,721.2 L1153.1,721.1 L1153.6,721.0 L1154.1,721.5 L1154.6,721.8 L1155.1,722.6 L1155.6,723.4 L1156.1,724.3 L1156.6,724.9 L1157.1,725.4 L1157.6,725.9 L1158.1,726.5 L1158.6,726.9 L1159.1,727.6 L1159.6,727.6 L1160.1,728.1 L1160.6,728.2 L1161.1,728.1 L1161.6,728.5 L1162.1,728.7 L1162.6,728.4 L1163.1,728.7 L1163.6,728.4 L1164.1,728.6 L1164.6,728.5 L1165.1,728.4 L1165.6,728.4 L1166.1,728.7 L1166.6,728.7 L1167.1,728.6 L1167.6,728.5 L1169.1,728.7 L1170.6,728.7 L1172.1,728.7 L1173.6,728.8 L1175.1,728.9 L1176.6,728.8 L1178.1,728.8 L1179.6,728.6 L1181.1,728.5 L1182.6,728.9 L1184.1,728.7 L1185.6,728.9 L1187.1,728.9 L1188.6,728.6 L1190.1,728.8 L1191.6,728.6 L1193.1,728.6 L1194.6,728.5 L1196.1,728.6 L1197.6,728.8 L1199.1,728.7 L1200.6,728.9 L1202.1,728.9 L1203.6,728.7 L1205.1,728.8 L1206.6,728.7 L1208.1,729.0 L1209.6,728.9 L1211.1,728.6 L1212.6,728.8 L1214.1,728.5 L1215.6,728.8 L1217.1,728.5 L1218.6,728.5 L1220.1,728.9 L1221.6,728.8 L1223.1,728.9 L1224.6,728.6 L1226.1,728.7 L1227.6,728.5 L1229.1,728.8 L1230.6,728.7 L1232.1,728.6 L1233.6,728.7 L1235.1,728.5 L1236.6,728.7 L1238.1,728.8 L1239.6,728.9 L1241.1,728.8 L1242.6,728.7 L1244.1,728.9 L1245.6,729.0 L1247.1,728.9 L1248.6,729.0 L1250.1,728.7 L1251.6,728.9 L1253.1,728.8 L1254.6,728.6 L1256.1,728.6 L1257.6,728.8 L1259.1,729.0 L1260.6,729.0 L1262.1,729.1 L1263.6,729.1 L1265.1,728.7 L1266.6,728.9 L1268.1,728.8 L1269.6,728.9 L1271.1,728.8 L1272.6,728.8 L1274.1,728.6 L1275.6,728.9 L1277.1,729.0 L1278.6,728.7 L1280.1,728.7 L1281.6,728.9 L1283.1,728.8 L1284.6,728.6 L1286.1,728.5 L1287.6,728.5 L1289.1,728.8 L1290.6,728.8 L1292.1,728.9 L1293.6,728.8 L1295.1,728.9 L1296.6,728.7 L1298.1,728.9 L1299.6,728.9 L1301.1,728.9 L1302.6,729.0 L1304.1,728.7 L1305.6,729.0 L1307.1,728.8 L1308.6,728.6 L1310.1,728.9 L1311.6,728.6 L1313.1,728.8 L1314.6,728.9 L1316.1,728.8 L1317.6,728.5 L1319.1,728.4 L1320.6,728.7 L1322.1,728.8 L1323.6,728.9 L1325.1,729.0 L1326.6,728.8 L1328.1,728.9 L1329.6,728.8 L1331.1,728.7 L1332.6,728.7 L1334.1,728.5 L1335.6,728.6 L1337.1,728.8 L1338.6,728.5 L1339.1,728.4 L1339.6,728.7 L1340.1,728.9 L1340.6,728.9 L1341.1,729.0 L1341.6,728.8 L1342.1,728.8 L1342.6,728.8 L1343.1,728.6 L1343.6,728.6 L1344.1,728.5 L1344.6,728.5 L1345.1,728.3 L1345.6,728.4 L1346.1,728.3 L1346.6,728.2 L1347.1,727.9 L1347.6,727.8 L1348.1,727.5 L1348.6,727.4 L1349.1,727.1 L1349.6,726.8 L1350.1,726.8 L1350.6,726.7 L1351.1,727.0 L1351.6,726.8 L1352.1,726.8 L1352.6,727.0 L1353.1,726.9 L1353.6,726.8 L1354.1,726.9 L1354.6,726.9 L1355.1,727.2 L1355.6,727.3 L1356.1,727.5 L1356.6,727.6 L1357.1,728.0 L1357.6,728.2 L1358.1,728.3 L1358.6,728.2 L1359.1,728.1 L1359.6,728.3 L1360.1,728.3 L1360.6,728.7 L1361.1,728.7 L1361.6,728.6 L1362.1,728.8 L1362.6,728.5 L1363.1,728.4 L1363.6,728.6 L1364.1,728.9 L1364.6,728.7 L1365.1,728.7 L1365.6,728.5 L1366.1,728.6 L1367.6,728.7 L1369.1,728.5 L1370.6,728.4 L1372.1,728.8 L1373.6,728.9 L1375.1,728.7 L1376.6,728.9 L1378.1,728.8 L1379.6,728.5 L1381.1,728.5 L1382.6,728.5 L1384.1,728.7 L1385.6,728.5 L1387.1,728.7 L1388.6,728.7 L1389.1,728.7 L1389.6,728.5 L1390.1,728.5 L1390.6,728.5 L1391.1,728.6 L1391.6,728.6 L1392.1,728.8 L1392.6,728.9 L1393.1,728.5 L1393.6,728.7 L1394.1,728.6 L1394.6,728.5 L1395.1,728.3 L1395.6,728.5 L1396.1,728.3 L1396.6,728.1 L1397.1,727.8 L1397.6,727.6 L1398.1,727.3 L1398.6,727.0 L1399.1,726.9 L1399.6,726.8 L1400.1,726.2 L1400.6,726.0 L1401.1,725.7 L1401.6,725.9 L1402.1,725.9 L1402.6,725.8 L1403.1,725.7 L1403.6,726.2 L1404.1,726.3 L1404.6,726.6 L1405.1,726.6 L1405.6,726.9 L1406.1,727.3 L1406.6,727.4 L1407.1,727.4 L1407.6,727.8 L1408.1,727.8 L1408.6,728.2 L1409.1,728.3 L1409.6,728.4 L1410.1,728.3 L1410.6,728.3 L1411.1,728.4 L1411.6,728.8 L1412.1,728.8 L1412.6,728.5 L1413.1,728.5 L1413.6,728.7 L1414.1,728.9 L1414.6,728.8 L1415.1,728.6 L1415.6,728.9 L1416.1,728.6 L1416.6,728.5 L1418.1,728.5 L1419.6,728.8 L1421.1,728.9 L1422.6,728.7 L1424.1,728.9 L1425.6,728.6 L1427.1,728.8 L1428.6,729.0 L1430.1,728.6 L1431.6,728.6 L1433.1,728.5 L1434.6,728.6 L1434.9,728.5"/>
<path stroke="#ff0000" d="M166.3,864.1 L167.8,864.1 L169.3,864.1 L170.8,864.1 L172.3,864.1 L173.8,864.2 L175.3,864.1 L176.8,864.2 L178.3,864.0 L179.8,864.0 L181.3,864.1 L182.8,864.0 L184.3,864.2 L185.8,864.1 L187.3,864.3 L188.8,864.4 L190.3,864.2 L191.8,864.4 L193.3,864.4 L194.8,864.3 L196.3,864.0 L197.8,864.1 L199.3,864.2 L200.8,864.1 L202.3,864.1 L203.8,864.1 L205.3,864.1 L206.8,864.3 L208.3,864.2 L209.8,864.2 L211.3,864.3 L212.8,864.4 L214.3,864.2 L215.8,864.0 L217.3,864.4 L218.8,864.4 L220.3,864.4 L221.8,864.3 L223.3,864.1 L224.8,864.0 L226.3,864.1 L227.8,864.2 L229.3,864.0 L230.8,864.3 L232.3,864.4 L233.8,864.0 L235.3,864.3 L236.8,864.3 L238.3,864.4 L239.8,864.3 L241.3,864.4 L242.8,864.3 L244.3,864.3 L245.8,864.3 L247.3,864.0 L248.8,864.0 L250.3,864.1 L251.8,864.1 L253.3,864.2 L254.8,864.2 L256.3,864.3 L257.8,864.2 L259.3,864.2 L260.8,864.2 L262.3,864.5 L263.8,864.5 L265.3,864.4 L266.8,864.5 L268.3,864.2 L269.8,864.1 L271.3,864.0 L272.8,864.0 L274.3,864.0 L275.8,864.2 L277.3,864.5 L278.8,864.2 L280.3,864.3 L281.8,864.5 L283.3,864.5 L284.8,864.2 L286.3,864.3 L287.8,864.2 L289.3,864.1 L290.8,864.0 L292.3,864.2 L293.8,864.5 L295.3,864.2 L296.8,864.1 L298.3,864.2 L299.8,864.0 L301.3,864.2 L302.8,864.4 L304.3,864.3 L305.8,864.1 L307.3,864.0 L308.8,864.1 L310.3,864.3 L311.8,864.5 L313.3,864.4 L314.8,864.1 L316.3,864.1 L317.8,864.2 L319.3,864.1 L320.8,864.1 L322.3,864.2 L323.8,864.4 L325.3,864.2 L326.8,864.5 L328.3,864.5 L329.8,864.4 L331.3,864.2 L332.8,864.1 L334.3,864.4 L335.8,864.5 L337.3,864.5 L338.8,864.3 L340.3,864.3 L341.8,864.1 L343.3,864.2 L344.8,864.2 L346.3,864.1 L347.8,864.1 L349.3,864.5 L350.8,864.3 L352.3,864.3 L353.8,864.4 L355.3,864.3 L356.8,864.4 L358.3,864.4 L359.8,864.4 L361.3,864.2 L362.8,864.4 L364.3,864.4 L365.8,864.5 L367.3,864.3 L368.8,864.3 L370.3,864.5 L371.8,864.5 L373.3,864.2 L374.8,864.2 L376.3,864.2 L377.8,864.4 L379.3,864.3 L380.8,864.3 L382.3,864.2 L383.8,864.3 L385.3,864.5 L386.8,864.5 L388.3,864.3 L389.8,864.3 L391.3,864.4 L392.8,864.2 L394.3,864.5 L395.8,864.2 L397.3,864.4 L398.8,864.2 L400.3,864.5 L401.8,864.5 L403.3,864.3 L403.8,864.3 L404.3,864.5 L404.8,864.6 L405.3,864.5 L405.8,864.5 L406.3,864.5 L406.8,864.6 L407.3,864.4 L407.8,864.4 L408.3,864.4 L408.8,864.3 L409.3,864.1 L409.8,864.2 L410.3,864.0 L410.8,864.1 L411.3,864.1 L411.8,864.0 L412.3,863.6 L412.8,863.3 L413.3,863.5 L413.8,863.4 L414.3,863.4 L414.8,863.2 L415.3,863.2 L415.8,862.8 L416.3,862.7 L416.8,862.9 L417.3,863.1 L417.8,863.0 L418.3,863.4 L418.8,863.3 L419.3,863.4 L419.8,863.6 L420.3,863.6 L420.8,863.7 L421.3,863.8 L421.8,863.8 L422.3,863.9 L422.8,864.2 L423.3,864.4 L423.8,864.4 L424.3,864.3 L424.8,864.4 L425.3,864.2 L425.8,864.4 L426.3,864.3 L426.8,864.1 L427.3,864.2 L427.8,864.1 L428.3,864.4 L428.8,864.3 L429.3,864.1 L429.8,864.1 L430.3,864.1 L431.8,864.4 L433.3,864.3 L434.8,864.4 L436.3,864.4 L437.8,864.3 L439.3,864.4 L440.8,864.3 L442.3,864.0 L443.8,864.4 L445.3,864.2 L446.8,864.2 L448.3,864.1 L449.8,864.3 L451.3,863.9 L452.8,863.7 L454.3,863.5 L454.8,863.6 L455.3,863.8 L455.8,863.6 L456.3,863.8 L456.8,863.4 L457.3,863.6 L457.8,863.2 L458.3,863.3 L458.8,862.9 L459.3,862.9 L459.8,862.7 L460.3,862.6 L460.8,861.9 L461.3,861.4 L461.8,859.9 L462.3,858.5 L462.8,855.7 L463.3,851.6 L463.8,845.9 L464.3,837.7 L464.8,827.6 L465.3,815.5 L465.8,802.1 L466.3,788.8 L466.8,777.3 L467.3,769.3 L467.8,766.5 L468.3,769.4 L468.8,777.2 L469.3,789.0 L469.8,802.4 L470.3,815.6 L470.8,827.5 L471.3,837.6 L471.8,845.8 L472.3,851.6 L472.8,855.8 L473.3,858.2 L473.8,860.2 L474.3,861.4 L474.8,861.8 L475.3,862.2 L475.8,862.7 L476.3,863.1 L476.8,863.2 L477.3,863.0 L477.8,863.1 L478.3,863.5 L478.8,863.5 L479.3,863.8 L479.8,863.7 L480.3,863.9 L480.8,863.7 L481.3,864.0 L481.8,863.9 L483.3,863.7 L484.8,863.8 L486.3,863.9 L487.8,864.0 L489.3,864.4 L490.8,864.5 L492.3,864.6 L493.8,864.3 L495.3,864.4 L496.8,864.5 L498.3,864.5 L499.8,864.6 L501.3,864.6 L502.8,864.6 L504.3,864.3 L505.8,864.2 L507.3,864.3 L508.8,864.3 L509.3,864.5 L509.8,864.2 L510.3,864.2 L510.8,864.4 L511.3,864.2 L511.8,864.1 L512.3,864.0 L512.8,864.0 L513.3,864.0 L513.8,864.3 L514.3,864.2 L514.8,864.0 L515.3,864.1 L515.8,864.0 L516.3,863.7 L516.8,863.6 L517.3,863.5 L517.8,863.4 L518.3,863.1 L518.8,863.0 L519.3,862.9 L519.8,863.0 L520.3,862.7 L520.8,862.5 L521.3,862.3 L521.8,862.3 L522.3,862.4 L522.8,862.8 L523.3,863.1 L523.8,862.9 L524.3,863.2 L524.8,863.5 L525.3,863.8 L525.8,863.9 L526.3,864.0 L526.8,863.8 L527.3,863.9 L527.8,864.3 L528.3,864.5 L528.8,864.6 L529.3,864.4 L529.8,864.5 L530.3,864.6 L530.8,864.4 L531.3,864.3 L531.8,864.4 L532.3,864.4 L532.8,864.2 L533.3,864.1 L533.8,864.6 L534.3,864.4 L534.8,864.4 L535.3,864.5 L535.8,864.4 L537.3,864.5 L538.8,864.5 L540.3,864.2 L541.8,864.1 L542.3,864.2 L542.8,864.2 L543.3,864.5 L543.8,864.4 L544.3,864.2 L544.8,864.4 L545.3,864.2 L545.8,864.2 L546.3,864.3 L546.8,864.3 L547.3,864.1 L547.8,864.0 L548.3,863.7 L548.8,863.9 L549.3,863.6 L549.8,863.1 L550.3,862.1 L550.8,861.2 L551.3,859.8 L551.8,858.0 L552.3,856.1 L552.8,854.3 L553.3,852.3 L553.8,850.8 L554.3,849.6 L554.8,849.7 L555.3,850.6 L555.8,851.8 L556.3,853.6 L556.8,856.0 L557.3,857.7 L557.8,859.5 L558.3,861.1 L558.8,862.1 L559.3,862.7 L559.8,863.2 L560.3,863.5 L560.8,863.6 L561.3,863.9 L561.8,863.9 L562.3,863.9 L562.8,864.2 L563.3,864.0 L563.8,863.9 L564.3,863.9 L564.8,864.2 L565.3,864.1 L565.8,864.0 L566.3,864.1 L566.8,864.3 L567.3,864.4 L567.8,864.0 L568.3,864.0 L568.8,863.8 L569.3,863.9 L569.8,864.0 L570.3,863.8 L570.8,863.6 L571.3,863.3 L571.8,863.2 L572.3,862.6 L572.8,861.6 L573.3,860.1 L573.8,858.2 L574.3,855.6 L574.8,852.3 L575.3,848.8 L575.8,845.7 L576.3,842.5 L576.8,840.2 L577.3,839.1 L577.8,839.7 L578.3,841.3 L578.8,844.0 L579.3,847.4 L579.8,851.2 L580.3,854.4 L580.8,857.1 L581.3,859.1 L581.8,860.8 L582.3,861.9 L582.8,862.6 L583.3,863.5 L583.8,863.8 L584.3,864.0 L584.8,864.0 L585.3,864.2 L585.8,864.3 L586.3,864.1 L586.8,864.4 L587.3,864.4 L587.8,864.1 L588.3,864.1 L588.8,864.0 L589.3,864.3 L589.8,864.2 L590.3,864.2 L590.8,864.1 L591.3,864.3 L591.8,864.3 L593.3,864.4 L594.8,864.3 L596.3,864.5 L597.8,864.6 L599.3,864.5 L600.8,864.7 L602.3,864.6 L603.8,864.6 L605.3,864.4 L606.8,864.4 L608.3,864.6 L609.8,864.5 L611.3,864.4 L612.8,864.5 L614.3,864.5 L615.8,864.4 L617.3,864.4 L618.8,864.7 L620.3,864.8 L621.8,864.6 L623.3,864.7 L624.8,864.7 L626.3,864.5 L627.8,864.6 L629.3,864.4 L630.8,864.6 L632.3,864.6 L633.8,864.4 L635.3,864.6 L636.8,864.5 L638.3,864.6 L639.8,864.9 L641.3,864.8 L642.8,864.5 L644.3,864.6 L645.8,864.6 L647.3,864.8 L648.8,864.6 L650.3,864.4 L651.8,864.5 L653.3,864.5 L654.8,864.8 L656.3,864.8 L657.8,864.7 L659.3,864.8 L660.8,864.6 L662.3,864.5 L663.8,864.6 L665.3,864.7 L666.8,864.6 L668.3,864.8 L669.8,864.7 L671.3,864.5 L672.8,864.6 L674.3,864.8 L675.8,864.6 L677.3,864.6 L678.8,864.6 L680.3,864.9 L681.8,864.9 L683.3,864.8 L684.8,864.6 L686.3,864.7 L687.8,864.7 L689.3,864.6 L690.8,864.7 L692.3,864.5 L693.8,864.8 L695.3,864.8 L696.8,864.8 L698.3,864.8 L699.8,864.8 L701.3,864.6 L702.8,864.7 L704.3,864.5 L705.8,864.7 L707.3,864.6 L708.8,864.7 L710.3,864.8 L711.8,864.6 L713.3,864.5 L714.8,864.8 L716.3,864.6 L717.8,864.9 L719.3,864.9 L720.8,864.6 L722.3,864.7 L723.8,864.9 L725.3,864.8 L726.8,864.8 L728.3,864.6 L729.8,864.6 L731.3,864.8 L732.8,864.5 L734.3,864.7 L735.8,864.6 L737.3,864.6 L738.8,864.8 L740.3,864.7 L741.8,864.7 L743.3,864.9 L744.8,864.7 L746.3,864.9 L747.8,864.7 L749.3,864.7 L750.8,864.5 L752.3,864.9 L753.8,864.7 L755.3,864.7 L756.8,864.9 L758.3,864.7 L759.8,864.5 L761.3,864.5 L762.8,864.4 L763.3,864.4 L763.8,864.8 L764.3,864.8 L764.8,864.8 L765.3,864.7 L765.8,864.6 L766.3,864.6 L766.8,864.5 L767.3,864.6 L767.8,864.6 L768.3,864.4 L768.8,864.2 L769.3,864.2 L769.8,864.0 L770.3,864.2 L770.8,864.1 L771.3,863.8 L771.8,863.5 L772.3,863.4 L772.8,863.5 L773.3,863.1 L773.8,863.2 L774.3,862.9 L774.8,862.7 L775.3,862.9 L775.8,862.9 L776.3,862.7 L776.8,862.9 L777.3,862.8 L777.8,863.1 L778.3,863.2 L778.8,863.3 L779.3,863.3 L779.8,863.6 L780.3,863.6 L780.8,864.0 L781.3,864.0 L781.8,864.2 L782.3,864.0 L782.8,864.0 L783.3,864.2 L783.8,864.2 L784.3,864.3 L784.8,864.5 L785.3,864.7 L785.8,864.4 L786.3,864.6 L786.8,864.4 L787.3,864.6 L787.8,864.7 L788.3,864.6 L788.8,864.4 L789.3,864.3 L789.8,864.4 L790.3,864.4 L790.8,864.0 L791.3,863.9 L791.8,864.1 L792.3,864.0 L792.8,863.6 L793.3,863.4 L793.8,863.2 L794.3,863.2 L794.8,863.4 L795.3,863.4 L795.8,863.1 L796.3,863.1 L796.8,863.1 L797.3,863.2 L797.8,863.2 L798.3,863.3 L798.8,863.6 L799.3,863.6 L799.8,863.6 L800.3,863.7 L800.8,864.1 L801.3,864.3 L801.8,864.1 L802.3,864.5 L802.8,864.6 L803.3,864.3 L803.8,864.7 L804.3,864.4 L804.8,864.4 L805.3,864.4 L805.8,864.6 L806.3,864.7 L806.8,864.6 L807.3,864.7 L807.8,864.9 L808.3,864.6 L808.8,864.5 L809.3,864.8 L809.8,864.5 L810.3,864.6 L811.8,864.6 L813.3,864.7 L814.8,864.5 L816.3,864.5 L817.8,864.7 L819.3,864.9 L820.8,864.6 L822.3,864.8 L823.8,864.6 L825.3,864.9 L826.8,864.9 L828.3,864.9 L829.8,864.7 L831.3,864.7 L832.8,865.0 L834.3,864.8 L835.8,864.9 L837.3,864.9 L838.8,864.7 L840.3,864.7 L841.8,865.0 L843.3,864.9 L844.8,864.7 L846.3,864.8 L847.8,864.7 L849.3,864.8 L850.8,864.9 L852.3,865.0 L853.8,864.9 L855.3,864.6 L856.8,864.7 L858.3,864.6 L859.8,864.7 L861.3,864.7 L862.8,864.7 L864.3,864.6 L865.8,864.6 L867.3,864.6 L868.8,864.8 L870.3,864.6 L871.8,864.7 L873.3,864.9 L874.8,865.0 L876.3,864.8 L876.8,864.7 L877.3,864.7 L877.8,864.6 L878.3,864.8 L878.8,864.6 L879.3,864.3 L879.8,864.6 L880.3,864.4 L880.8,864.6 L881.3,864.6 L881.8,864.3 L882.3,864.1 L882.8,864.3 L883.3,864.2 L883.8,863.8 L884.3,863.1 L884.8,862.5 L885.3,861.7 L885.8,860.0 L886.3,858.1 L886.8,855.7 L887.3,852.5 L887.8,849.0 L888.3,845.8 L888.8,842.7 L889.3,840.9 L889.8,839.9 L890.3,840.9 L890.8,842.8 L891.3,845.6 L891.8,849.2 L892.3,852.6 L892.8,855.3 L893.3,857.9 L893.8,860.1 L894.3,861.3 L894.8,862.5 L895.3,863.1 L895.8,863.5 L896.3,863.7 L896.8,863.7 L897.3,864.0 L897.8,864.3 L898.3,864.0 L898.8,864.1 L899.3,863.7 L899.8,863.8 L900.3,863.2 L900.8,862.8 L901.3,862.2 L901.8,861.6 L902.3,860.7 L902.8,859.6 L903.3,858.4 L903.8,857.2 L904.3,855.6 L904.8,854.3 L905.3,853.6 L905.8,853.2 L906.3,853.1 L906.8,853.7 L907.3,854.3 L907.8,855.6 L908.3,856.8 L908.8,858.3 L909.3,859.7 L909.8,860.9 L910.3,861.8 L910.8,862.6 L911.3,863.0 L911.8,863.6 L912.3,864.0 L912.8,864.2 L913.3,864.1 L913.8,864.5 L914.3,864.7 L914.8,864.8 L915.3,864.6 L915.8,864.6 L916.3,864.7 L916.8,864.9 L917.3,864.7 L917.8,864.6 L918.3,864.8 L918.8,865.0 L919.3,864.9 L919.8,864.9 L920.3,864.8 L921.8,864.6 L923.3,864.9 L924.8,864.8 L926.3,864.9 L927.8,864.7 L929.3,865.0 L930.8,864.7 L932.3,864.8 L933.8,865.0 L935.3,865.0 L936.8,864.7 L938.3,865.0 L939.8,865.1 L941.3,865.1 L942.8,864.8 L944.3,864.6 L945.8,864.8 L947.3,864.9 L948.8,864.7 L950.3,864.8 L951.8,864.7 L953.3,864.6 L954.8,865.0 L956.3,865.0 L957.8,864.8 L959.3,864.9 L960.8,864.7 L962.3,864.8 L963.8,865.0 L965.3,864.8 L966.8,864.7 L968.3,865.1 L969.8,864.8 L971.3,864.9 L972.8,864.9 L974.3,864.9 L975.8,865.0 L977.3,864.8 L978.8,864.9 L980.3,864.8 L981.8,864.9 L983.3,865.0 L984.8,864.9 L986.3,865.0 L987.8,865.0 L989.3,865.0 L990.8,864.9 L992.3,864.8 L992.8,864.9 L993.3,865.0 L993.8,864.9 L994.3,865.1 L994.8,864.8 L995.3,864.9 L995.8,865.1 L996.3,864.8 L996.8,864.9 L997.3,865.0 L997.8,865.0 L998.3,864.8 L998.8,864.6 L999.3,864.7 L999.8,864.7 L1000.3,864.6 L1000.8,864.4 L1001.3,864.0 L1001.8,864.0 L1002.3,863.8 L1002.8,863.9 L1003.3,863.8 L1003.8,863.5 L1004.3,863.5 L1004.8,863.1 L1005.3,863.0 L1005.8,863.1 L1006.3,862.8 L1006.8,863.0 L1007.3,862.9 L1007.8,863.1 L1008.3,863.5 L1008.8,863.8 L1009.3,863.6 L1009.8,863.9 L1010.3,864.0 L1010.8,863.9 L1011.3,864.1 L1011.8,864.4 L1012.3,864.3 L1012.8,864.7 L1013.3,864.9 L1013.8,864.7 L1014.3,864.5 L1014.8,864.5 L1015.3,864.6 L1015.8,865.0 L1016.3,865.0 L1016.8,865.1 L1017.3,865.0 L1017.8,865.1 L1018.3,864.9 L1018.8,865.0 L1019.3,865.2 L1019.8,864.8 L1020.3,864.7 L1021.8,864.6 L1023.3,864.8 L1024.8,864.8 L1026.3,864.8 L1027.8,864.9 L1029.3,864.9 L1030.8,864.9 L1032.3,864.9 L1033.8,865.1 L1035.3,864.8 L1036.8,865.0 L1038.3,865.1 L1039.8,864.8 L1041.3,864.8 L1042.8,865.1 L1044.3,865.0 L1045.8,864.8 L1047.3,865.0 L1048.8,864.8 L1050.3,864.9 L1051.8,865.0 L1053.3,864.7 L1054.8,865.1 L1056.3,864.8 L1057.8,864.6 L1059.3,864.7 L1060.8,864.6 L1062.3,864.8 L1062.8,864.8 L1063.3,864.8 L1063.8,864.8 L1064.3,864.6 L1064.8,864.6 L1065.3,864.9 L1065.8,864.9 L1066.3,864.7 L1066.8,864.6 L1067.3,864.6 L1067.8,864.6 L1068.3,864.0 L1068.8,863.8 L1069.3,863.8 L1069.8,863.3 L1070.3,862.7 L1070.8,862.0 L1071.3,860.9 L1071.8,860.2 L1072.3,859.0 L1072.8,857.6 L1073.3,856.4 L1073.8,855.2 L1074.3,854.2 L1074.8,853.3 L1075.3,852.9 L1075.8,852.7 L1076.3,852.9 L1076.8,853.3 L1077.3,854.1 L1077.8,855.0 L1078.3,856.2 L1078.8,857.5 L1079.3,858.4 L1079.8,859.8 L1080.3,860.9 L1080.8,861.9 L1081.3,862.3 L1081.8,862.8 L1082.3,863.6 L1082.8,864.0 L1083.3,863.9 L1083.8,864.2 L1084.3,864.4 L1084.8,864.3 L1085.3,864.7 L1085.8,864.5 L1086.3,864.8 L1086.8,864.6 L1087.3,864.4 L1087.8,864.5 L1088.3,864.4 L1088.8,864.7 L1089.3,864.8 L1089.8,864.6 L1090.3,864.8 L1091.8,864.6 L1092.3,864.6 L1092.8,864.5 L1093.3,864.6 L1093.8,864.8 L1094.3,864.8 L1094.8,864.8 L1095.3,864.8 L1095.8,864.6 L1096.3,864.3 L1096.8,864.3 L1097.3,864.1 L1097.8,863.9 L1098.3,863.5 L1098.8,862.9 L1099.3,862.4 L1099.8,861.4 L1100.3,860.1 L1100.8,858.4 L1101.3,856.3 L1101.8,854.1 L1102.3,851.5 L1102.8,849.2 L1103.3,846.9 L1103.8,845.1 L1104.3,843.9 L1104.8,843.3 L1105.3,843.6 L1105.8,844.9 L1106.3,846.9 L1106.8,849.4 L1107.3,851.6 L1107.8,854.1 L1108.3,856.2 L1108.8,858.5 L1109.3,860.3 L1109.8,861.6 L1110.3,862.6 L1110.8,863.0 L1111.3,863.5 L1111.8,863.8 L1112.3,864.1 L1112.8,864.4 L1113.3,864.7 L1113.8,864.8 L1114.3,864.5 L1114.8,864.7 L1115.3,864.9 L1115.8,864.8 L1116.3,864.7 L1116.8,864.9 L1117.3,864.6 L1117.8,864.6 L1118.3,864.5 L1118.8,864.7 L1120.3,864.8 L1121.8,865.0 L1123.3,864.8 L1124.8,864.7 L1126.3,864.9 L1127.8,864.7 L1129.3,865.0 L1130.8,865.0 L1132.3,864.9 L1133.8,865.0 L1135.3,864.8 L1136.8,864.9 L1138.3,865.0 L1139.8,865.2 L1141.3,865.2 L1142.8,865.2 L1143.3,864.8 L1143.8,864.7 L1144.3,865.1 L1144.8,865.1 L1145.3,865.2 L1145.8,865.0 L1146.3,864.7 L1146.8,864.7 L1147.3,864.6 L1147.8,864.7 L1148.3,864.4 L1148.8,864.4 L1149.3,864.2 L1149.8,864.1 L1150.3,863.7 L1150.8,863.2 L1151.3,862.6 L1151.8,861.7 L1152.3,860.8 L1152.8,860.0 L1153.3,858.9 L1153.8,858.3 L1154.3,857.0 L1154.8,856.4 L1155.3,856.0 L1155.8,855.7 L1156.3,855.3 L1156.8,855.4 L1157.3,855.8 L1157.8,856.9 L1158.3,857.8 L1158.8,858.5 L1159.3,859.7 L1159.8,860.5 L1160.3,861.2 L1160.8,862.1 L1161.3,862.7 L1161.8,863.4 L1162.3,863.6 L1162.8,864.2 L1163.3,864.4 L1163.8,864.4 L1164.3,864.5 L1164.8,864.5 L1165.3,864.9 L1165.8,864.8 L1166.3,865.0 L1166.8,865.0 L1167.3,864.7 L1167.8,864.7 L1168.3,865.0 L1168.8,864.8 L1169.3,864.7 L1169.8,865.0 L1170.3,865.2 L1171.8,865.0 L1173.3,865.3 L1174.8,865.3 L1176.3,865.1 L1177.8,865.1 L1179.3,865.0 L1180.8,865.3 L1182.3,865.3 L1183.8,865.3 L1185.3,865.1 L1186.8,865.0 L1188.3,864.8 L1189.8,865.2 L1191.3,865.2 L1192.8,865.1 L1194.3,864.9 L1195.8,865.1 L1197.3,865.3 L1198.8,865.3 L1200.3,865.0 L1201.8,865.2 L1203.3,864.9 L1204.8,865.3 L1206.3,865.3 L1207.8,865.1 L1209.3,865.2 L1210.8,865.1 L1212.3,865.1 L1213.8,865.2 L1215.3,865.3 L1216.8,865.3 L1218.3,865.4 L1219.8,865.2 L1221.3,865.3 L1222.8,865.3 L1224.3,865.3 L1225.8,865.3 L1227.3,865.2 L1228.8,865.3 L1230.3,865.2 L1231.8,864.9 L1233.3,864.9 L1234.8,865.3 L1236.3,865.1 L1237.8,865.1 L1239.3,865.4 L1240.8,865.0 L1242.3,865.0 L1243.8,865.3 L1245.3,865.2 L1246.8,865.2 L1248.3,865.0 L1249.8,865.2 L1251.3,865.0 L1252.8,865.1 L1254.3,865.2 L1255.8,865.4 L1257.3,865.2 L1258.8,865.1 L1260.3,865.1 L1261.8,865.1 L1263.3,865.3 L1264.8,865.3 L1266.3,865.4 L1267.8,865.2 L1269.3,865.4 L1270.8,865.2 L1272.3,865.1 L1273.8,865.2 L1275.3,865.1 L1276.8,865.1 L1278.3,865.3 L1279.8,865.4 L1281.3,865.2 L1282.8,865.4 L1284.3,865.4 L1285.8,865.2 L1287.3,865.0 L1288.8,865.1 L1290.3,865.4 L1291.8,865.3 L1293.3,865.2 L1294.8,865.4 L1296.3,865.3 L1297.8,865.4 L1299.3,865.3 L1300.8,865.3 L1302.3,865.2 L1303.8,865.4 L1305.3,865.5 L1306.8,865.2 L1308.3,865.2 L1309.8,865.0 L1311.3,864.9 L1312.8,865.3 L1314.3,865.4 L1315.8,865.5 L1317.3,865.2 L1318.8,865.1 L1320.3,865.0 L1321.8,865.2 L1323.3,865.1 L1324.8,865.2 L1326.3,865.2 L1327.8,865.3 L1329.3,865.3 L1330.8,865.1 L1332.3,865.2 L1333.8,865.1 L1335.3,865.3 L1336.8,865.1 L1338.3,865.0 L1338.8,865.4 L1339.3,865.5 L1339.8,865.5 L1340.3,865.3 L1340.8,865.2 L1341.3,865.2 L1341.8,865.3 L1342.3,865.3 L1342.8,865.2 L1343.3,865.0 L1343.8,865.1 L1344.3,864.9 L1344.8,864.8 L1345.3,864.7 L1345.8,864.4 L1346.3,864.7 L1346.8,864.6 L1347.3,864.5 L1347.8,864.3 L1348.3,863.9 L1348.8,863.6 L1349.3,863.8 L1349.8,863.8 L1350.3,863.6 L1350.8,863.5 L1351.3,863.6 L1351.8,863.3 L1352.3,863.1 L1352.8,863.1 L1353.3,863.1 L1353.8,863.2 L1354.3,863.4 L1354.8,863.9 L1355.3,864.1 L1355.8,864.2 L1356.3,864.1 L1356.8,864.3 L1357.3,864.7 L1357.8,864.9 L1358.3,864.6 L1358.8,864.6 L1359.3,864.8 L1359.8,864.9 L1360.3,864.8 L1360.8,865.1 L1361.3,865.1 L1361.8,865.1 L1362.3,865.0 L1362.8,865.3 L1363.3,865.2 L1363.8,865.1 L1364.3,865.1 L1364.8,865.4 L1365.3,865.5 L1365.8,865.3 L1366.3,865.4 L1367.8,865.4 L1369.3,865.2 L1370.8,865.4 L1372.3,865.4 L1373.8,865.3 L1375.3,865.2 L1376.8,865.3 L1378.3,865.3 L1379.8,865.3 L1381.3,865.2 L1382.8,865.4 L1384.3,865.1 L1385.8,865.0 L1387.3,865.4 L1388.8,865.1 L1389.3,865.2 L1389.8,865.2 L1390.3,865.3 L1390.8,865.4 L1391.3,865.4 L1391.8,865.4 L1392.3,865.1 L1392.8,865.0 L1393.3,865.2 L1393.8,865.1 L1394.3,864.9 L1394.8,865.0 L1395.3,865.0 L1395.8,864.6 L1396.3,864.4 L1396.8,864.2 L1397.3,864.4 L1397.8,864.2 L1398.3,863.7 L1398.8,863.7 L1399.3,863.5 L1399.8,863.3 L1400.3,862.9 L1400.8,862.8 L1401.3,862.7 L1401.8,862.4 L1402.3,862.5 L1402.8,862.3 L1403.3,862.6 L1403.8,862.5 L1404.3,863.0 L1404.8,863.3 L1405.3,863.3 L1405.8,863.8 L1406.3,864.1 L1406.8,864.3 L1407.3,864.6 L1407.8,864.7 L1408.3,865.0 L1408.8,864.8 L1409.3,864.7 L1409.8,865.0 L1410.3,865.0 L1410.8,865.1 L1411.3,865.3 L1411.8,865.5 L1412.3,865.2 L1412.8,865.0 L1413.3,865.4 L1413.8,865.4 L1414.3,865.3 L1414.8,865.3 L1415.3,865.5 L1415.8,865.3 L1416.3,865.1 L1417.8,865.2 L1419.3,865.4 L1420.8,865.6 L1422.3,865.3 L1423.8,865.3 L1425.3,865.3 L1426.8,865.2 L1428.3,865.1 L1429.8,865.4 L1431.3,865.4 L1432.8,865.6 L1434.3,865.3 L1435.8,865.5 L1437.3,865.6 L1438.7,865.4"/>
</g>
<g id="frame" fill="#000">
<polygon points="158.0,23.0 164.0,23.0 166.3,1130.0 160.3,1130.0"/>
<polygon points="1425.0,23.0 1431.0,23.0 1444.0,1130.0 1438.0,1130.0"/>
<rect x="158.0" y="23.0" width="1273.0" height="9.0"/>
<rect x="160.3" y="1121.0" width="1283.7" height="9.0"/>
<rect x="160.6" y="1125.5" width="9.6" height="14.7" rx="2.5"/>
<rect x="276.3" y="1125.5" width="9.6" height="24.3" rx="2.5"/>
<rect x="391.9" y="1125.5" width="9.6" height="14.7" rx="2.5"/>
<rect x="507.6" y="1125.5" width="9.6" height="24.3" rx="2.5"/>
<rect x="623.2" y="1125.5" width="9.6" height="14.7" rx="2.5"/>
<rect x="738.9" y="1125.5" width="9.6" height="24.3" rx="2.5"/>
<rect x="854.5" y="1125.5" width="9.6" height="14.7" rx="2.5"/>
<rect x="970.2" y="1125.5" width="9.6" height="24.3" rx="2.5"/>
<rect x="1085.8" y="1125.5" width="9.6" height="14.7" rx="2.5"/>
<rect x="1201.5" y="1125.5" width="9.6" height="24.3" rx="2.5"/>
<rect x="1317.2" y="1125.5" width="9.6" height="14.7" rx="2.5"/>
<rect x="1432.8" y="1125.5" width="9.6" height="24.3" rx="2.5"/>
</g>
<g id="labels" fill="#000">
<text class="s" text-anchor="end" transform="translate(386.6,253.0) scale(0.982,1)" font-size="55.0">0.5%GN</text>
<text class="s" text-anchor="end" transform="translate(344.1,399.4) scale(0.982,1)" font-size="55.0">1%GN</text>
<text class="s" text-anchor="end" transform="translate(344.1,554.0) scale(0.982,1)" font-size="55.0">2%GN</text>
<text class="s" text-anchor="end" transform="translate(344.1,722.3) scale(0.982,1)" font-size="55.0">3%GN</text>
<text class="s" text-anchor="end" transform="translate(344.1,886.9) scale(0.982,1)" font-size="55.0">5%GN</text>
<text class="s" x="185.0" y="1038.9" font-size="54.6">β-Bi<tspan font-size="36" dy="12">2</tspan><tspan dy="-12">O</tspan><tspan font-size="36" dy="12">3</tspan></text>
<text class="r" font-size="51" transform="translate(436.0,71.0) rotate(90)">(201)</text>
<text class="r" font-size="51" transform="translate(483.0,154.5) rotate(90)">(002)</text>
<text class="r" font-size="51" transform="translate(527.7,187.7) rotate(90)">(220)</text>
<text class="r" font-size="51" transform="translate(577.4,177.4) rotate(90)">(102)</text>
<text class="s" font-size="47.2" transform="translate(849.0,172.7) rotate(90)">(222)</text>
<text class="s" font-size="47.2" transform="translate(903.5,181.7) rotate(90)">(400)</text>
<text class="s" font-size="47.4" transform="translate(1026.0,164.6) rotate(90)">(203)</text>
<text class="s" font-size="45" transform="translate(1078.7,155.0) rotate(90)">(421)</text>
<text class="s" font-size="44.6" transform="translate(1128.7,155.0) rotate(90)">(402)</text>
<text class="g" font-size="36" text-anchor="middle" transform="translate(465.4,948.4) scale(1.150,1.120)" y="12.0">★</text>
<text class="g" font-size="36" text-anchor="middle" transform="translate(414.7,1074.7) scale(1.150,1.120)" y="12.0">★</text>
<text class="g" font-size="36" text-anchor="middle" transform="translate(514.5,1074.7) scale(1.150,1.120)" y="12.0">★</text>
<text class="g" font-size="36" text-anchor="middle" transform="translate(564.7,1074.7) scale(1.150,1.120)" y="12.0">★</text>
<text class="g" font-size="36" text-anchor="middle" transform="translate(584.8,1043.5) scale(1.150,1.120)" y="12.0">★</text>
<text class="g" font-size="36" text-anchor="middle" transform="translate(885.8,1043.6) scale(1.150,1.120)" y="12.0">★</text>
<text class="g" font-size="36" text-anchor="middle" transform="translate(925.2,1074.7) scale(1.150,1.120)" y="12.0">★</text>
<text class="g" font-size="36" text-anchor="middle" transform="translate(1064.4,1074.7) scale(1.150,1.120)" y="12.0">★</text>
<text class="g" font-size="36" text-anchor="middle" transform="translate(1105.4,1043.6) scale(1.150,1.120)" y="12.0">★</text>
<text class="g" font-size="36" text-anchor="middle" transform="translate(1154.5,1074.7) scale(1.150,1.120)" y="12.0">★</text>
<text class="g" font-size="34" fill="#858585" stroke="#858585" stroke-width="0.7" vector-effect="non-scaling-stroke" text-anchor="middle" transform="translate(369.9,273.9) scale(1.020,0.810)" y="10.0">▽</text>
<text class="s" font-size="33" x="1074" y="88.1" textLength="35.5" lengthAdjust="spacingAndGlyphs">---</text>
<text class="g" font-size="36" text-anchor="middle" transform="translate(1131.9,70.9) scale(1.560,1.500)" y="12.0">★</text>
<text class="b" font-size="36" x="1154" y="84.4" textLength="49.5" lengthAdjust="spacingAndGlyphs">---</text>
<text class="s" transform="translate(1201.6,85.4) scale(1.038,1)" font-size="44.3">β-Bi<tspan font-size="30" dy="10">2</tspan><tspan dy="-10">O</tspan><tspan font-size="30" dy="10">3</tspan></text>
<text class="s" font-size="33" x="1074" y="149.9" textLength="35.5" lengthAdjust="spacingAndGlyphs">---</text>
<text class="g" font-size="34" fill="#707070" stroke="#707070" stroke-width="0.6" vector-effect="non-scaling-stroke" text-anchor="middle" transform="translate(1132.1,128.2) scale(1.360,1.130)" y="10.0">▽</text>
<text class="b" font-size="36" x="1154" y="145.9" textLength="49.5" lengthAdjust="spacingAndGlyphs">---</text>
<text class="s" transform="translate(1216.6,148.5) scale(1.038,1)" font-size="44.3">Bi<tspan font-size="30" dy="10">2</tspan><tspan dy="-10">O</tspan><tspan font-size="30" dy="10">2</tspan><tspan dy="-10">CO</tspan><tspan font-size="30" dy="10">3</tspan></text>
<text class="b" font-size="38.4" text-anchor="middle" x="281.1" y="1185.6" textLength="38.2" lengthAdjust="spacingAndGlyphs">20</text>
<text class="b" font-size="38.4" text-anchor="middle" x="512.4" y="1185.6" textLength="38.2" lengthAdjust="spacingAndGlyphs">30</text>
<text class="b" font-size="38.4" text-anchor="middle" x="743.7" y="1185.6" textLength="38.2" lengthAdjust="spacingAndGlyphs">40</text>
<text class="b" font-size="38.4" text-anchor="middle" x="975.0" y="1185.6" textLength="38.2" lengthAdjust="spacingAndGlyphs">50</text>
<text class="b" font-size="38.4" text-anchor="middle" x="1206.3" y="1185.6" textLength="38.2" lengthAdjust="spacingAndGlyphs">60</text>
<text class="b" font-size="38.4" text-anchor="middle" x="1437.6" y="1185.6" textLength="38.2" lengthAdjust="spacingAndGlyphs">70</text>
<text class="b" font-size="45.4" transform="translate(59.3,759.8) rotate(-90)">Intensity(a.u.)</text>
<text class="b" font-size="40" x="670.5" y="1259" textLength="48" lengthAdjust="spacingAndGlyphs">2θ</text>
<text class="b" font-size="40" x="729.5" y="1258.5" style="font-weight:normal">（</text>
<text class="b" font-size="40.4" x="769.5" y="1259">degree</text>
<text class="b" font-size="40" x="908" y="1258.5" style="font-weight:normal">）</text>
</g>
</g>
</svg></body></html>
